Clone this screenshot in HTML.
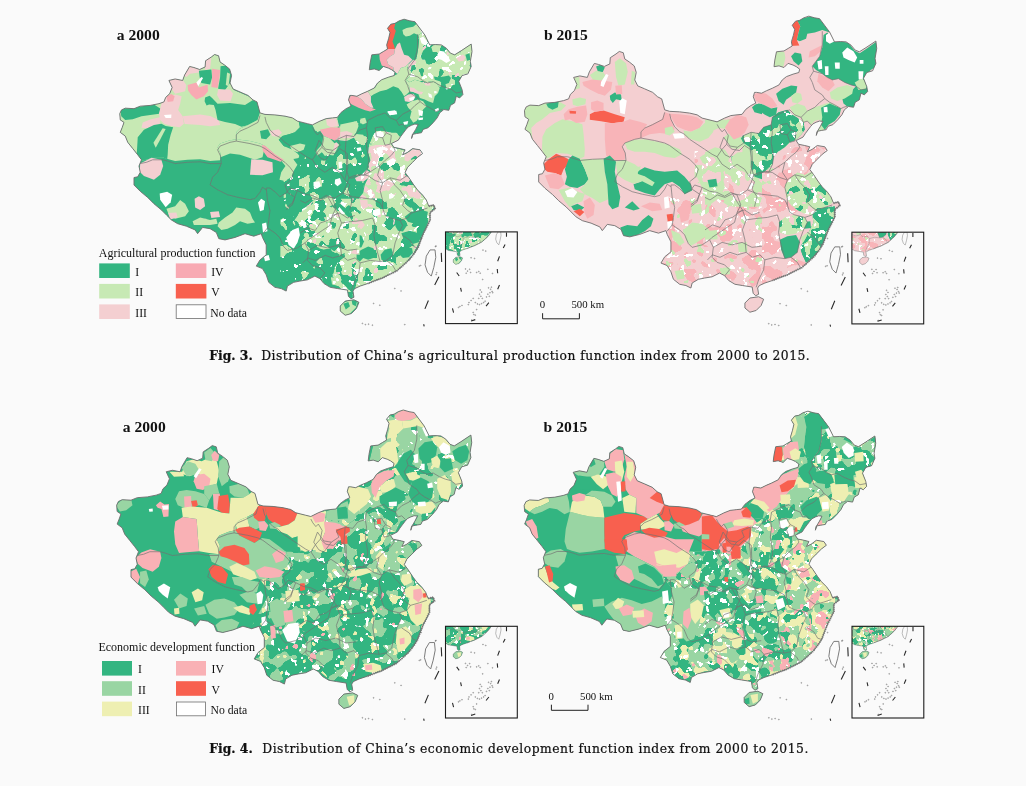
<!DOCTYPE html>
<html><head><meta charset="utf-8"><title>Fig 3 and Fig 4</title>
<style>
html,body{margin:0;padding:0;background:#fafafa;}
body{width:1026px;height:786px;overflow:hidden;position:relative;}
svg{position:absolute;left:0;top:0;}
.t{font-family:"Liberation Serif",serif;fill:#111;}
.ttl{font-family:"Liberation Serif",serif;font-weight:bold;font-size:15.6px;fill:#111;}
.cap{font-family:"DejaVu Serif","Liberation Serif",serif;font-size:12.3px;fill:#111;stroke:#111;stroke-width:0.22px;}
.lg{font-family:"Liberation Serif",serif;font-size:11.7px;fill:#111;}
.lt{font-family:"Liberation Serif",serif;font-size:12px;fill:#111;}
.sb{font-family:"Liberation Serif",serif;font-size:10.8px;fill:#111;}
</style></head><body>
<svg width="1026" height="786" viewBox="0 0 1026 786">
<defs>
<clipPath id="cn"><path d="M119.46,113.55 121.21,109.81 124.95,108.06 133.68,108.56 139.92,106.06 149.9,105.31 158.64,103.57 163.63,101.82 165.37,97.33 169.36,93.59 171.86,87.35 168.62,80.36 174.85,78.87 182.34,80.36 184.34,74.87 189.33,66.39 193.57,67.39 199.31,69.38 204.8,66.89 205.29,60.65 211.03,56.91 214.28,54.41 218.27,55.66 219.77,61.9 224.26,64.89 229.25,68.88 231.24,75.37 229.75,82.86 232.74,88.85 239.73,91.84 247.71,95.33 252.7,99.82 256.69,101.82 259.69,112.8 264.68,114.3 274.66,114.8 284.64,116.04 292.12,117.79 297.12,121.03 307.1,123.53 312.09,124.78 319.57,121.03 325.81,118.54 332.05,117.79 337.04,117.29 340.78,112.3 345.77,108.56 350.76,106.06 348.27,99.82 349.51,95.33 351.6,95.33 356.57,96.16 361.54,93.67 367.34,91.19 373.97,87.88 377.28,82.9 381.42,79.59 388.05,77.11 393.85,75.45 394.68,72.13 391.36,69.65 388.05,67.99 383.08,66.34 378.94,70.48 373.97,68.82 369,69.65 369.82,63.02 371.48,54.74 378.94,53.91 383.08,51.42 387.22,48.94 386.39,44.8 388.38,38.17 389.71,32.37 387.22,28.23 390.54,24.08 394.68,23.26 398.82,20.77 403.79,19.11 409.59,20.77 414.56,21.6 419.53,28.23 424.5,34.85 429.47,44.8 435.27,44.46 441.07,44.8 446.04,48.11 450.19,53.08 454.33,54.74 460.96,50.59 470.9,43.97 471.73,51.42 470.07,61.36 470.9,66.34 467.58,73.79 461.78,75.45 458.47,81.25 461.78,89.53 462.61,94.5 459.3,97.82 455.98,96.16 454.33,102.79 450.19,105.27 448.53,110.24 443.56,109.42 439.42,112.73 436.93,117.7 432.79,122.67 427.82,127.64 422.85,129.3 421.19,132.61 416.22,133.44 412.08,134.27 411.25,138.41 412.9,133.44 415.39,129.3 417.88,124.33 414.56,124 411.25,125.16 407.93,126.81 405.45,129.63 402.96,132.94 400.48,136.26 397.99,140.07 391.07,143.49 393.57,147.23 399.81,148.48 404.8,149.73 402.3,154.72 407.29,152.22 412.28,148.48 419.77,149.73 422.26,153.47 417.27,157.21 412.28,162.2 407.29,167.19 404.8,172.46 408.54,177.45 413.53,184.93 417.27,189.92 422.26,194.91 426,199.9 428.5,206.14 433.49,204.89 434.74,208.64 429.75,212.38 429.75,219.86 426.75,226.1 423.51,232.34 421.01,238.58 417.77,247.31 414.28,252.8 409.29,259.29 402.8,265.27 396.81,270.51 389.33,274.26 381.84,278 374.85,280.5 367.37,283.49 359.88,285.98 354.39,288.48 352.65,290.97 353.65,297.21 350.65,298.71 348.16,296.21 347.16,289.98 337.43,288.48 329.94,287.23 323.7,283.49 319.46,278.5 314.58,276 307.1,279.75 299.61,280.99 293.37,282.24 287.13,285.98 285.89,290.97 280.9,288.48 274.66,287.23 268.42,282.24 265.93,274.76 262.18,268.52 255.95,266.02 259.69,259.79 265.93,254.8 265.93,244.81 262.18,237.33 260.94,233.59 253.45,236.08 244.72,233.59 234.74,237.33 224.76,239.82 218.52,238.58 216.02,232.34 209.79,228.6 202.3,227.35 197.31,233.59 194.81,229.84 186.08,226.1 177.35,223.61 171.11,219.86 166.12,214.87 161.13,209.88 153.65,203.65 147.41,197.41 139.92,191.17 133.68,184.93 133.68,177.45 137.43,176.67 139.92,172.18 138.67,165.95 141.17,159.71 137.43,154.72 132.44,148.48 127.45,142.24 124.95,136 119.96,132.26 121.96,127.27 123.7,122.28 119.96,119.79Z"/><path d="M339.92,305.95 344.91,300.96 353.65,299.71 358.64,302.2 356.14,308.44 351.15,313.43 344.91,315.18 339.92,310.94Z"/></clipPath>
<g id="cnline" fill="none" stroke="#6e6e6e" stroke-width="0.9" stroke-linejoin="round"><path d="M119.46,113.55 121.21,109.81 124.95,108.06 133.68,108.56 139.92,106.06 149.9,105.31 158.64,103.57 163.63,101.82 165.37,97.33 169.36,93.59 171.86,87.35 168.62,80.36 174.85,78.87 182.34,80.36 184.34,74.87 189.33,66.39 193.57,67.39 199.31,69.38 204.8,66.89 205.29,60.65 211.03,56.91 214.28,54.41 218.27,55.66 219.77,61.9 224.26,64.89 229.25,68.88 231.24,75.37 229.75,82.86 232.74,88.85 239.73,91.84 247.71,95.33 252.7,99.82 256.69,101.82 259.69,112.8 264.68,114.3 274.66,114.8 284.64,116.04 292.12,117.79 297.12,121.03 307.1,123.53 312.09,124.78 319.57,121.03 325.81,118.54 332.05,117.79 337.04,117.29 340.78,112.3 345.77,108.56 350.76,106.06 348.27,99.82 349.51,95.33 351.6,95.33 356.57,96.16 361.54,93.67 367.34,91.19 373.97,87.88 377.28,82.9 381.42,79.59 388.05,77.11 393.85,75.45 394.68,72.13 391.36,69.65 388.05,67.99 383.08,66.34 378.94,70.48 373.97,68.82 369,69.65 369.82,63.02 371.48,54.74 378.94,53.91 383.08,51.42 387.22,48.94 386.39,44.8 388.38,38.17 389.71,32.37 387.22,28.23 390.54,24.08 394.68,23.26 398.82,20.77 403.79,19.11 409.59,20.77 414.56,21.6 419.53,28.23 424.5,34.85 429.47,44.8 435.27,44.46 441.07,44.8 446.04,48.11 450.19,53.08 454.33,54.74 460.96,50.59 470.9,43.97 471.73,51.42 470.07,61.36 470.9,66.34 467.58,73.79 461.78,75.45 458.47,81.25 461.78,89.53 462.61,94.5 459.3,97.82 455.98,96.16 454.33,102.79 450.19,105.27 448.53,110.24 443.56,109.42 439.42,112.73 436.93,117.7 432.79,122.67 427.82,127.64 422.85,129.3 421.19,132.61 416.22,133.44 412.08,134.27 411.25,138.41 412.9,133.44 415.39,129.3 417.88,124.33 414.56,124 411.25,125.16 407.93,126.81 405.45,129.63 402.96,132.94 400.48,136.26 397.99,140.07 391.07,143.49 393.57,147.23 399.81,148.48 404.8,149.73 402.3,154.72 407.29,152.22 412.28,148.48 419.77,149.73 422.26,153.47 417.27,157.21 412.28,162.2 407.29,167.19 404.8,172.46 408.54,177.45 413.53,184.93 417.27,189.92 422.26,194.91 426,199.9 428.5,206.14 433.49,204.89 434.74,208.64 429.75,212.38 429.75,219.86 426.75,226.1 423.51,232.34 421.01,238.58 417.77,247.31 414.28,252.8 409.29,259.29 402.8,265.27 396.81,270.51 389.33,274.26 381.84,278 374.85,280.5 367.37,283.49 359.88,285.98 354.39,288.48 352.65,290.97 353.65,297.21 350.65,298.71 348.16,296.21 347.16,289.98 337.43,288.48 329.94,287.23 323.7,283.49 319.46,278.5 314.58,276 307.1,279.75 299.61,280.99 293.37,282.24 287.13,285.98 285.89,290.97 280.9,288.48 274.66,287.23 268.42,282.24 265.93,274.76 262.18,268.52 255.95,266.02 259.69,259.79 265.93,254.8 265.93,244.81 262.18,237.33 260.94,233.59 253.45,236.08 244.72,233.59 234.74,237.33 224.76,239.82 218.52,238.58 216.02,232.34 209.79,228.6 202.3,227.35 197.31,233.59 194.81,229.84 186.08,226.1 177.35,223.61 171.11,219.86 166.12,214.87 161.13,209.88 153.65,203.65 147.41,197.41 139.92,191.17 133.68,184.93 133.68,177.45 137.43,176.67 139.92,172.18 138.67,165.95 141.17,159.71 137.43,154.72 132.44,148.48 127.45,142.24 124.95,136 119.96,132.26 121.96,127.27 123.7,122.28 119.96,119.79Z"/><path d="M339.92,305.95 344.91,300.96 353.65,299.71 358.64,302.2 356.14,308.44 351.15,313.43 344.91,315.18 339.92,310.94Z"/><path d="M429.75,249.81 434.74,249.81 435.49,257.29 433.49,267.27 430.99,276 427.25,272.26 424.76,264.78 426,256.04Z"/></g>
<g id="prov"><g fill="none" stroke="#727272" stroke-width="0.75" stroke-linejoin="round" opacity="0.9"><path d="M259.69,115.3 257.69,122.29 247.21,127.77 239.73,131.02 235.98,134.76 235.98,141 229.75,142.25 219.77,145.99 217.27,149.73 220.27,155.97 221.01,163.46 209.79,163.46 199.81,161.71 187.33,162.21 174.85,163.46 167.37,160.96 162.38,159.71 152.4,159.71 146.16,162.21 139.92,163.46"/><path d="M264.68,116.8 265.93,122.29 269.67,129.77 274.66,134.76 279.65,137.26 284.64,142.25 292.12,147.24 299.61,152.23 307.1,157.22 312.09,159.71 317.08,152.23 321.57,147.24 323.31,138.5 319.57,132.27 317.08,134.76 314.08,131.02 312.09,127.28"/><path d="M235.98,141 249.71,143.49 259.69,145.99 264.68,148.48 274.66,155.97 284.64,162.21 289.63,167.2 293.37,172.19 290.88,179.67 284.64,184.66 287.13,192.15 294.62,197.14 292.12,204.62 285.89,209.62"/><path d="M221.01,163.46 217.27,172.19 212.28,177.18 209.79,184.66 217.27,189.65 227.25,194.64 237.23,197.14 249.71,199.63 254.7,198.39 259.69,192.15 262.18,187.16 265.93,189.65"/><path d="M312.09,159.71 317.08,167.2 324.56,172.19 332.05,167.2 339.53,172.19 344.52,179.67 349.51,184.66 347.02,192.15 352.01,199.63 349.51,209.62"/><path d="M321.57,147.24 327.06,152.23 334.54,153.47 339.53,148.48 347.02,153.47 347.52,167.2 344.52,179.67"/><path d="M265.93,187.93 267.17,200.4 269.67,210.38 268.42,220.36 267.17,227.85 262.18,234.09"/><path d="M265.93,187.93 269.67,187.93 274.66,191.67 279.65,196.66 285.89,192.92 289.63,187.93 297.12,190.42 304.6,194.16 312.09,195.41 319.57,199.15 325.81,195.41 332.05,197.91"/><path d="M285.89,207.64 292.12,202.9 297.12,190.42"/><path d="M267.17,227.85 274.66,232.84 279.65,237.83 283.39,246.56 287.13,250.31 297.12,247.81 304.6,242.82 308.34,250.31 307.1,260.29 312.09,265.28 319.57,267.77 324.56,272.76 319.57,279"/><path d="M332.05,197.91 335.79,207.89 332.05,215.37 329.55,225.35 322.07,230.34 314.58,235.33 307.1,240.32 304.6,242.82"/><path d="M332.05,215.37 339.53,212.88 347.02,217.87 354.5,215.37"/><path d="M308.34,250.31 317.08,245.31 327.06,247.81 337.04,245.31 347.02,250.31 357,249.06"/><path d="M417.27,34.2 417.27,47.93 414.78,59.15 411.03,64.15 407.29,69.14 408.54,74.13 404.8,80.36 407.29,85.35 409.79,92.84 417.27,97.83 419.77,101.57 414.78,105.31 409.79,110.31 402.3,114.05 396.06,120.29 389.82,117.79 384.83,112.8 377.35,115.3 367.37,120.29 366.12,127.77 358.64,130.27 353.65,136.5 346.16,135.26 337.43,139 339.92,145.24 332.44,150.23 324.95,148.98 318.71,140.25"/><path d="M408.54,74.13 417.27,76.62 422.26,80.36 427.25,82.86 433.49,81.61 439.73,85.35 445.96,87.85 450.96,89.1 455.95,92.84 462.18,91.59"/><path d="M419.77,101.57 424.76,105.31 429.75,107.81 435.98,111.55 438.48,110.31 442.22,109.06"/><path d="M396.06,120.29 398.56,125.28 402.3,124.03 406.04,127.77"/><path d="M366.12,127.77 367.37,135.26 366.12,145.24 368.62,160.21 367.37,167.69 363.63,175.18"/><path d="M363.63,175.18 372.36,170.19 379.84,165.2 384.83,160.21 391.07,155.22 394.81,150.23 393.57,147.73"/><path d="M346.16,135.26 344.91,150.23 346.16,160.21 346.16,170.19 348.65,177.67 354.89,175.18 363.63,175.18"/><path d="M379.84,165.2 377.35,175.18 382.34,182.66 389.82,177.67 399.81,180.17 407.29,175.18 407.29,167.69"/><path d="M318.71,140.25 314.97,150.23 319.96,157.71 324.95,160.21 332.44,150.23"/><path d="M374.85,127.77 382.34,126.52 386.08,132.76 382.34,137.75 376.1,136.5 374.85,127.77"/><path d="M386.08,132.76 391.07,135.26 389.82,143.99 384.83,145.24 382.34,137.75"/><path d="M348.65,177.95 346.16,185.43 342.42,192.92 334.93,197.91 327.45,196.66 319.96,200.4 312.48,197.91 304.99,202.9 300,200.4"/><path d="M342.42,192.92 352.4,196.66 362.38,197.91 372.36,199.15 379.84,202.9 382.34,207.89"/><path d="M382.34,182.94 379.84,190.42 382.34,200.4 382.34,207.89 384.83,215.37 389.82,217.87 399.81,220.36 402.3,225.35 398.56,232.84 394.81,242.82 392.32,255.3 386.08,260.29 379.84,261.53"/><path d="M389.82,177.95 394.81,185.43 399.81,190.42 404.8,197.91 402.3,205.39 407.29,210.38 411.03,212.88 419.77,210.38 427.25,207.89"/><path d="M411.03,212.88 407.29,217.87 399.81,220.36"/><path d="M341.17,222.86 349.9,221.61 362.38,220.36 372.36,217.87 374.85,225.35 373.61,235.33 374.85,242.82 377.35,252.8 379.84,261.53 369.86,260.29 359.88,262.78 354.89,257.79 347.41,260.29 341.17,255.3"/><path d="M327.45,196.66 332.44,205.39 337.43,212.88 341.17,222.86 337.43,232.84 339.92,242.82 341.17,255.3 332.44,257.79 324.95,255.3 314.97,260.29 307.49,257.79 302.5,262.78"/><path d="M337.43,212.88 327.45,220.36 319.96,222.86 314.97,230.34 307.49,227.85 300,232.84"/><path d="M359.88,262.78 358.64,272.76 353.65,282.74 351.15,290.23"/><path d="M386.08,260.29 392.32,265.28 396.06,271.51"/><path d="M402.3,235.33 409.79,240.32 413.53,246.56 417.27,247.81"/><path d="M382.34,182.94 374.85,180.44 367.37,175.45 359.88,174.2 352.4,177.95 348.65,177.95"/></g></g>
<path id="coastfuzz" d="M428.5,206.14 433.49,204.89 434.74,208.64 429.75,212.38 429.75,219.86 426.75,226.1 423.51,232.34 421.01,238.58 417.77,247.31 414.28,252.8 409.29,259.29 402.8,265.27 396.81,270.51 389.33,274.26 381.84,278 374.85,280.5 367.37,283.49" fill="none" stroke="#777" stroke-width="2" stroke-dasharray="1.1 0.9" opacity="0.85"/>
</defs>
<g transform="translate(0.3,0.1) scale(1)"><g id="ma">
<g clip-path="url(#cn)"><rect x="100" y="0" width="400" height="340" fill="#33b581"/>
<filter id="f1" x="0" y="0" width="1" height="1" color-interpolation-filters="sRGB">
<feTurbulence type="fractalNoise" baseFrequency="0.09" numOctaves="2" seed="12" result="t1_0"/>
<feColorMatrix in="t1_0" type="matrix" values="0 0 0 0 0.780 0 0 0 0 0.914 0 0 0 0 0.706 60 0 0 0 -37.08" result="l0"/>
<feTurbulence type="fractalNoise" baseFrequency="0.16" numOctaves="2" seed="25" result="t2_0"/>
<feColorMatrix in="t2_0" type="matrix" values="0 0 0 0 1.000 0 0 0 0 1.000 0 0 0 0 1.000 60 0 0 0 -42.64" result="l1"/>
<feMerge><feMergeNode in="SourceGraphic"/><feMergeNode in="l0"/><feMergeNode in="l1"/></feMerge>
<feComposite in2="SourceAlpha" operator="in"/></filter>
<path fill="#33b581" filter="url(#f1)" d="M283.37,133.11 306.57,133.11 314.85,151.34 344.68,143.05 367.88,134.77 369.53,144.71 367.88,167.9 361.25,174.53 354.62,177.85 356.28,181.16 363.73,181.16 359.59,194.42 349.65,202.7 339.71,201.04 326.45,204.36 314.85,198.56 299.94,210.98 283.37,210.98Z"/>
<filter id="f2" x="0" y="0" width="1" height="1" color-interpolation-filters="sRGB">
<feTurbulence type="fractalNoise" baseFrequency="0.08" numOctaves="2" seed="18" result="t1_0"/>
<feColorMatrix in="t1_0" type="matrix" values="0 0 0 0 0.200 0 0 0 0 0.710 0 0 0 0 0.506 60 0 0 0 -37.08" result="l0"/>
<feTurbulence type="fractalNoise" baseFrequency="0.07" numOctaves="2" seed="31" result="t2_0"/>
<feColorMatrix in="t2_0" type="matrix" values="0 0 0 0 0.957 0 0 0 0 0.812 0 0 0 0 0.820 60 0 0 0 -35.34" result="l1"/>
<feTurbulence type="fractalNoise" baseFrequency="0.15" numOctaves="2" seed="44" result="t3_0"/>
<feColorMatrix in="t3_0" type="matrix" values="0 0 0 0 1.000 0 0 0 0 1.000 0 0 0 0 1.000 60 0 0 0 -38.07" result="l2"/>
<feMerge><feMergeNode in="SourceGraphic"/><feMergeNode in="l0"/><feMergeNode in="l1"/><feMergeNode in="l2"/></feMerge>
<feComposite in2="SourceAlpha" operator="in"/></filter>
<path fill="#c7e9b4" filter="url(#f2)" d="M368.7,144.71 372.85,134.77 376.16,130.62 382.79,130.62 389.42,132.28 396.04,132.28 400.19,137.25 396.04,142.22 391.07,143.88 393.56,147.69 399.69,148.85 404.33,150.51 402.67,154.98 407.64,152.5 412.61,148.85 422.55,149.68 422.55,153.99 417.58,157.63 412.61,162.44 407.31,167.9 404.33,174.53 409.3,177.85 414.27,184.47 419.24,192.76 425.04,196.9 432.5,204.36 429.18,225.07 299.94,225.07 296.63,217.61 301.6,210.98 308.23,204.36 314.85,198.56 319.82,201.04 326.45,204.36 333.08,202.7 339.71,201.04 344.68,207.67 349.65,202.7 354.62,201.04 359.59,194.42 362.9,187.79 363.73,181.16 356.28,181.16 354.62,177.85 361.25,174.53 367.88,167.9 370.36,161.28 367.88,152.99Z"/>
<filter id="f3" x="0" y="0" width="1" height="1" color-interpolation-filters="sRGB">
<feTurbulence type="fractalNoise" baseFrequency="0.09" numOctaves="2" seed="19" result="t1_0"/>
<feColorMatrix in="t1_0" type="matrix" values="0 0 0 0 0.780 0 0 0 0 0.914 0 0 0 0 0.706 60 0 0 0 -33.08" result="l0"/>
<feTurbulence type="fractalNoise" baseFrequency="0.15" numOctaves="2" seed="32" result="t2_0"/>
<feColorMatrix in="t2_0" type="matrix" values="0 0 0 0 1.000 0 0 0 0 1.000 0 0 0 0 1.000 60 0 0 0 -37.74" result="l1"/>
<feMerge><feMergeNode in="SourceGraphic"/><feMergeNode in="l0"/><feMergeNode in="l1"/></feMerge>
<feComposite in2="SourceAlpha" operator="in"/></filter>
<path fill="#f4cfd1" filter="url(#f3)" d="M369.53,146.36 376.16,144.71 380.3,149.68 379.47,156.31 376.16,164.59 372.85,169.56 376.16,174.53 382.79,177.85 389.42,181.16 396.04,184.47 397.7,191.1 392.73,197.73 386.1,201.04 379.47,197.73 372.85,201.04 367.88,194.42 362.9,191.1 364.56,182.82 367.88,177.85 369.53,171.22 367.88,164.59 371.19,157.96Z"/>
<filter id="f4" x="0" y="0" width="1" height="1" color-interpolation-filters="sRGB">
<feTurbulence type="fractalNoise" baseFrequency="0.09" numOctaves="2" seed="20" result="t1_0"/>
<feColorMatrix in="t1_0" type="matrix" values="0 0 0 0 0.780 0 0 0 0 0.914 0 0 0 0 0.706 60 0 0 0 -33.66" result="l0"/>
<feTurbulence type="fractalNoise" baseFrequency="0.15" numOctaves="2" seed="33" result="t2_0"/>
<feColorMatrix in="t2_0" type="matrix" values="0 0 0 0 1.000 0 0 0 0 1.000 0 0 0 0 1.000 60 0 0 0 -37.08" result="l1"/>
<feMerge><feMergeNode in="SourceGraphic"/><feMergeNode in="l0"/><feMergeNode in="l1"/></feMerge>
<feComposite in2="SourceAlpha" operator="in"/></filter>
<path fill="#f4cfd1" filter="url(#f4)" d="M356.28,201.04 362.9,199.39 367.88,204.36 369.53,210.98 364.56,217.61 357.93,219.27 354.62,210.98Z"/>
<path fill="#f4cfd1" d="M404.33,154.65 409.3,151.34 415.93,150.51 417.58,153.82 412.61,157.13 407.64,161.28 404.33,160.45Z"/>
<path fill="#c7e9b4" d="M312.37,124.82 318.17,121.51 325.62,119.85 323.14,124 325.62,127.31 319.82,130.62 314.85,130.62Z"/>
<path fill="#f4cfd1" d="M325.62,119.85 331.42,118.2 337.22,119.85 338.88,126.48 331.42,126.48 325.62,127.31 323.14,124Z"/>
<path fill="#f8aab3" d="M319.82,130.62 325.62,127.31 331.42,126.48 338.05,127.31 339.71,130.62 337.22,136.42 334.74,140.57 328.94,138.08 323.14,134.77Z"/>
<path fill="#f4cfd1" d="M337.22,131.45 344.68,129.8 351.31,128.14 352.96,130.62 347.99,133.94 343.02,136.42 337.22,136.42Z"/>
<path fill="#c7e9b4" d="M338.88,126.48 346.34,125.65 354.62,121.51 358.27,123.5 356.28,128.14 351.31,128.14 344.68,129.8 339.71,130.62Z"/>
<path fill="#c7e9b4" d="M359.59,119.85 363.73,118.2 365.39,121.51 362.9,124 359.92,123.17Z"/>
<path fill="#c7e9b4" d="M290,117.37 294.97,119.03 297.46,124 294.97,128.97 290,130.62Z"/>
<path fill="#c7e9b4" d="M290,148.02 294.97,144.71 301.6,143.05 305.74,144.71 304.08,149.68 299.94,152.99 298.28,157.96 293.31,158.79 290,156.31Z"/>
<path fill="#ffffff" d="M293.31,147.19 298.28,145.54 299.11,148.85 294.97,150.51Z"/>
<path fill="#c7e9b4" d="M314.85,151.34 318.17,146.36 321.48,143.88 323.14,148.02 328.11,149.68 333.08,146.36 337.22,143.05 338.88,144.71 336.39,149.68 333.08,155.48 328.11,154.65 321.48,152.16 317.34,155.48Z"/>
<path fill="#f4cfd1" d="M332.25,143.88 336.39,142.22 338.05,144.71 334.74,151.34 332.25,149.68Z"/>
<path fill="#f4cfd1" d="M290,158.79 293.31,159.62 294.14,164.59 291.66,167.9 290,167.08Z"/>
<path fill="#c7e9b4" d="M352.96,136.42 356.28,133.94 362.9,134.77 364.56,138.08 359.59,140.57 355.45,140.57Z"/>
<path fill="#ffffff" d="M356.28,148.02 360.42,147.19 361.25,150.51 357.11,151.34Z"/>
<path fill="#ffffff" d="M338.05,162.11 341.36,161.28 342.19,167.9 338.88,168.73Z"/>
<path fill="#ffffff" d="M313.2,181.99 319,181.16 320.65,186.13 316.51,188.62 313.2,186.13Z"/>
<path fill="#ffffff" d="M334.74,179.5 339.71,177.85 341.36,182.82 337.22,186.13 334.41,183.65Z"/>
<path fill="#ffffff" d="M386.93,111.57 396.04,110.74 396.87,114.05 389.42,115.21Z"/>
<path fill="#ffffff" d="M375.33,132.28 380.3,130.62 382.79,133.94 381.13,137.25 376.16,137.25Z"/>
<path fill="#33b581" d="M349.65,192.76 356.28,187.79 362.9,187.79 363.73,181.16 367.88,177.85 364.56,184.47 362.9,192.76 356.28,201.04 351.31,204.36 346.34,201.04Z"/>
<path fill="#ffffff" d="M376.16,148.02 381.13,146.36 382.79,152.16 379.47,156.31 376.16,152.99Z"/>
<path fill="#ffffff" d="M386.1,161.28 392.73,157.96 396.04,160.45 391.07,165.42 386.93,164.59Z"/>
<path fill="#ffffff" d="M372.02,210.98 377.82,207.67 381.13,212.64 376.99,218.44 372.85,216.78Z"/>
<filter id="f5" x="0" y="0" width="1" height="1" color-interpolation-filters="sRGB">
<feTurbulence type="fractalNoise" baseFrequency="0.09" numOctaves="2" seed="14" result="t1_0"/>
<feColorMatrix in="t1_0" type="matrix" values="0 0 0 0 0.780 0 0 0 0 0.914 0 0 0 0 0.706 60 0 0 0 -39.06" result="l0"/>
<feTurbulence type="fractalNoise" baseFrequency="0.16" numOctaves="2" seed="27" result="t2_0"/>
<feColorMatrix in="t2_0" type="matrix" values="0 0 0 0 1.000 0 0 0 0 1.000 0 0 0 0 1.000 60 0 0 0 -43.65" result="l1"/>
<feMerge><feMergeNode in="SourceGraphic"/><feMergeNode in="l0"/><feMergeNode in="l1"/></feMerge>
<feComposite in2="SourceAlpha" operator="in"/></filter>
<path fill="#33b581" filter="url(#f5)" d="M280.06,216.57 296.63,216.57 303.26,226.51 313.2,224.85 326.45,231.48 316.51,243.08 323.14,249.71 339.71,246.39 344.68,256.34 333.08,272.9 331.42,284.5 323.14,281.19 314.85,276.22 299.94,281.19 280.06,279.53Z"/>
<filter id="f6" x="0" y="0" width="1" height="1" color-interpolation-filters="sRGB">
<feTurbulence type="fractalNoise" baseFrequency="0.07" numOctaves="2" seed="30" result="t1_0"/>
<feColorMatrix in="t1_0" type="matrix" values="0 0 0 0 0.200 0 0 0 0 0.710 0 0 0 0 0.506 60 0 0 0 -33.66" result="l0"/>
<feTurbulence type="fractalNoise" baseFrequency="0.1" numOctaves="2" seed="43" result="t2_0"/>
<feColorMatrix in="t2_0" type="matrix" values="0 0 0 0 0.957 0 0 0 0 0.812 0 0 0 0 0.820 60 0 0 0 -42.64" result="l1"/>
<feTurbulence type="fractalNoise" baseFrequency="0.15" numOctaves="2" seed="56" result="t3_0"/>
<feColorMatrix in="t3_0" type="matrix" values="0 0 0 0 1.000 0 0 0 0 1.000 0 0 0 0 1.000 60 0 0 0 -38.73" result="l2"/>
<feMerge><feMergeNode in="SourceGraphic"/><feMergeNode in="l0"/><feMergeNode in="l1"/><feMergeNode in="l2"/></feMerge>
<feComposite in2="SourceAlpha" operator="in"/></filter>
<path fill="#c7e9b4" filter="url(#f6)" d="M299.94,209.94 309.88,204.97 323.14,198.34 432.5,198.34 434.15,206.63 430.01,211.6 428.35,221.54 424.21,229.82 420.9,238.11 417.58,244.74 413.44,253.02 409.3,257.99 404.33,264.62 399.36,269.59 392.73,274.56 386.1,277.05 380.3,280.36 372.85,282.85 366.22,285.33 359.59,286.99 353.79,289.47 352.13,297.76 347.16,297.76 347.16,290.3 341.36,289.47 338.05,286.16 331.42,284.5 330.59,277.88 333.08,272.9 334.74,266.28 338.05,261.31 344.68,256.34 343.02,251.36 339.71,246.39 331.42,248.05 323.14,249.71 318.17,248.05 316.51,243.08 319.82,238.11 326.45,231.48 328.11,228.17 323.14,224.85 318.17,226.51 313.2,224.85 308.23,228.17 303.26,226.51 298.28,221.54 296.63,216.57Z"/>
<path fill="#33b581" d="M328.94,209.94 333.08,204.97 339.71,203.31 345.51,208.28 343.85,214.08 338.05,214.91 332.25,216.57Z"/>
<path fill="#33b581" d="M314.85,221.54 319.82,218.23 328.11,215.74 333.91,218.23 334.74,224.85 329.77,229 323.14,224.85 318.17,227.34Z"/>
<path fill="#33b581" d="M352.13,237.28 356.28,233.97 361.25,235.62 363.73,241.42 361.25,247.22 356.28,248.05 352.13,243.08Z"/>
<path fill="#33b581" d="M356.28,253.02 361.25,249.71 367.88,246.39 372.85,248.05 376.16,253.02 372.85,257.99 367.88,259.65 362.9,257.99 359.59,261.31 356.28,258.82Z"/>
<path fill="#33b581" d="M380.3,254.68 384.44,249.71 391.07,248.05 392.73,253.02 390.24,257.99 386.1,261.31 381.13,259.65Z"/>
<path fill="#33b581" d="M394.39,221.54 399.36,217.4 404.33,221.54 405.98,226.51 402.67,231.48 397.7,230.65 395.21,226.51Z"/>
<path fill="#33b581" d="M404.33,216.57 410.96,211.6 420.9,209.94 427.52,211.6 426.7,218.23 419.24,221.54 412.61,223.2 407.64,221.54Z"/>
<path fill="#33b581" d="M401.01,233.14 409.3,230.65 415.93,232.31 420.9,235.62 418.41,242.25 412.61,243.91 405.98,240.59 402.67,237.28Z"/>
<path fill="#33b581" d="M398.53,249.71 404.33,246.39 411.78,248.05 412.61,253.02 408.47,257.16 402.67,257.99 399.36,254.68Z"/>
<path fill="#33b581" d="M346.34,291.96 352.13,291.96 352.63,297.76 347.99,298.09Z"/>
<path fill="#33b581" d="M293.31,219.88 299.94,218.23 304.91,223.2 301.6,229.82 294.97,228.17Z"/>
<path fill="#f4cfd1" d="M355.45,221.54 361.25,219.88 364.56,224.85 361.25,229 356.28,227.34Z"/>
<path fill="#f4cfd1" d="M359.59,200 367.05,200 367.88,206.63 362.9,209.11 360.42,204.97Z"/>
<path fill="#ffffff" d="M319.82,221.54 325.62,220.71 327.28,224.85 322.31,227.34 319.49,224.85Z"/>
<path fill="#ffffff" d="M372.85,209.94 379.47,208.28 380.3,214.08 375.33,216.57 372.02,214.08Z"/>
<path fill="#ffffff" d="M290,231.48 294.97,229.82 298.28,234.8 296.63,243.08 291.66,246.39 290,244.74Z"/>
<path fill="#c7e9b4" d="M338.88,307.7 343.02,302.73 351.31,299.42 357.93,300.24 355.45,307.7 347.99,315.16 341.36,314.33Z"/>
<path fill="#33b581" d="M343.02,303.56 347.99,301.9 349.65,306.04 345.51,309.36Z"/>
<path fill="#33b581" d="M351.31,300.24 357.11,300.24 355.45,306.04 352.13,304.39Z"/>
<path fill="#c7e9b4" d="M166.12,208.64 174.85,206.14 179.84,199.9 184.83,203.65 188.58,211.13 184.83,216.12 174.85,218.62 168.62,214.87Z"/>
<path fill="#f4cfd1" d="M194.32,198.65 198.56,196.16 203.55,198.65 204.8,206.14 199.81,209.88 194.81,207.39Z"/>
<path fill="#f4cfd1" d="M167.87,212.88 176.1,212.38 177.35,217.37 169.86,219.36Z"/>
<path fill="#f4cfd1" d="M209.79,211.88 218.52,211.13 219.77,216.87 211.03,217.87Z"/>
<path fill="#f4cfd1" d="M198.56,219.12 206.04,218.62 206.04,223.61 199.31,224.11Z"/>
<path fill="#c7e9b4" d="M218.52,222.36 224.76,217.37 232.24,212.38 235.98,207.39 244.72,208.64 249.71,212.38 252.2,218.62 254.7,222.36 247.21,223.61 239.73,221.11 234.74,224.85 227.25,228.6 221.01,229.84 217.27,226.1Z"/>
<path fill="#c7e9b4" d="M192.32,221.11 199.81,217.37 209.79,219.86 216.02,218.62 217.27,223.61 209.79,224.85 199.81,224.85 193.57,224.85Z"/>
<path fill="#ffffff" d="M257.69,202.4 260.94,198.65 264.68,201.15 263.43,209.88 259.69,211.13Z"/>
<path fill="#ffffff" d="M261.68,223.61 265.93,222.36 267.17,231.09 262.68,232.34Z"/>
<filter id="f7" x="0" y="0" width="1" height="1" color-interpolation-filters="sRGB">
<feTurbulence type="fractalNoise" baseFrequency="0.08" numOctaves="2" seed="38" result="t1_0"/>
<feColorMatrix in="t1_0" type="matrix" values="0 0 0 0 0.200 0 0 0 0 0.710 0 0 0 0 0.506 60 0 0 0 -33.08" result="l0"/>
<feTurbulence type="fractalNoise" baseFrequency="0.1" numOctaves="2" seed="51" result="t2_0"/>
<feColorMatrix in="t2_0" type="matrix" values="0 0 0 0 0.957 0 0 0 0 0.812 0 0 0 0 0.820 60 0 0 0 -42.64" result="l1"/>
<feTurbulence type="fractalNoise" baseFrequency="0.15" numOctaves="2" seed="64" result="t3_0"/>
<feColorMatrix in="t3_0" type="matrix" values="0 0 0 0 1.000 0 0 0 0 1.000 0 0 0 0 1.000 60 0 0 0 -37.41" result="l2"/>
<feMerge><feMergeNode in="SourceGraphic"/><feMergeNode in="l0"/><feMergeNode in="l1"/><feMergeNode in="l2"/></feMerge>
<feComposite in2="SourceAlpha" operator="in"/></filter>
<path fill="#c7e9b4" filter="url(#f7)" d="M292.12,222.36 299.61,212.38 307.1,207.39 314.58,199.9 322.07,198.65 329.55,194.91 334.54,199.9 339.53,207.39 345.77,214.87 352.01,219.86 359.49,224.85 359.49,254.8 347.02,252.3 339.53,254.8 332.05,249.81 324.56,244.81 317.08,247.31 309.59,242.32 302.11,234.83 297.12,229.84Z"/>
<path fill="#ffffff" d="M285.89,237.33 292.12,229.84 298.36,227.35 299.61,234.83 297.12,242.32 293.37,248.56 288.38,244.81Z"/>
<path fill="#ffffff" d="M263.43,256.04 268.42,254.8 269.67,259.79 264.68,261.03Z"/>
<path fill="#c7e9b4" d="M114.97,111.05 162.38,99.82 172.36,84.85 166.12,77.37 189.82,63.65 214.78,51.17 233.49,73.63 233.49,89.84 259.69,101.07 262.18,113.55 257.19,119.79 247.21,125.27 239.73,128.52 235.98,132.26 235.98,139.25 229.75,140.25 219.77,143.49 217.27,147.23 220.27,153.47 219.77,160.21 209.79,160.96 199.81,159.21 187.33,159.71 174.85,160.96 167.37,158.96 162.38,157.21 152.4,157.21 146.16,159.71 139.92,160.96 114.97,134.76Z"/>
<path fill="#33b581" d="M119.96,109.31 133.68,107.31 153.65,104.32 160.38,108.56 158.88,113.55 149.9,114.8 141.17,116.04 132.44,119.04 124.95,119.79 120.96,116.04Z"/>
<path fill="#f4cfd1" d="M161.38,102.82 165.37,96.83 174.85,94.34 181.34,96.08 179.84,103.57 177.85,109.81 182.34,116.04 183.59,123.53 179.35,127.27 171.11,126.02 163.63,123.53 159.88,119.79 158.64,113.55 159.88,108.56Z"/>
<path fill="#f4cfd1" d="M160.38,116.79 149.9,119.29 142.42,122.28 141.17,127.77 148.65,128.52 159.38,123.78Z"/>
<path fill="#f4cfd1" d="M182.34,116.04 199.81,114.3 209.79,115.79 218.52,119.79 219.77,124.78 209.79,126.27 199.81,124.78 184.34,123.78Z"/>
<path fill="#f8aab3" d="M166.12,96.08 171.11,93.84 174.35,96.08 172.86,101.07 167.37,101.82Z"/>
<path fill="#ffffff" d="M163.63,114.8 171.11,114.3 170.86,117.79 165.37,117.79Z"/>
<path fill="#33b581" d="M137.43,137.25 143.66,129.77 153.65,124.78 161.13,123.53 165.37,126.02 172.86,127.27 170.36,134.76 167.87,144.74 167.37,154.72 166.87,159.21 162.38,157.21 152.4,157.71 146.16,159.71 139.92,160.96 136.43,154.72 136.93,145.98Z"/>
<path fill="#c7e9b4" d="M153.15,142.74 162.38,128.27 165.37,129.02 158.88,141.49 155.39,147.73Z"/>
<path fill="#f4cfd1" d="M168.62,79.86 174.85,78.37 182.84,80.36 186.08,84.85 184.83,91.09 174.85,93.59 171.11,88.6Z"/>
<path fill="#f4cfd1" d="M183.59,75.37 189.33,65.89 199.31,69.38 198.56,72.38 189.82,73.63 186.08,76.87Z"/>
<path fill="#33b581" d="M198.56,70.63 211.03,69.38 211.78,77.37 209.79,84.35 201.05,82.86 199.31,76.87Z"/>
<path fill="#ffffff" d="M196.06,82.36 201.05,76.87 202.8,77.87 197.81,86.35 195.81,85.35Z"/>
<path fill="#f8aab3" d="M187.33,84.85 196.06,82.36 198.56,87.35 207.29,84.35 207.79,91.09 203.55,96.08 196.06,99.33 191.07,94.83 187.83,90.34Z"/>
<path fill="#f4cfd1" d="M204.8,59.9 211.03,57.41 209.79,68.64 204.8,69.88Z"/>
<path fill="#f8aab3" d="M211.78,68.64 219.77,69.88 219.27,77.37 217.27,87.85 211.03,86.85 211.78,77.37Z"/>
<path fill="#33b581" d="M220.27,66.14 226,65.39 230.25,69.88 231.24,76.12 229.75,82.86 224.76,89.84 217.77,88.6 219.77,77.37Z"/>
<path fill="#c7e9b4" d="M226.75,72.38 229.75,73.63 228.25,86.1 225.5,84.85Z"/>
<path fill="#f4cfd1" d="M217.77,89.35 229.75,89.35 232.74,93.59 230.25,101.07 219.77,100.32 216.77,94.83Z"/>
<path fill="#33b581" d="M204.8,97.33 209.29,95.58 211.78,97.83 217.27,103.57 229.75,102.82 244.72,104.81 252.7,99.82 256.69,101.82 260.19,112.8 257.69,119.79 247.71,125.27 241.22,126.77 234.74,123.78 224.76,121.78 217.27,119.79 215.27,109.81 213.53,104.81 208.79,104.32 206.29,105.31 204.3,101.07Z"/>
<path fill="#c7e9b4" d="M259.69,112.3 274.66,114.3 292.12,117.29 298.36,121.03 299.61,127.27 294.62,132.26 289.63,134.01 282.14,136 278.4,139.75 283.39,145.98 292.12,149.73 293.37,159.71 297.12,164.7 293.37,170.94 290.88,177.17 284.64,180.92 279.15,179.67 280.9,172.18 285.14,165.95 280.15,159.71 274.66,154.72 264.68,145.98 259.69,143.49 249.71,140.99 239.73,139.75 229.75,140.25 235.98,139.25 235.98,132.26 239.73,128.52 247.21,125.27 257.19,119.79Z"/>
<path fill="#33b581" d="M259.69,131.01 267.67,129.27 270.17,134.76 265.93,139.25 260.94,138.5Z"/>
<path fill="#f4cfd1" d="M269.67,131.01 278.4,129.27 281.65,132.76 277.65,136.75 271.66,136Z"/>
<path fill="#33b581" d="M278.4,139.75 282.14,136 289.63,134.01 294.62,132.26 299.61,127.27 298.61,121.78 307.1,123.53 312.09,124.78 314.08,132.26 319.57,136 321.57,144.74 317.08,149.73 312.09,157.21 307.1,154.72 302.6,159.71 297.12,153.47 292.12,149.73 283.39,145.98Z"/>
<path fill="#c7e9b4" d="M289.63,145.98 299.61,143.49 305.1,144.74 303.35,149.73 297.12,152.22 291.63,150.23Z"/>
<path fill="#c7e9b4" d="M219.77,143.49 229.75,140.25 239.73,139.75 249.71,140.99 259.69,143.49 264.68,145.98 262.18,157.21 254.7,159.71 247.21,157.21 239.73,154.72 229.75,153.47 220.27,157.21 220.27,153.47 217.27,147.23Z"/>
<path fill="#f8aab3" d="M261.68,144.74 265.18,145.98 274.66,154.22 283.39,159.71 280.15,161.7 274.66,159.71 267.17,157.21 262.68,150.97Z"/>
<path fill="#f4cfd1" d="M250.96,159.21 262.18,159.71 272.16,162.2 272.66,172.18 262.18,175.18 249.71,174.68Z"/>
<path fill="#c7e9b4" d="M312.09,124.78 319.57,121.03 325.81,118.54 337.04,117.29 337.54,127.27 332.05,129.77 323.31,129.27 317.08,132.26Z"/>
<path fill="#f4cfd1" d="M325.81,119.29 335.79,117.79 337.54,126.02 330.8,127.27 326.56,124.78Z"/>
<path fill="#f8aab3" d="M319.57,129.77 330.8,127.27 339.53,127.77 343.27,132.26 335.79,139.75 329.55,138.5 323.31,136Z"/>
<path fill="#f4cfd1" d="M335.79,139.75 343.27,132.26 352.01,131.01 354.5,137.25 345.77,140.99Z"/>
<path fill="#c7e9b4" d="M321.57,144.74 323.31,136 329.55,138.5 334.54,143.49 332.05,153.47 324.56,155.96 320.82,150.97Z"/>
<path fill="#f4cfd1" d="M139.92,163.45 151.15,157.71 161.13,159.71 162.88,165.95 159.88,174.68 153.65,179.67 143.66,175.93 139.42,171.68Z"/>
<path fill="#ffffff" d="M159.38,193.39 166.87,191.65 171.86,194.64 170.36,202.12 165.37,207.12 159.88,199.63Z"/>
<path fill="#f8604f" d="M386.39,28.56 390.54,23.59 395.01,23.75 393.85,28.23 395.51,30.71 393.85,36.51 392.19,41.48 393.85,45.62 394.68,49.27 386.73,49.27 386.06,44.8 388.38,38.17 389.71,32.37Z"/>
<path fill="#c7e9b4" d="M402.13,29.88 406.28,27.89 412.9,26.57 417.05,23.26 420.36,28.23 421.19,33.2 417.88,34.85 413.73,33.2 409.59,35.68 405.45,36.51 402.96,34.03Z"/>
<path fill="#f8aab3" d="M378.94,53.41 383.08,51.09 387.22,48.94 394.68,48.94 393.85,53.91 389.71,56.39 386.39,59.71 388.05,64.68 393.02,67.16 392.19,70.48 387.22,67.99 381.42,65.51 379.43,59.71Z"/>
<path fill="#f4cfd1" d="M394.68,48.94 397.16,43.97 399.65,42.31 401.31,48.11 403.79,54.74 407.93,55.57 412.08,59.71 408.76,63.02 405.45,66.34 400.48,67.99 397.16,73.79 393.02,70.48 393.02,67.16 388.05,64.68 386.39,59.71 389.71,56.39 393.85,53.91Z"/>
<path fill="#c7e9b4" d="M397.16,73.79 400.48,67.99 405.45,66.34 408.76,63.02 407.11,67.99 411.25,71.31 409.59,76.28 405.45,79.59 406.28,82.9 408.76,86.22 409.59,91.19 406.28,94.5 403.79,96.16 401.31,92.02 397.99,87.88 393.02,86.22 386.39,89.53 379.77,91.19 373.14,94.5 370.65,96.16 367.34,91.19 374.8,87.54 377.28,82.57 381.42,79.26 388.05,76.77 394.68,75.12Z"/>
<path fill="#f8aab3" d="M347.62,98.65 351.6,94.83 356.57,96.16 361.54,99.47 364.85,103.62 370.65,107.76 375.62,109.42 369.82,111.4 364.85,110.24 358.23,107.76 351.6,104.44 347.62,101.96Z"/>
<path fill="#f4cfd1" d="M356.57,96.16 361.54,93.34 367.34,91.19 370.65,96.16 370.65,101.96 373.14,107.76 370.65,107.76 364.85,103.62 361.54,99.47Z"/>
<filter id="f8" x="0" y="0" width="1" height="1" color-interpolation-filters="sRGB">
<feTurbulence type="fractalNoise" baseFrequency="0.08" numOctaves="2" seed="68" result="t1_0"/>
<feColorMatrix in="t1_0" type="matrix" values="0 0 0 0 0.200 0 0 0 0 0.710 0 0 0 0 0.506 60 0 0 0 -34.29" result="l0"/>
<feTurbulence type="fractalNoise" baseFrequency="0.1" numOctaves="2" seed="81" result="t2_0"/>
<feColorMatrix in="t2_0" type="matrix" values="0 0 0 0 0.957 0 0 0 0 0.812 0 0 0 0 0.820 60 0 0 0 -43.65" result="l1"/>
<feTurbulence type="fractalNoise" baseFrequency="0.15" numOctaves="2" seed="94" result="t3_0"/>
<feColorMatrix in="t3_0" type="matrix" values="0 0 0 0 1.000 0 0 0 0 1.000 0 0 0 0 1.000 60 0 0 0 -39.06" result="l2"/>
<feMerge><feMergeNode in="SourceGraphic"/><feMergeNode in="l0"/><feMergeNode in="l1"/><feMergeNode in="l2"/></feMerge>
<feComposite in2="SourceAlpha" operator="in"/></filter>
<path fill="#c7e9b4" filter="url(#f8)" d="M417.88,34.85 421.19,33.2 419.53,27.4 424.5,34.52 429.47,44.46 441.07,44.46 450.19,52.75 454.33,54.41 471.23,43.47 472.55,51.42 470.57,61.36 471.23,66.34 467.91,74.12 462.12,75.78 458.47,81.25 455.98,82.9 452.67,87.88 447.7,91.19 443.56,86.22 439.42,87.88 436.1,82.9 431.13,81.25 426.16,82.08 422.85,82.9 419.53,81.25 414.56,79.59 409.59,82.08 405.45,79.59 409.59,76.28 411.25,71.31 407.11,67.99 412.9,61.36 416.22,58.05 417.88,48.11 418.7,39.82Z"/>
<path fill="#33b581" d="M422.85,50.59 426.99,46.45 431.13,47.28 432.79,53.08 434.44,58.05 430.3,60.54 426.16,59.71 422.02,59.71 420.36,56.39Z"/>
<path fill="#33b581" d="M433.62,76.28 437.76,77.11 443.56,76.28 448.53,75.45 450.68,77.93 448.53,82.9 443.56,84.56 439.42,81.25 434.44,79.59Z"/>
<path fill="#33b581" d="M465.1,54.74 469.24,53.08 470.07,59.71 466.75,60.54Z"/>
<path fill="#ffffff" d="M419.53,38.17 422.85,36.51 427.82,42.31 425.33,45.62 421.19,43.14Z"/>
<path fill="#ffffff" d="M436.93,54.74 439.42,50.59 443.56,51.42 447.7,56.39 450.19,60.54 446.04,63.02 441.07,59.71 437.76,58.88Z"/>
<path fill="#f4cfd1" d="M455.98,58.05 462.61,54.41 465.1,57.22 463.44,60.54 458.47,61.36Z"/>
<path fill="#f4cfd1" d="M407.93,64.68 412.9,59.71 416.22,61.36 414.56,64.68 411.25,65.51 410.42,70.48 407.93,68.82Z"/>
<path fill="#c7e9b4" d="M405.45,79.59 409.59,82.08 414.56,79.59 419.53,81.25 422.85,82.9 426.16,82.08 431.13,81.25 436.1,82.9 439.42,87.88 437.76,92.85 434.44,96.16 432.79,102.79 427.82,101.13 424.5,99.47 419.53,97.82 417.88,93.67 412.9,92.02 409.59,91.19 408.76,86.22 406.28,82.9Z"/>
<path fill="#f4cfd1" d="M409.59,87.05 413.73,87.88 417.88,91.19 422.85,92.02 421.19,94.5 417.05,93.67 412.9,92.02 409.59,91.19Z"/>
<path fill="#f4cfd1" d="M423.67,82.9 429.47,82.57 430.3,85.39 425.33,85.39Z"/>
<path fill="#ffffff" d="M427.82,92.85 431.13,94.5 431.96,97.82 428.65,96.99Z"/>
<path fill="#ffffff" d="M433.62,91.19 436.1,90.86 436.43,92.85 434.11,93.34Z"/>
<path fill="#ffffff" d="M434.44,109.42 438.09,107.76 438.75,110.74 435.27,111.9Z"/>
<path fill="#c7e9b4" d="M406.28,104.44 411.25,101.13 417.88,99.47 422.85,101.13 426.16,106.1 422.85,109.42 419.53,116.04 416.22,121.01 412.9,122.67 409.59,117.7 411.25,111.07 407.93,107.76Z"/>
<path fill="#f4cfd1" d="M403.79,96.99 407.93,94.5 412.9,93.67 415.39,96.16 412.9,100.3 408.76,101.96 404.62,101.13Z"/>
<path fill="#ffffff" d="M408.76,97.82 414.56,96.16 413.73,99.47 409.59,100.8Z"/>
<path fill="#ffffff" d="M417.88,109.42 422.85,111.07 422.02,116.04 418.7,115.21Z"/>
<path fill="#ffffff" d="M417.88,117.7 422.85,117.37 422.51,119.69 418.21,120.19Z"/>
<path fill="#c7e9b4" d="M340,124.33 348.28,122.67 356.57,121.01 358.23,125.98 355.74,132.61 351.6,137.58 348.28,140.07 340,140.07Z"/>
<path fill="#c7e9b4" d="M359.88,118.53 364.85,117.7 366.51,122.67 362.37,124.33Z"/>
<path fill="#f4cfd1" d="M340,131.78 346.63,130.96 352.43,133.44 349.94,137.58 343.31,138.41 340,137.58Z"/>
<path fill="#ffffff" d="M387.22,111.07 394.68,110.24 396.34,113.56 389.71,115.21Z"/>
<path fill="#ffffff" d="M375.62,132.61 383.08,131.78 383.91,136.75 377.28,137.58Z"/>
<path fill="#ffffff" d="M402.96,121.84 407.93,121.01 407.11,124.33 403.79,124.66Z"/>
<path fill="#c7e9b4" d="M384.74,134.27 389.71,132.61 397.16,133.44 397.99,140.07 386.39,140.07Z"/>
</g>
<use href="#prov" clip-path="url(#cn)"/>
<use href="#coastfuzz"/>
<use href="#cnline"/>
</g></g>
<g transform="translate(0,0)">
<clipPath id="ica"><rect x="445.5" y="231.9" width="71.79999999999995" height="91.70000000000002"/></clipPath>
<g clip-path="url(#ica)"><use href="#ma" transform="translate(283.3,106.8) scale(0.5)"/></g>
<path d="M506.49,232.6L506.49,236.79M505.09,244.49L503.27,247.99M499.49,256.39L497.67,261.28M497.25,268.98L497.67,273.18M499.49,285.08L497.67,289.27M488.85,302.57L486.06,306.07M475.28,319.64L471.08,321.04M452.47,308.45L453.59,312.65M460.59,287.88L461.42,291.65M456.67,272.48L459.19,275.98M441.27,252.89L441.69,261.98M438.89,276.68L434.69,285.08M428.4,300.47L424.9,308.87M423.64,324.26L424.2,326.36" stroke="#2a2a2a" stroke-width="1.1" fill="none"/>
<path d="M482.53,250.09a0.45,0.45 0 1,0 0.9,0a0.45,0.45 0 1,0 -0.9,0M485.33,251.07a0.45,0.45 0 1,0 0.9,0a0.45,0.45 0 1,0 -0.9,0M470.63,257.79a0.45,0.45 0 1,0 0.9,0a0.45,0.45 0 1,0 -0.9,0M474.13,258.49a0.45,0.45 0 1,0 0.9,0a0.45,0.45 0 1,0 -0.9,0M465.03,268.98a0.45,0.45 0 1,0 0.9,0a0.45,0.45 0 1,0 -0.9,0M467.13,271.08a0.45,0.45 0 1,0 0.9,0a0.45,0.45 0 1,0 -0.9,0M469.23,269.26a0.45,0.45 0 1,0 0.9,0a0.45,0.45 0 1,0 -0.9,0M470.21,272.48a0.45,0.45 0 1,0 0.9,0a0.45,0.45 0 1,0 -0.9,0M465.73,273.18a0.45,0.45 0 1,0 0.9,0a0.45,0.45 0 1,0 -0.9,0M476.23,272.48a0.45,0.45 0 1,0 0.9,0a0.45,0.45 0 1,0 -0.9,0M478.33,271.50a0.45,0.45 0 1,0 0.9,0a0.45,0.45 0 1,0 -0.9,0M479.73,273.18a0.45,0.45 0 1,0 0.9,0a0.45,0.45 0 1,0 -0.9,0M487.43,269.26a0.45,0.45 0 1,0 0.9,0a0.45,0.45 0 1,0 -0.9,0M492.04,273.46a0.45,0.45 0 1,0 0.9,0a0.45,0.45 0 1,0 -0.9,0M482.25,279.48a0.45,0.45 0 1,0 0.9,0a0.45,0.45 0 1,0 -0.9,0M479.73,289.97a0.45,0.45 0 1,0 0.9,0a0.45,0.45 0 1,0 -0.9,0M481.13,292.07a0.45,0.45 0 1,0 0.9,0a0.45,0.45 0 1,0 -0.9,0M479.03,294.17a0.45,0.45 0 1,0 0.9,0a0.45,0.45 0 1,0 -0.9,0M480.43,296.27a0.45,0.45 0 1,0 0.9,0a0.45,0.45 0 1,0 -0.9,0M481.83,298.37a0.45,0.45 0 1,0 0.9,0a0.45,0.45 0 1,0 -0.9,0M478.33,298.37a0.45,0.45 0 1,0 0.9,0a0.45,0.45 0 1,0 -0.9,0M488.13,287.88a0.45,0.45 0 1,0 0.9,0a0.45,0.45 0 1,0 -0.9,0M490.22,289.27a0.45,0.45 0 1,0 0.9,0a0.45,0.45 0 1,0 -0.9,0M491.62,291.37a0.45,0.45 0 1,0 0.9,0a0.45,0.45 0 1,0 -0.9,0M489.52,292.77a0.45,0.45 0 1,0 0.9,0a0.45,0.45 0 1,0 -0.9,0M487.43,294.17a0.45,0.45 0 1,0 0.9,0a0.45,0.45 0 1,0 -0.9,0M488.82,296.27a0.45,0.45 0 1,0 0.9,0a0.45,0.45 0 1,0 -0.9,0M486.03,296.97a0.45,0.45 0 1,0 0.9,0a0.45,0.45 0 1,0 -0.9,0M492.32,292.77a0.45,0.45 0 1,0 0.9,0a0.45,0.45 0 1,0 -0.9,0M490.92,287.18a0.45,0.45 0 1,0 0.9,0a0.45,0.45 0 1,0 -0.9,0M472.73,298.37a0.45,0.45 0 1,0 0.9,0a0.45,0.45 0 1,0 -0.9,0M470.63,300.47a0.45,0.45 0 1,0 0.9,0a0.45,0.45 0 1,0 -0.9,0M468.53,302.57a0.45,0.45 0 1,0 0.9,0a0.45,0.45 0 1,0 -0.9,0M467.83,304.67a0.45,0.45 0 1,0 0.9,0a0.45,0.45 0 1,0 -0.9,0M474.83,302.57a0.45,0.45 0 1,0 0.9,0a0.45,0.45 0 1,0 -0.9,0M476.93,303.97a0.45,0.45 0 1,0 0.9,0a0.45,0.45 0 1,0 -0.9,0M479.03,304.67a0.45,0.45 0 1,0 0.9,0a0.45,0.45 0 1,0 -0.9,0M481.13,303.69a0.45,0.45 0 1,0 0.9,0a0.45,0.45 0 1,0 -0.9,0M483.23,302.57a0.45,0.45 0 1,0 0.9,0a0.45,0.45 0 1,0 -0.9,0M484.63,301.17a0.45,0.45 0 1,0 0.9,0a0.45,0.45 0 1,0 -0.9,0M461.53,305.37a0.45,0.45 0 1,0 0.9,0a0.45,0.45 0 1,0 -0.9,0M459.44,306.49a0.45,0.45 0 1,0 0.9,0a0.45,0.45 0 1,0 -0.9,0M458.04,307.47a0.45,0.45 0 1,0 0.9,0a0.45,0.45 0 1,0 -0.9,0M472.73,312.37a0.45,0.45 0 1,0 0.9,0a0.45,0.45 0 1,0 -0.9,0M473.43,314.47a0.45,0.45 0 1,0 0.9,0a0.45,0.45 0 1,0 -0.9,0M474.83,315.17a0.45,0.45 0 1,0 0.9,0a0.45,0.45 0 1,0 -0.9,0M476.23,309.57a0.45,0.45 0 1,0 0.9,0a0.45,0.45 0 1,0 -0.9,0M471.33,320.06a0.45,0.45 0 1,0 0.9,0a0.45,0.45 0 1,0 -0.9,0M434.94,246.59a0.45,0.45 0 1,0 0.9,0a0.45,0.45 0 1,0 -0.9,0M420.25,265.48a0.45,0.45 0 1,0 0.9,0a0.45,0.45 0 1,0 -0.9,0M435.64,274.58a0.45,0.45 0 1,0 0.9,0a0.45,0.45 0 1,0 -0.9,0M420.67,238.19a0.45,0.45 0 1,0 0.9,0a0.45,0.45 0 1,0 -0.9,0M394.36,288.48a0.45,0.45 0 1,0 0.9,0a0.45,0.45 0 1,0 -0.9,0M400.60,290.97a0.45,0.45 0 1,0 0.9,0a0.45,0.45 0 1,0 -0.9,0M373.16,303.45a0.45,0.45 0 1,0 0.9,0a0.45,0.45 0 1,0 -0.9,0M379.39,305.20a0.45,0.45 0 1,0 0.9,0a0.45,0.45 0 1,0 -0.9,0M361.93,323.41a0.45,0.45 0 1,0 0.9,0a0.45,0.45 0 1,0 -0.9,0M364.92,324.66a0.45,0.45 0 1,0 0.9,0a0.45,0.45 0 1,0 -0.9,0M368.17,324.16a0.45,0.45 0 1,0 0.9,0a0.45,0.45 0 1,0 -0.9,0M371.91,325.16a0.45,0.45 0 1,0 0.9,0a0.45,0.45 0 1,0 -0.9,0M404.35,324.66a0.45,0.45 0 1,0 0.9,0a0.45,0.45 0 1,0 -0.9,0M435.53,246.06a0.45,0.45 0 1,0 0.9,0a0.45,0.45 0 1,0 -0.9,0M418.82,266.02a0.45,0.45 0 1,0 0.9,0a0.45,0.45 0 1,0 -0.9,0M436.28,272.76a0.45,0.45 0 1,0 0.9,0a0.45,0.45 0 1,0 -0.9,0" fill="none" stroke="#555" stroke-width="0.45"/>
<rect x="445.5" y="231.9" width="71.79999999999995" height="91.70000000000002" fill="none" stroke="#1c1c1c" stroke-width="1.1"/>
</g>
<g transform="translate(405,-2.95) scale(1)"><g id="mb">
<g clip-path="url(#cn)"><rect x="100" y="0" width="400" height="340" fill="#f4cfd1"/>
<filter id="f9" x="0" y="0" width="1" height="1" color-interpolation-filters="sRGB">
<feTurbulence type="fractalNoise" baseFrequency="0.07" numOctaves="2" seed="19" result="t1_0"/>
<feColorMatrix in="t1_0" type="matrix" values="0 0 0 0 0.973 0 0 0 0 0.706 0 0 0 0 0.722 60 0 0 0 -32.12" result="l0"/>
<feTurbulence type="fractalNoise" baseFrequency="0.1" numOctaves="2" seed="32" result="t2_0"/>
<feColorMatrix in="t2_0" type="matrix" values="0 0 0 0 0.780 0 0 0 0 0.914 0 0 0 0 0.706 60 0 0 0 -43.65" result="l1"/>
<feTurbulence type="fractalNoise" baseFrequency="0.16" numOctaves="2" seed="45" result="t3_0"/>
<feColorMatrix in="t3_0" type="matrix" values="0 0 0 0 1.000 0 0 0 0 1.000 0 0 0 0 1.000 60 0 0 0 -40.61" result="l2"/>
<feMerge><feMergeNode in="SourceGraphic"/><feMergeNode in="l0"/><feMergeNode in="l1"/><feMergeNode in="l2"/></feMerge>
<feComposite in2="SourceAlpha" operator="in"/></filter>
<path fill="#f4cfd1" filter="url(#f9)" d="M295.01,197.91 319.96,180.44 347.41,176.7 359.88,174.2 379.84,165.47 407.29,150.5 422.26,150.5 407.29,174.2 392.32,175.45 379.84,187.93 381.09,200.4 386.08,207.89 399.81,216.62 389.82,217.87 373.61,225.35 374.85,242.82 376.1,252.8 386.08,260.29 401.05,265.77 396.81,271.01 374.85,281 353.65,288.98 337.43,288.98 319.46,279 300,280.25 295.01,280.25Z"/>
<filter id="f10" x="0" y="0" width="1" height="1" color-interpolation-filters="sRGB">
<feTurbulence type="fractalNoise" baseFrequency="0.08" numOctaves="2" seed="20" result="t1_0"/>
<feColorMatrix in="t1_0" type="matrix" values="0 0 0 0 0.973 0 0 0 0 0.706 0 0 0 0 0.722 60 0 0 0 -32.70" result="l0"/>
<feTurbulence type="fractalNoise" baseFrequency="0.16" numOctaves="2" seed="33" result="t2_0"/>
<feColorMatrix in="t2_0" type="matrix" values="0 0 0 0 1.000 0 0 0 0 1.000 0 0 0 0 1.000 60 0 0 0 -38.40" result="l1"/>
<feMerge><feMergeNode in="SourceGraphic"/><feMergeNode in="l0"/><feMergeNode in="l1"/></feMerge>
<feComposite in2="SourceAlpha" operator="in"/></filter>
<path fill="#f4cfd1" filter="url(#f10)" d="M374.85,160.21 384.83,150.23 394.81,146.48 404.8,150.23 412.28,148.98 422.26,153.97 407.29,167.69 399.81,180.17 389.82,177.67 382.34,182.66 374.85,175.18Z"/>
<filter id="f11" x="0" y="0" width="1" height="1" color-interpolation-filters="sRGB">
<feTurbulence type="fractalNoise" baseFrequency="0.07" numOctaves="2" seed="21" result="t1_0"/>
<feColorMatrix in="t1_0" type="matrix" values="0 0 0 0 0.973 0 0 0 0 0.706 0 0 0 0 0.722 60 0 0 0 -33.66" result="l0"/>
<feTurbulence type="fractalNoise" baseFrequency="0.1" numOctaves="2" seed="34" result="t2_0"/>
<feColorMatrix in="t2_0" type="matrix" values="0 0 0 0 0.780 0 0 0 0 0.914 0 0 0 0 0.706 60 0 0 0 -41.64" result="l1"/>
<feTurbulence type="fractalNoise" baseFrequency="0.16" numOctaves="2" seed="47" result="t3_0"/>
<feColorMatrix in="t3_0" type="matrix" values="0 0 0 0 1.000 0 0 0 0 1.000 0 0 0 0 1.000 60 0 0 0 -40.09" result="l2"/>
<feMerge><feMergeNode in="SourceGraphic"/><feMergeNode in="l0"/><feMergeNode in="l1"/><feMergeNode in="l2"/></feMerge>
<feComposite in2="SourceAlpha" operator="in"/></filter>
<path fill="#f4cfd1" filter="url(#f11)" d="M259.69,200.4 289.63,200.4 324.56,195.41 357,207.89 357,290.23 337.04,288.98 314.58,276.5 285.89,291.47 265.93,275.26 255.95,266.52 265.93,255.3Z"/>
<filter id="f12" x="0" y="0" width="1" height="1" color-interpolation-filters="sRGB">
<feTurbulence type="fractalNoise" baseFrequency="0.07" numOctaves="2" seed="22" result="t1_0"/>
<feColorMatrix in="t1_0" type="matrix" values="0 0 0 0 0.780 0 0 0 0 0.914 0 0 0 0 0.706 60 0 0 0 -30.12" result="l0"/>
<feTurbulence type="fractalNoise" baseFrequency="0.1" numOctaves="2" seed="35" result="t2_0"/>
<feColorMatrix in="t2_0" type="matrix" values="0 0 0 0 0.973 0 0 0 0 0.706 0 0 0 0 0.722 60 0 0 0 -41.12" result="l1"/>
<feTurbulence type="fractalNoise" baseFrequency="0.16" numOctaves="2" seed="48" result="t3_0"/>
<feColorMatrix in="t3_0" type="matrix" values="0 0 0 0 1.000 0 0 0 0 1.000 0 0 0 0 1.000 60 0 0 0 -39.06" result="l2"/>
<feMerge><feMergeNode in="SourceGraphic"/><feMergeNode in="l0"/><feMergeNode in="l1"/><feMergeNode in="l2"/></feMerge>
<feComposite in2="SourceAlpha" operator="in"/></filter>
<path fill="#f4cfd1" filter="url(#f12)" d="M289.63,152.23 312.09,159.71 324.56,158.46 347.02,155.97 357,182.17 357,209.62 324.56,209.62 299.61,192.15 289.63,182.17Z"/>
<path fill="#c7e9b4" d="M117.47,113.55 123.7,108.56 141.17,106.07 153.65,104.32 161.13,108.56 156.14,113.55 144.91,116.05 137.43,122.29 131.19,126.03 126.2,131.02 127.45,142.25 117.47,134.76Z"/>
<path fill="#33b581" d="M141.17,106.82 147.41,105.32 153.65,104.82 152.9,110.31 147.41,112.8 142.92,110.31Z"/>
<path fill="#c7e9b4" d="M137.43,139.75 141.17,132.27 149.9,126.03 157.39,122.29 169.86,124.78 177.35,127.28 178.6,137.26 179.84,152.23 179.35,159.71 174.85,161.71 167.37,158.46 162.38,156.72 151.15,155.97 146.16,159.71 139.92,162.21 136.93,152.23Z"/>
<path fill="#f8b4b8" d="M158.64,117.3 163.63,112.31 172.36,109.81 181.09,108.56 182.34,117.3 179.84,124.78 171.11,126.03 164.87,122.29 159.88,123.53Z"/>
<path fill="#f8604f" d="M184.83,117.3 189.82,114.8 198.56,113.55 209.79,117.3 219.77,120.29 218.52,124.78 207.29,126.28 196.06,124.28 184.83,122.78Z"/>
<path fill="#f8604f" d="M164.37,113.8 171.11,114.3 170.86,116.8 164.87,116.55Z"/>
<path fill="#f8b4b8" d="M199.81,126.03 207.29,126.28 218.52,124.78 224.76,122.29 234.74,124.78 242.22,127.28 239.73,131.02 235.98,134.76 235.98,141 229.75,142.25 219.77,145.99 217.27,149.73 220.27,155.97 219.77,162.71 209.79,163.46 201.05,158.46 199.81,142.25Z"/>
<path fill="#c7e9b4" d="M167.37,102.32 174.85,100.33 181.09,101.83 180.34,107.31 172.36,109.31 167.87,107.81Z"/>
<path fill="#f8b4b8" d="M186.08,105.32 192.32,103.57 198.56,106.07 198.56,113.55 189.82,114.8 186.08,112.31Z"/>
<path fill="#33b581" d="M191.07,69.39 196.06,67.39 199.81,70.39 197.81,74.88 192.82,74.38Z"/>
<path fill="#c7e9b4" d="M184.83,77.87 191.07,73.63 198.56,75.38 201.05,79.87 196.06,83.61 188.58,83.61Z"/>
<path fill="#c7e9b4" d="M209.79,64.9 214.78,61.15 221.01,66.15 222.76,74.88 219.77,87.35 213.53,88.6 211.03,79.87Z"/>
<path fill="#c7e9b4" d="M226.75,73.63 230.25,74.88 229.25,87.35 226,87.35Z"/>
<path fill="#f8b4b8" d="M177.35,84.86 187.33,82.36 198.56,83.61 207.29,84.86 206.04,92.34 199.81,98.58 192.32,96.09 184.83,92.34 178.6,88.6Z"/>
<path fill="#ffffff" d="M196.06,84.86 201.05,76.87 203.55,77.87 198.56,89.85 195.56,88.6Z"/>
<path fill="#33b581" d="M204.8,98.58 209.79,95.34 216.02,97.33 216.77,103.57 211.03,102.32 207.79,106.07 205.29,102.82Z"/>
<path fill="#ffffff" d="M214.28,104.82 217.27,101.08 221.76,103.57 219.77,117.3 215.27,116.05Z"/>
<path fill="#f8b4b8" d="M210.28,88.6 216.77,88.1 217.27,96.84 211.03,97.33Z"/>
<path fill="#c7e9b4" d="M169.36,80.37 174.35,79.87 174.85,91.1 170.36,92.34Z"/>
<path fill="#f8b4b8" d="M239.73,131.02 247.21,127.28 257.19,122.29 259.69,115.3 264.68,116.8 267.17,124.78 269.67,132.27 264.68,137.26 254.7,136.01 244.72,137.26 235.98,141 235.98,134.76Z"/>
<path fill="#f8b4b8" d="M264.68,116.8 274.66,117.3 284.64,118.54 292.12,120.29 298.36,124.78 294.62,131.02 285.89,134.76 278.4,132.27 272.16,129.77 268.42,124.78Z"/>
<path fill="#c7e9b4" d="M259.69,131.02 267.17,129.27 269.67,134.76 264.68,138.5 260.19,137.26Z"/>
<path fill="#c7e9b4" d="M278.4,133.51 285.89,134.76 294.62,131.02 299.61,126.03 307.1,127.28 308.34,134.76 303.35,141 294.62,144.74 285.89,142.25 279.65,138.5Z"/>
<path fill="#ffffff" d="M267.67,136.76 278.4,136.01 279.65,141 269.67,141.75Z"/>
<path fill="#c7e9b4" d="M312.09,127.28 319.57,123.53 325.81,121.79 325.81,128.52 319.57,131.77 314.08,131.02Z"/>
<path fill="#f8b4b8" d="M320.07,123.53 332.05,120.29 339.53,122.29 340.03,132.27 334.54,139.75 325.81,137.26 320.82,131.77Z"/>
<path fill="#c7e9b4" d="M322.07,141 329.55,137.26 337.04,139.75 339.53,147.24 333.29,152.23 325.81,150.98Z"/>
<path fill="#33b581" d="M347.02,110.31 350.76,107.31 357,106.82 357,117.3 349.51,115.3Z"/>
<path fill="#33b581" d="M335.79,141 343.27,136.76 352.01,136.01 357,137.26 357,152.23 347.02,153.47 339.53,148.48Z"/>
<path fill="#33b581" d="M347.02,155.97 357,153.47 357,182.17 349.51,179.67 347.52,167.2Z"/>
<path fill="#33b581" d="M325.81,159.71 334.54,158.46 335.79,165.95 327.56,167.2Z"/>
<path fill="#c7e9b4" d="M219.77,145.99 229.75,142.75 239.73,142.25 252.2,144.74 262.18,147.24 274.66,152.23 277.15,157.22 269.67,160.96 259.69,159.71 249.71,155.97 239.73,154.72 229.75,154.72 222.26,152.23Z"/>
<path fill="#c7e9b4" d="M211.03,164.7 219.77,162.71 229.75,167.2 235.98,172.19 233.49,178.43 239.73,179.67 235.98,184.66 227.25,185.91 219.77,179.67 212.28,174.68Z"/>
<path fill="#33b581" d="M232.24,174.68 239.73,170.19 249.71,173.44 259.69,174.68 272.16,173.44 279.65,179.67 285.89,187.16 287.13,193.4 279.65,197.14 274.66,189.65 267.17,184.66 259.69,187.16 254.7,192.15 249.71,198.39 239.73,195.89 229.75,192.15 228.5,187.16 235.98,184.66 239.73,179.67 233.49,178.43Z"/>
<path fill="#f8604f" d="M138.67,167.2 143.66,162.21 151.15,156.72 158.64,159.71 163.63,162.21 162.38,168.45 158.64,172.19 156.14,178.43 149.9,175.93 142.42,174.68 139.42,172.19Z"/>
<path fill="#33b581" d="M159.88,172.19 163.63,162.21 167.37,158.46 174.85,161.71 179.84,172.19 183.59,182.17 179.84,187.16 172.36,190.9 164.87,189.65 159.88,187.16 161.88,179.67Z"/>
<path fill="#c7e9b4" d="M174.85,161.71 187.33,162.21 198.56,161.71 199.81,174.68 202.3,187.16 203.55,202.13 194.81,205.87 187.33,200.88 179.84,197.14 174.85,192.15 179.84,187.16 183.59,182.17 179.84,172.19Z"/>
<path fill="#33b581" d="M198.56,161.71 204.8,158.46 211.03,164.7 209.79,174.68 212.28,187.16 215.27,199.63 213.53,209.62 207.29,212.11 203.55,207.12 202.3,187.16 199.81,174.68Z"/>
<path fill="#f8b4b8" d="M139.92,178.43 149.9,175.93 156.14,178.43 159.88,187.16 153.65,192.15 144.91,190.9Z"/>
<path fill="#c7e9b4" d="M211.03,164.22 219.77,165.97 229.75,170.46 235.98,169.21 232.24,176.7 239.73,179.19 249.71,185.43 247.21,189.17 237.23,184.18 228.5,186.68 219.77,182.94 212.28,177.95Z"/>
<path fill="#c7e9b4" d="M153.65,192.92 164.87,190.42 174.85,195.41 179.84,196.66 177.35,204.15 169.86,206.64 164.87,210.38 159.88,204.15Z"/>
<path fill="#ffffff" d="M159.88,194.16 167.37,190.92 172.36,194.91 168.62,200.4 162.38,199.9Z"/>
<path fill="#33b581" d="M166.12,209.14 172.36,206.64 179.35,210.38 174.85,214.13 168.62,212.88Z"/>
<path fill="#f8604f" d="M168.62,214.13 174.85,211.63 179.35,214.87 174.85,219.12Z"/>
<path fill="#f8b4b8" d="M178.6,204.15 184.83,200.4 189.82,207.89 188.58,217.87 182.34,221.61 179.35,215.37Z"/>
<path fill="#33b581" d="M219.77,210.38 227.25,204.15 234.74,211.63 228.5,213.38Z"/>
<path fill="#33b581" d="M215.27,230.34 222.26,227.85 232.24,229.1 237.23,222.86 243.47,217.87 248.46,221.61 245.96,229.1 239.73,234.09 232.24,237.83 224.76,240.32 218.52,239.08Z"/>
<path fill="#f8b4b8" d="M235.98,209.14 244.72,205.39 254.7,206.64 257.19,212.88 247.21,214.13Z"/>
<path fill="#ffffff" d="M258.94,200.4 263.43,199.15 264.68,210.38 259.69,211.63Z"/>
<path fill="#f8604f" d="M261.68,217.37 267.67,216.62 268.42,223.36 262.68,224.11Z"/>
<path fill="#ffffff" d="M262.18,224.85 266.67,224.36 266.67,231.59 262.68,231.59Z"/>
<path fill="#f8b4b8" d="M273.41,210.38 280.9,206.64 285.89,212.88 283.39,222.86 275.91,225.35Z"/>
<path fill="#c7e9b4" d="M278.4,232.84 287.13,225.35 297.12,226.6 304.6,232.84 299.61,240.32 292.12,245.31 285.89,249.06 280.9,242.82Z"/>
<path fill="#c7e9b4" d="M285.89,208.39 295.87,206.64 297.12,215.37 287.13,216.62Z"/>
<path fill="#c7e9b4" d="M269.67,274.01 278.4,272.76 279.65,281.49 272.16,282.74Z"/>
<path fill="#c7e9b4" d="M265.93,232.84 274.66,236.58 279.65,245.31 274.66,249.06 268.42,242.82Z"/>
<path fill="#c7e9b4" d="M292.12,180.44 299.61,175.45 309.59,174.2 317.08,177.95 319.57,187.93 313.33,195.41 304.6,194.16 297.12,190.42Z"/>
<path fill="#33b581" d="M302.6,182.94 309.59,180.44 314.58,185.43 309.59,190.42 304.1,187.93Z"/>
<path fill="#c7e9b4" d="M294.62,160.48 302.11,155.49 314.58,156.74 323.31,162.98 324.56,171.71 317.08,175.45 307.1,172.96 299.61,169.21Z"/>
<path fill="#33b581" d="M327.06,159.23 334.54,157.99 335.79,165.97 328.3,166.72Z"/>
<path fill="#f8604f" d="M386.83,27.97 392.32,22.98 395.31,29.21 393.57,35.45 391.82,42.94 394.32,48.43 385.58,48.92 387.83,40.44 389.33,34.2Z"/>
<path fill="#33b581" d="M392.32,23.47 398.56,20.98 407.29,18.98 415.27,20.98 421.76,30.46 424.76,35.45 417.27,32.96 409.79,35.45 402.3,36.7 401.05,41.69 394.81,44.18 391.82,42.94 393.57,35.45 395.31,29.21Z"/>
<path fill="#33b581" d="M386.08,59.15 389.82,55.41 396.06,56.66 397.31,64.15 393.57,68.39 388.58,64.15Z"/>
<path fill="#c7e9b4" d="M367.87,61.65 371.11,53.92 379.35,54.91 380.34,60.4 378.6,69.14 373.61,72.38 367.37,70.38Z"/>
<path fill="#f8b4b8" d="M404.8,54.16 412.28,50.42 417.27,47.93 416.02,54.16 409.79,59.15 403.55,60.4Z"/>
<path fill="#33b581" d="M418.52,37.95 422.26,35.45 429.75,44.93 435.98,44.43 443.47,45.68 449.71,53.67 454.7,56.16 462.18,51.17 471.66,44.43 473.16,54.16 470.67,64.15 471.91,69.14 465.68,72.88 461.93,77.87 463.18,82.86 460.69,86.6 463.18,91.59 464.43,97.08 456.44,99.58 453.95,104.57 448.96,110.8 442.22,109.56 438.48,106.56 437.23,101.57 443.47,97.83 447.21,92.84 450.96,89.1 445.96,87.85 439.73,85.35 433.49,81.61 427.25,82.86 422.26,80.36 417.27,76.62 411.03,72.88 407.29,69.14 411.03,64.15 414.78,59.15 417.27,50.42Z"/>
<path fill="#ffffff" d="M421.01,37.95 424.76,35.45 429.75,44.18 424.76,46.68 421.01,44.18Z"/>
<path fill="#ffffff" d="M437.23,55.41 442.22,50.42 448.46,54.16 452.2,60.4 449.71,65.39 443.47,62.9 438.48,60.4Z"/>
<path fill="#ffffff" d="M412.28,64.15 416.77,62.9 417.27,71.63 413.53,72.38Z"/>
<path fill="#ffffff" d="M419.77,69.14 423.51,69.14 423.51,77.87 420.27,77.87Z"/>
<path fill="#ffffff" d="M429.75,65.39 434.74,65.39 434.74,71.63 430.25,71.63Z"/>
<path fill="#ffffff" d="M454.7,62.9 458.44,62.9 458.44,66.64 454.7,66.64Z"/>
<path fill="#ffffff" d="M453.45,74.13 458.44,74.13 457.69,82.86 453.7,82.36Z"/>
<path fill="#c7e9b4" d="M449.71,85.35 455.95,81.61 462.18,84.11 460.94,91.59 453.45,92.84Z"/>
<path fill="#f8b4b8" d="M413.53,76.62 422.26,80.36 427.25,82.86 429.75,87.85 423.51,94.09 417.27,90.34 412.28,84.11Z"/>
<path fill="#c7e9b4" d="M424.76,95.33 432.24,90.34 442.22,87.85 448.46,90.34 447.21,96.58 439.73,101.57 432.24,104.07 426,101.57Z"/>
<path fill="#c7e9b4" d="M396.06,120.29 402.3,114.05 409.79,110.31 417.27,107.81 424.76,105.31 429.75,107.81 435.98,111.55 434.74,117.79 429.75,124.03 423.51,127.77 419.77,132.76 413.53,137.25 411.03,138.25 412.28,130.27 417.27,124.03 413.53,122.78 409.79,124.03 406.04,127.77 402.3,124.03 398.56,125.28Z"/>
<path fill="#33b581" d="M416.02,110.8 424.76,106.56 435.98,111.55 434.74,117.79 429.75,124.03 423.51,127.77 419.77,132.76 416.02,127.77 417.27,120.29Z"/>
<path fill="#33b581" d="M417.27,116.54 423.51,114.8 424.76,121.53 419.27,123.28Z"/>
<path fill="#ffffff" d="M418.52,110.31 422.26,109.81 422.76,115.3 419.02,115.3Z"/>
<path fill="#33b581" d="M371.11,96.58 377.35,91.59 386.08,88.35 392.32,89.1 391.07,95.33 386.08,99.08 381.09,102.82 378.6,107.81 373.61,104.07Z"/>
<path fill="#c7e9b4" d="M386.08,99.08 391.07,95.33 396.06,96.58 397.31,102.82 392.32,106.56 387.33,105.31Z"/>
<path fill="#f8b4b8" d="M348.65,97.83 353.65,94.84 361.13,96.58 367.37,101.57 372.36,109.06 366.12,111.55 358.64,107.81 351.15,104.07Z"/>
<path fill="#33b581" d="M348.65,109.06 353.65,106.56 358.64,107.81 366.12,111.55 372.36,110.31 371.11,117.79 364.87,120.29 359.88,117.79 354.89,114.05Z"/>
<path fill="#c7e9b4" d="M384.83,110.31 392.32,106.56 399.81,109.06 402.3,114.05 396.06,120.29 389.82,119.04Z"/>
<path fill="#f8b4b8" d="M319.96,130.27 324.95,122.78 332.44,117.79 341.17,120.29 343.66,127.77 339.92,135.26 334.93,140.25 328.69,142.74 323.7,136.5Z"/>
<path fill="#c7e9b4" d="M300,122.78 311.23,121.53 319.96,122.78 324.95,122.78 319.96,130.27 312.48,131.51 304.99,135.26 300,135.26Z"/>
<path fill="#c7e9b4" d="M318.71,140.25 323.7,136.5 328.69,142.74 334.93,140.25 337.43,145.24 332.44,150.23 324.95,148.98Z"/>
<path fill="#33b581" d="M337.43,139 346.16,135.26 353.65,136.5 358.64,130.27 366.12,127.77 367.37,120.29 373.61,115.3 382.34,112.8 387.33,117.79 393.57,121.53 398.56,125.28 399.81,132.76 396.06,137.75 391.07,142.74 384.83,145.24 379.84,150.23 372.36,155.22 368.62,160.21 367.37,167.69 362.38,172.68 354.89,175.18 348.65,177.67 346.16,170.19 346.16,160.21 344.91,150.23 339.92,145.24Z"/>
<path fill="#c7e9b4" d="M351.15,140.25 356.14,134.01 359.88,137.75 357.39,147.73 352.4,150.23Z"/>
<path fill="#c7e9b4" d="M371.11,145.24 377.35,140.25 384.83,145.24 379.84,150.23 372.36,155.22Z"/>
<path fill="#c7e9b4" d="M384.83,127.77 392.32,125.28 396.06,130.27 391.07,135.26 386.08,134.01Z"/>
<filter id="f13" x="0" y="0" width="1" height="1" color-interpolation-filters="sRGB">
<feTurbulence type="fractalNoise" baseFrequency="0.09" numOctaves="2" seed="10" result="t1_0"/>
<feColorMatrix in="t1_0" type="matrix" values="0 0 0 0 0.780 0 0 0 0 0.914 0 0 0 0 0.706 60 0 0 0 -35.76" result="l0"/>
<feTurbulence type="fractalNoise" baseFrequency="0.15" numOctaves="2" seed="23" result="t2_0"/>
<feColorMatrix in="t2_0" type="matrix" values="0 0 0 0 1.000 0 0 0 0 1.000 0 0 0 0 1.000 60 0 0 0 -40.09" result="l1"/>
<feMerge><feMergeNode in="SourceGraphic"/><feMergeNode in="l0"/><feMergeNode in="l1"/></feMerge>
<feComposite in2="SourceAlpha" operator="in"/></filter>
<path fill="#33b581" filter="url(#f13)" d="M337.43,139 346.16,135.26 353.65,136.5 358.64,130.27 366.12,127.77 367.37,120.29 373.61,115.3 382.34,112.8 387.33,117.79 393.57,121.53 398.56,125.28 399.81,132.76 396.06,137.75 391.07,142.74 384.83,145.24 379.84,150.23 372.36,155.22 368.62,160.21 367.37,167.69 362.38,172.68 354.89,175.18 348.65,177.67 346.16,170.19 346.16,160.21 344.91,150.23 339.92,145.24Z"/>
<path fill="#c7e9b4" d="M300,155.22 309.98,150.23 319.96,152.72 324.95,160.21 319.96,170.19 314.97,180.17 319.96,190.15 314.97,200.13 304.99,207.62 300,207.62Z"/>
<path fill="#33b581" d="M302.99,182.66 311.23,181.42 312.48,188.9 304.99,190.65Z"/>
<path fill="#c7e9b4" d="M327.45,160.21 337.43,156.46 344.91,160.21 343.66,170.19 334.93,173.93 328.69,168.94Z"/>
<path fill="#c7e9b4" d="M337.43,145.24 344.91,150.23 346.16,160.21 337.43,156.46Z"/>
<path fill="#c7e9b4" d="M326.2,160.48 332.44,155.49 344.91,154.24 346.16,165.47 347.41,176.7 339.92,175.45 332.44,171.71 327.45,167.97Z"/>
<path fill="#33b581" d="M346.16,148 367.37,148 366.87,160.48 364.87,169.21 359.88,174.2 352.4,177.95 347.41,176.7 346.16,165.47Z"/>
<filter id="f14" x="0" y="0" width="1" height="1" color-interpolation-filters="sRGB">
<feTurbulence type="fractalNoise" baseFrequency="0.09" numOctaves="2" seed="11" result="t1_0"/>
<feColorMatrix in="t1_0" type="matrix" values="0 0 0 0 0.780 0 0 0 0 0.914 0 0 0 0 0.706 60 0 0 0 -35.76" result="l0"/>
<feTurbulence type="fractalNoise" baseFrequency="0.15" numOctaves="2" seed="24" result="t2_0"/>
<feColorMatrix in="t2_0" type="matrix" values="0 0 0 0 1.000 0 0 0 0 1.000 0 0 0 0 1.000 60 0 0 0 -40.09" result="l1"/>
<feMerge><feMergeNode in="SourceGraphic"/><feMergeNode in="l0"/><feMergeNode in="l1"/></feMerge>
<feComposite in2="SourceAlpha" operator="in"/></filter>
<path fill="#33b581" filter="url(#f14)" d="M346.16,148 367.37,148 366.87,160.48 364.87,169.21 359.88,174.2 352.4,177.95 347.41,176.7 346.16,165.47Z"/>
<filter id="f15" x="0" y="0" width="1" height="1" color-interpolation-filters="sRGB">
<feTurbulence type="fractalNoise" baseFrequency="0.08" numOctaves="2" seed="23" result="t1_0"/>
<feColorMatrix in="t1_0" type="matrix" values="0 0 0 0 0.957 0 0 0 0 0.812 0 0 0 0 0.820 60 0 0 0 -32.70" result="l0"/>
<feTurbulence type="fractalNoise" baseFrequency="0.15" numOctaves="2" seed="36" result="t2_0"/>
<feColorMatrix in="t2_0" type="matrix" values="0 0 0 0 1.000 0 0 0 0 1.000 0 0 0 0 1.000 60 0 0 0 -41.12" result="l1"/>
<feMerge><feMergeNode in="SourceGraphic"/><feMergeNode in="l0"/><feMergeNode in="l1"/></feMerge>
<feComposite in2="SourceAlpha" operator="in"/></filter>
<path fill="#c7e9b4" filter="url(#f15)" d="M297.5,157.99 309.98,160.48 317.47,170.46 319.96,180.44 314.97,190.42 309.98,197.91 297.5,197.91Z"/>
<path fill="#33b581" d="M302.5,182.94 311.23,181.69 312.48,189.17 304.49,190.42Z"/>
<path fill="#c7e9b4" d="M379.84,187.93 386.08,180.44 392.32,175.45 399.81,177.95 407.29,174.2 413.53,182.94 419.77,190.42 424.76,197.91 429.75,204.15 419.77,210.38 412.28,212.88 407.29,217.87 399.81,216.62 392.32,212.88 386.08,207.89 381.09,200.4Z"/>
<path fill="#33b581" d="M403.55,195.41 409.79,192.92 418.52,195.41 423.51,200.4 421.01,206.64 413.53,209.14 407.29,204.15Z"/>
<filter id="f16" x="0" y="0" width="1" height="1" color-interpolation-filters="sRGB">
<feTurbulence type="fractalNoise" baseFrequency="0.09" numOctaves="2" seed="15" result="t1_0"/>
<feColorMatrix in="t1_0" type="matrix" values="0 0 0 0 0.200 0 0 0 0 0.710 0 0 0 0 0.506 60 0 0 0 -35.76" result="l0"/>
<feTurbulence type="fractalNoise" baseFrequency="0.1" numOctaves="2" seed="28" result="t2_0"/>
<feColorMatrix in="t2_0" type="matrix" values="0 0 0 0 0.957 0 0 0 0 0.812 0 0 0 0 0.820 60 0 0 0 -40.09" result="l1"/>
<feTurbulence type="fractalNoise" baseFrequency="0.15" numOctaves="2" seed="41" result="t3_0"/>
<feColorMatrix in="t3_0" type="matrix" values="0 0 0 0 1.000 0 0 0 0 1.000 0 0 0 0 1.000 60 0 0 0 -40.09" result="l2"/>
<feMerge><feMergeNode in="SourceGraphic"/><feMergeNode in="l0"/><feMergeNode in="l1"/><feMergeNode in="l2"/></feMerge>
<feComposite in2="SourceAlpha" operator="in"/></filter>
<path fill="#c7e9b4" filter="url(#f16)" d="M379.84,187.93 386.08,180.44 392.32,175.45 399.81,177.95 407.29,174.2 413.53,182.94 419.77,190.42 424.76,197.91 429.75,204.15 419.77,210.38 412.28,212.88 407.29,217.87 399.81,216.62 392.32,212.88 386.08,207.89 381.09,200.4Z"/>
<path fill="#33b581" d="M407.29,217.87 412.28,212.88 419.77,210.38 429.75,209.14 430.99,220.36 426.75,227.85 422.76,235.33 419.27,245.31 414.28,254.05 407.79,260.78 401.05,265.77 397.31,257.79 394.81,250.31 399.81,242.82 404.8,232.84 408.54,225.35Z"/>
<path fill="#c7e9b4" d="M396.06,240.32 402.3,235.33 408.54,237.83 409.79,247.81 404.8,255.3 398.56,252.8Z"/>
<filter id="f17" x="0" y="0" width="1" height="1" color-interpolation-filters="sRGB">
<feTurbulence type="fractalNoise" baseFrequency="0.09" numOctaves="2" seed="16" result="t1_0"/>
<feColorMatrix in="t1_0" type="matrix" values="0 0 0 0 0.780 0 0 0 0 0.914 0 0 0 0 0.706 60 0 0 0 -34.71" result="l0"/>
<feTurbulence type="fractalNoise" baseFrequency="0.15" numOctaves="2" seed="29" result="t2_0"/>
<feColorMatrix in="t2_0" type="matrix" values="0 0 0 0 1.000 0 0 0 0 1.000 0 0 0 0 1.000 60 0 0 0 -39.06" result="l1"/>
<feMerge><feMergeNode in="SourceGraphic"/><feMergeNode in="l0"/><feMergeNode in="l1"/></feMerge>
<feComposite in2="SourceAlpha" operator="in"/></filter>
<path fill="#33b581" filter="url(#f17)" d="M407.29,217.87 412.28,212.88 419.77,210.38 429.75,209.14 430.99,220.36 426.75,227.85 422.76,235.33 419.27,245.31 414.28,254.05 407.79,260.78 401.05,265.77 397.31,257.79 394.81,250.31 399.81,242.82 404.8,232.84 408.54,225.35Z"/>
<path fill="#c7e9b4" d="M373.61,225.35 379.84,220.36 389.82,217.87 399.81,220.36 402.3,225.35 398.56,232.84 389.82,236.58 382.34,237.83 374.85,235.33Z"/>
<path fill="#33b581" d="M374.85,242.82 382.34,239.08 391.07,237.83 394.81,245.31 392.32,255.3 386.08,260.29 379.84,261.53 376.1,252.8Z"/>
<path fill="#33b581" d="M398.56,224.85 405.29,224.11 406.04,230.84 399.31,231.59Z"/>
<filter id="f18" x="0" y="0" width="1" height="1" color-interpolation-filters="sRGB">
<feTurbulence type="fractalNoise" baseFrequency="0.09" numOctaves="2" seed="17" result="t1_0"/>
<feColorMatrix in="t1_0" type="matrix" values="0 0 0 0 0.200 0 0 0 0 0.710 0 0 0 0 0.506 60 0 0 0 -39.06" result="l0"/>
<feTurbulence type="fractalNoise" baseFrequency="0.1" numOctaves="2" seed="30" result="t2_0"/>
<feColorMatrix in="t2_0" type="matrix" values="0 0 0 0 0.957 0 0 0 0 0.812 0 0 0 0 0.820 60 0 0 0 -39.06" result="l1"/>
<feTurbulence type="fractalNoise" baseFrequency="0.15" numOctaves="2" seed="43" result="t3_0"/>
<feColorMatrix in="t3_0" type="matrix" values="0 0 0 0 1.000 0 0 0 0 1.000 0 0 0 0 1.000 60 0 0 0 -40.09" result="l2"/>
<feMerge><feMergeNode in="SourceGraphic"/><feMergeNode in="l0"/><feMergeNode in="l1"/><feMergeNode in="l2"/></feMerge>
<feComposite in2="SourceAlpha" operator="in"/></filter>
<path fill="#c7e9b4" filter="url(#f18)" d="M373.61,225.35 379.84,220.36 389.82,217.87 399.81,220.36 402.3,225.35 398.56,232.84 389.82,236.58 382.34,237.83 374.85,235.33Z"/>
<path fill="#c7e9b4" d="M317.96,270.77 324.45,270.27 324.95,277.25 318.46,277.75Z"/>
<path fill="#c7e9b4" d="M332.94,246.56 341.92,245.31 342.42,254.8 333.68,255.3Z"/>
<path fill="#c7e9b4" d="M300,234.09 311.98,232.84 312.48,242.32 300,242.82Z"/>
</g>
<use href="#prov" clip-path="url(#cn)"/>
<use href="#coastfuzz"/>
<use href="#cnline"/>
</g></g>
<g transform="translate(406.4,0.3)">
<clipPath id="icb"><rect x="445.5" y="231.9" width="71.79999999999995" height="91.70000000000002"/></clipPath>
<g clip-path="url(#icb)"><use href="#mb" transform="translate(283.3,106.8) scale(0.5)"/></g>
<path d="M506.49,232.6L506.49,236.79M505.09,244.49L503.27,247.99M499.49,256.39L497.67,261.28M497.25,268.98L497.67,273.18M499.49,285.08L497.67,289.27M488.85,302.57L486.06,306.07M475.28,319.64L471.08,321.04M452.47,308.45L453.59,312.65M460.59,287.88L461.42,291.65M456.67,272.48L459.19,275.98M441.27,252.89L441.69,261.98M438.89,276.68L434.69,285.08M428.4,300.47L424.9,308.87M423.64,324.26L424.2,326.36" stroke="#2a2a2a" stroke-width="1.1" fill="none"/>
<path d="M482.53,250.09a0.45,0.45 0 1,0 0.9,0a0.45,0.45 0 1,0 -0.9,0M485.33,251.07a0.45,0.45 0 1,0 0.9,0a0.45,0.45 0 1,0 -0.9,0M470.63,257.79a0.45,0.45 0 1,0 0.9,0a0.45,0.45 0 1,0 -0.9,0M474.13,258.49a0.45,0.45 0 1,0 0.9,0a0.45,0.45 0 1,0 -0.9,0M465.03,268.98a0.45,0.45 0 1,0 0.9,0a0.45,0.45 0 1,0 -0.9,0M467.13,271.08a0.45,0.45 0 1,0 0.9,0a0.45,0.45 0 1,0 -0.9,0M469.23,269.26a0.45,0.45 0 1,0 0.9,0a0.45,0.45 0 1,0 -0.9,0M470.21,272.48a0.45,0.45 0 1,0 0.9,0a0.45,0.45 0 1,0 -0.9,0M465.73,273.18a0.45,0.45 0 1,0 0.9,0a0.45,0.45 0 1,0 -0.9,0M476.23,272.48a0.45,0.45 0 1,0 0.9,0a0.45,0.45 0 1,0 -0.9,0M478.33,271.50a0.45,0.45 0 1,0 0.9,0a0.45,0.45 0 1,0 -0.9,0M479.73,273.18a0.45,0.45 0 1,0 0.9,0a0.45,0.45 0 1,0 -0.9,0M487.43,269.26a0.45,0.45 0 1,0 0.9,0a0.45,0.45 0 1,0 -0.9,0M492.04,273.46a0.45,0.45 0 1,0 0.9,0a0.45,0.45 0 1,0 -0.9,0M482.25,279.48a0.45,0.45 0 1,0 0.9,0a0.45,0.45 0 1,0 -0.9,0M479.73,289.97a0.45,0.45 0 1,0 0.9,0a0.45,0.45 0 1,0 -0.9,0M481.13,292.07a0.45,0.45 0 1,0 0.9,0a0.45,0.45 0 1,0 -0.9,0M479.03,294.17a0.45,0.45 0 1,0 0.9,0a0.45,0.45 0 1,0 -0.9,0M480.43,296.27a0.45,0.45 0 1,0 0.9,0a0.45,0.45 0 1,0 -0.9,0M481.83,298.37a0.45,0.45 0 1,0 0.9,0a0.45,0.45 0 1,0 -0.9,0M478.33,298.37a0.45,0.45 0 1,0 0.9,0a0.45,0.45 0 1,0 -0.9,0M488.13,287.88a0.45,0.45 0 1,0 0.9,0a0.45,0.45 0 1,0 -0.9,0M490.22,289.27a0.45,0.45 0 1,0 0.9,0a0.45,0.45 0 1,0 -0.9,0M491.62,291.37a0.45,0.45 0 1,0 0.9,0a0.45,0.45 0 1,0 -0.9,0M489.52,292.77a0.45,0.45 0 1,0 0.9,0a0.45,0.45 0 1,0 -0.9,0M487.43,294.17a0.45,0.45 0 1,0 0.9,0a0.45,0.45 0 1,0 -0.9,0M488.82,296.27a0.45,0.45 0 1,0 0.9,0a0.45,0.45 0 1,0 -0.9,0M486.03,296.97a0.45,0.45 0 1,0 0.9,0a0.45,0.45 0 1,0 -0.9,0M492.32,292.77a0.45,0.45 0 1,0 0.9,0a0.45,0.45 0 1,0 -0.9,0M490.92,287.18a0.45,0.45 0 1,0 0.9,0a0.45,0.45 0 1,0 -0.9,0M472.73,298.37a0.45,0.45 0 1,0 0.9,0a0.45,0.45 0 1,0 -0.9,0M470.63,300.47a0.45,0.45 0 1,0 0.9,0a0.45,0.45 0 1,0 -0.9,0M468.53,302.57a0.45,0.45 0 1,0 0.9,0a0.45,0.45 0 1,0 -0.9,0M467.83,304.67a0.45,0.45 0 1,0 0.9,0a0.45,0.45 0 1,0 -0.9,0M474.83,302.57a0.45,0.45 0 1,0 0.9,0a0.45,0.45 0 1,0 -0.9,0M476.93,303.97a0.45,0.45 0 1,0 0.9,0a0.45,0.45 0 1,0 -0.9,0M479.03,304.67a0.45,0.45 0 1,0 0.9,0a0.45,0.45 0 1,0 -0.9,0M481.13,303.69a0.45,0.45 0 1,0 0.9,0a0.45,0.45 0 1,0 -0.9,0M483.23,302.57a0.45,0.45 0 1,0 0.9,0a0.45,0.45 0 1,0 -0.9,0M484.63,301.17a0.45,0.45 0 1,0 0.9,0a0.45,0.45 0 1,0 -0.9,0M461.53,305.37a0.45,0.45 0 1,0 0.9,0a0.45,0.45 0 1,0 -0.9,0M459.44,306.49a0.45,0.45 0 1,0 0.9,0a0.45,0.45 0 1,0 -0.9,0M458.04,307.47a0.45,0.45 0 1,0 0.9,0a0.45,0.45 0 1,0 -0.9,0M472.73,312.37a0.45,0.45 0 1,0 0.9,0a0.45,0.45 0 1,0 -0.9,0M473.43,314.47a0.45,0.45 0 1,0 0.9,0a0.45,0.45 0 1,0 -0.9,0M474.83,315.17a0.45,0.45 0 1,0 0.9,0a0.45,0.45 0 1,0 -0.9,0M476.23,309.57a0.45,0.45 0 1,0 0.9,0a0.45,0.45 0 1,0 -0.9,0M471.33,320.06a0.45,0.45 0 1,0 0.9,0a0.45,0.45 0 1,0 -0.9,0M434.94,246.59a0.45,0.45 0 1,0 0.9,0a0.45,0.45 0 1,0 -0.9,0M420.25,265.48a0.45,0.45 0 1,0 0.9,0a0.45,0.45 0 1,0 -0.9,0M435.64,274.58a0.45,0.45 0 1,0 0.9,0a0.45,0.45 0 1,0 -0.9,0M420.67,238.19a0.45,0.45 0 1,0 0.9,0a0.45,0.45 0 1,0 -0.9,0M394.36,288.48a0.45,0.45 0 1,0 0.9,0a0.45,0.45 0 1,0 -0.9,0M400.60,290.97a0.45,0.45 0 1,0 0.9,0a0.45,0.45 0 1,0 -0.9,0M373.16,303.45a0.45,0.45 0 1,0 0.9,0a0.45,0.45 0 1,0 -0.9,0M379.39,305.20a0.45,0.45 0 1,0 0.9,0a0.45,0.45 0 1,0 -0.9,0M361.93,323.41a0.45,0.45 0 1,0 0.9,0a0.45,0.45 0 1,0 -0.9,0M364.92,324.66a0.45,0.45 0 1,0 0.9,0a0.45,0.45 0 1,0 -0.9,0M368.17,324.16a0.45,0.45 0 1,0 0.9,0a0.45,0.45 0 1,0 -0.9,0M371.91,325.16a0.45,0.45 0 1,0 0.9,0a0.45,0.45 0 1,0 -0.9,0M404.35,324.66a0.45,0.45 0 1,0 0.9,0a0.45,0.45 0 1,0 -0.9,0M435.53,246.06a0.45,0.45 0 1,0 0.9,0a0.45,0.45 0 1,0 -0.9,0M418.82,266.02a0.45,0.45 0 1,0 0.9,0a0.45,0.45 0 1,0 -0.9,0M436.28,272.76a0.45,0.45 0 1,0 0.9,0a0.45,0.45 0 1,0 -0.9,0" fill="none" stroke="#555" stroke-width="0.45"/>
<rect x="445.5" y="231.9" width="71.79999999999995" height="91.70000000000002" fill="none" stroke="#1c1c1c" stroke-width="1.1"/>
</g>
<g transform="translate(-3.77,390.75) scale(1.008)"><g id="mc">
<g clip-path="url(#cn)"><rect x="100" y="0" width="400" height="340" fill="#33b581"/>
<filter id="f19" x="0" y="0" width="1" height="1" color-interpolation-filters="sRGB">
<feTurbulence type="fractalNoise" baseFrequency="0.07" numOctaves="2" seed="49" result="t1_0"/>
<feColorMatrix in="t1_0" type="matrix" values="0 0 0 0 0.600 0 0 0 0 0.835 0 0 0 0 0.639 60 0 0 0 -32.51" result="l0"/>
<feTurbulence type="fractalNoise" baseFrequency="0.1" numOctaves="2" seed="62" result="t2_0"/>
<feColorMatrix in="t2_0" type="matrix" values="0 0 0 0 0.933 0 0 0 0 0.937 0 0 0 0 0.698 60 0 0 0 -40.09" result="l1"/>
<feColorMatrix in="t2_0" type="matrix" values="0 0 0 0 0.976 0 0 0 0 0.694 0 0 0 0 0.710 0 60 0 0 -44.66" result="l2"/>
<feTurbulence type="fractalNoise" baseFrequency="0.14" numOctaves="2" seed="75" result="t3_0"/>
<feColorMatrix in="t3_0" type="matrix" values="0 0 0 0 1.000 0 0 0 0 1.000 0 0 0 0 1.000 60 0 0 0 -40.87" result="l3"/>
<feMerge><feMergeNode in="SourceGraphic"/><feMergeNode in="l0"/><feMergeNode in="l1"/><feMergeNode in="l2"/><feMergeNode in="l3"/></feMerge>
<feComposite in2="SourceAlpha" operator="in"/></filter>
<path fill="#33b581" filter="url(#f19)" d="M264.07,159.71 301.5,159.71 316.47,149.73 323.96,154.72 333.94,144.74 346.41,134.76 356.39,127.27 366.37,119.79 383.84,134.76 396.31,139.75 392.57,143.49 406.3,149.73 423.76,153.47 408.79,167.19 406.3,172.46 418.77,189.92 430,206.14 436.24,208.64 431.25,219.86 422.51,238.58 410.79,259.29 398.31,270.51 376.35,280.5 355.15,288.48 353.4,298.46 346.41,298.46 346.41,289.73 331.44,287.23 320.96,278.5 301.5,279.75 276.55,289.73 246.61,269.77 251.6,237.33 271.56,199.9 251.6,174.95Z"/>
<filter id="f20" x="0" y="0" width="1" height="1" color-interpolation-filters="sRGB">
<feTurbulence type="fractalNoise" baseFrequency="0.08" numOctaves="2" seed="50" result="t1_0"/>
<feColorMatrix in="t1_0" type="matrix" values="0 0 0 0 0.200 0 0 0 0 0.710 0 0 0 0 0.506 60 0 0 0 -35.34" result="l0"/>
<feColorMatrix in="t1_0" type="matrix" values="0 0 0 0 0.933 0 0 0 0 0.937 0 0 0 0 0.698 0 60 0 0 -34.71" result="l1"/>
<feTurbulence type="fractalNoise" baseFrequency="0.16" numOctaves="2" seed="63" result="t2_0"/>
<feColorMatrix in="t2_0" type="matrix" values="0 0 0 0 1.000 0 0 0 0 1.000 0 0 0 0 1.000 60 0 0 0 -40.09" result="l2"/>
<feMerge><feMergeNode in="SourceGraphic"/><feMergeNode in="l0"/><feMergeNode in="l1"/><feMergeNode in="l2"/></feMerge>
<feComposite in2="SourceAlpha" operator="in"/></filter>
<path fill="#99d5a3" filter="url(#f20)" d="M376.35,164.7 383.84,154.72 393.82,148.48 401.31,148.48 406.3,149.73 403.8,154.72 408.79,152.22 413.78,148.48 421.27,149.73 425.01,153.47 418.77,157.21 413.78,162.2 408.79,167.19 403.8,177.17 396.31,182.16 386.33,179.67 378.85,174.68Z"/>
<filter id="f21" x="0" y="0" width="1" height="1" color-interpolation-filters="sRGB">
<feTurbulence type="fractalNoise" baseFrequency="0.08" numOctaves="2" seed="51" result="t1_0"/>
<feColorMatrix in="t1_0" type="matrix" values="0 0 0 0 0.200 0 0 0 0 0.710 0 0 0 0 0.506 60 0 0 0 -32.70" result="l0"/>
<feColorMatrix in="t1_0" type="matrix" values="0 0 0 0 0.933 0 0 0 0 0.937 0 0 0 0 0.698 0 60 0 0 -40.09" result="l1"/>
<feTurbulence type="fractalNoise" baseFrequency="0.15" numOctaves="2" seed="64" result="t2_0"/>
<feColorMatrix in="t2_0" type="matrix" values="0 0 0 0 1.000 0 0 0 0 1.000 0 0 0 0 1.000 60 0 0 0 -38.40" result="l2"/>
<feMerge><feMergeNode in="SourceGraphic"/><feMergeNode in="l0"/><feMergeNode in="l1"/><feMergeNode in="l2"/></feMerge>
<feComposite in2="SourceAlpha" operator="in"/></filter>
<path fill="#99d5a3" filter="url(#f21)" d="M365.13,119.79 383.84,134.76 396.31,139.75 392.57,143.49 395.07,147.23 386.33,154.72 376.35,159.71 368.87,149.73 367.62,134.76Z"/>
<filter id="f22" x="0" y="0" width="1" height="1" color-interpolation-filters="sRGB">
<feTurbulence type="fractalNoise" baseFrequency="0.07" numOctaves="2" seed="48" result="t1_0"/>
<feColorMatrix in="t1_0" type="matrix" values="0 0 0 0 0.200 0 0 0 0 0.710 0 0 0 0 0.506 60 0 0 0 -34.50" result="l0"/>
<feTurbulence type="fractalNoise" baseFrequency="0.08" numOctaves="2" seed="61" result="t2_0"/>
<feColorMatrix in="t2_0" type="matrix" values="0 0 0 0 0.933 0 0 0 0 0.937 0 0 0 0 0.698 60 0 0 0 -40.09" result="l1"/>
<feTurbulence type="fractalNoise" baseFrequency="0.16" numOctaves="2" seed="74" result="t3_0"/>
<feColorMatrix in="t3_0" type="matrix" values="0 0 0 0 1.000 0 0 0 0 1.000 0 0 0 0 1.000 60 0 0 0 -41.12" result="l2"/>
<feMerge><feMergeNode in="SourceGraphic"/><feMergeNode in="l0"/><feMergeNode in="l1"/><feMergeNode in="l2"/></feMerge>
<feComposite in2="SourceAlpha" operator="in"/></filter>
<path fill="#99d5a3" filter="url(#f22)" d="M301.5,123.53 338.93,117.29 352.65,106.06 350.15,96.08 373.86,87.35 397.56,72.38 370.12,69.88 373.86,54.41 387.58,47.43 386.33,24.97 408.79,16.99 422.51,27.47 431.25,42.44 451.21,51.17 474.91,42.44 474.91,68.64 464.93,77.37 467.43,96.08 451.21,112.3 437.48,118.54 415.03,138.5 411.29,137.25 418.77,123.53 401.31,129.77 396.31,139.75 383.84,134.76 366.37,119.79 356.39,127.27 346.41,134.76 333.94,144.74 323.96,154.72 316.47,149.73 301.5,159.71Z"/>
<path fill="#99d5a3" d="M118.47,113.55 125.2,107.81 133.94,107.81 135.18,113.55 128.95,118.54 122.71,119.79Z"/>
<path fill="#eeefb2" d="M188.83,69.88 196.31,67.89 203.8,69.88 211.29,66.14 218.77,69.88 221.27,79.86 218.77,92.34 211.29,94.83 206.3,84.85 198.81,82.36 191.32,84.85 183.84,82.36 186.33,74.87Z"/>
<path fill="#99d5a3" d="M183.84,76.12 190.08,69.88 197.56,72.38 201.31,78.62 196.31,83.61 188.83,84.85Z"/>
<path fill="#99d5a3" d="M206.3,61.15 212.53,56.91 218.77,63.65 213.78,69.88 207.54,68.64Z"/>
<path fill="#f9b1b5" d="M213.28,63.65 216.77,59.4 221.27,63.65 220.02,69.88 215.03,69.38Z"/>
<path fill="#99d5a3" d="M221.27,69.88 226.26,65.39 231.75,69.88 233.24,82.36 230,89.84 223.76,94.83 220.02,84.85Z"/>
<path fill="#f9b1b5" d="M197.56,83.61 206.3,82.36 212.53,87.35 211.29,94.83 205.05,98.58 198.81,97.33 195.82,89.84Z"/>
<path fill="#ffffff" d="M195.82,84.85 201.31,76.87 203.8,77.87 198.31,86.85Z"/>
<path fill="#eeefb2" d="M171.86,80.36 185.09,80.36 186.33,84.85 176.35,85.35Z"/>
<path fill="#99d5a3" d="M177.6,107.31 181.34,99.82 188.83,98.58 197.56,99.82 206.3,102.32 211.29,108.56 208.79,116.04 201.31,113.55 193.82,114.8 186.33,116.04 180.1,113.55Z"/>
<path fill="#f9b1b5" d="M186.33,104.81 193.32,104.32 193.82,116.04 186.83,116.04Z"/>
<path fill="#f8604f" d="M193.32,109.31 198.81,108.56 200.06,113.55 195.07,116.79Z"/>
<path fill="#99d5a3" d="M206.3,94.83 218.77,92.34 221.27,101.82 215.03,102.32 211.29,108.56 206.3,102.32Z"/>
<path fill="#f9b1b5" d="M215.03,102.32 221.77,101.82 222.51,109.81 220.02,118.54 215.78,117.29Z"/>
<path fill="#f8604f" d="M220.77,104.32 230,102.82 231.75,112.3 231.25,121.78 223.76,121.03 219.27,117.29Z"/>
<path fill="#99d5a3" d="M231.25,94.83 241.23,92.34 248.71,96.08 251.21,102.32 244.97,106.06 236.24,104.81 231.75,101.07Z"/>
<path fill="#eeefb2" d="M183.84,116.04 193.82,114.8 208.79,116.04 216.28,118.54 223.76,121.03 231.25,121.78 232.49,106.06 244.97,106.06 251.21,102.32 254.2,99.82 258.19,101.82 261.19,112.8 258.69,119.79 248.71,125.27 241.23,128.52 237.48,132.26 237.48,138.5 231.25,139.75 221.27,143.49 218.77,147.23 221.77,153.47 221.27,162.2 211.29,160.96 201.31,159.21 200.06,144.74 198.81,127.27 185.09,125.27Z"/>
<path fill="#f9b1b5" d="M177.6,129.77 185.09,125.27 198.81,127.27 200.06,144.74 201.31,159.21 188.83,160.21 181.34,160.96 177.6,152.22 176.35,139.75Z"/>
<path fill="#f9b1b5" d="M158.39,113.55 162.63,109.81 166.87,112.8 171.36,112.3 170.86,124.78 165.87,125.27 163.88,117.29 160.14,116.04Z"/>
<path fill="#ffffff" d="M164.38,114.05 170.86,113.55 170.86,117.79 165.38,118.04Z"/>
<path fill="#ffffff" d="M151.4,117.29 155.15,116.79 155.39,119.79 151.9,120.04Z"/>
<path fill="#99d5a3" d="M248.71,125.27 254.95,122.28 259.94,129.27 263.68,134.76 257.45,137.75 251.21,134.76Z"/>
<path fill="#eeefb2" d="M237.48,132.26 241.23,128.52 248.71,125.27 251.21,134.76 246.22,138.5 238.73,137.75Z"/>
<path fill="#f8604f" d="M254.95,122.28 259.94,114.3 266.18,113.8 268.17,122.28 266.18,129.27 259.94,129.27 255.7,126.02Z"/>
<path fill="#f8604f" d="M266.18,114.3 276.16,114.3 286.14,115.04 293.62,117.29 299.11,121.78 296.12,128.52 289.88,132.76 282.4,134.76 276.16,132.26 269.92,127.27 268.17,122.28Z"/>
<path fill="#f9b1b5" d="M259.94,129.77 266.18,129.27 269.92,133.51 267.43,139.25 261.19,138.5Z"/>
<path fill="#99d5a3" d="M270.67,132.26 276.16,130.27 282.4,133.51 277.41,137.25 271.67,136.75Z"/>
<path fill="#f8604f" d="M233.74,139.75 241.23,136 251.21,134.76 257.45,137.75 263.68,140.99 261.19,147.23 256.2,150.97 248.71,147.23 241.23,143.49 234.99,142.24Z"/>
<path fill="#eeefb2" d="M276.16,136 282.4,134.76 289.88,132.76 296.12,128.52 298.62,121.78 308.6,123.03 313.59,124.28 321.07,120.53 327.31,119.29 326.06,129.77 323.57,139.75 318.58,149.73 313.59,157.21 308.6,154.72 304.85,149.73 298.62,144.74 293.62,145.98 288.63,142.24 281.15,139.75Z"/>
<path fill="#33b581" d="M294.12,145.98 301.11,143.49 306.1,148.48 303.61,157.21 297.37,159.71 293.62,153.47Z"/>
<path fill="#f9b1b5" d="M313.09,125.27 321.07,121.03 326.06,122.28 324.81,129.77 317.33,132.26Z"/>
<path fill="#99d5a3" d="M327.31,119.79 333.55,117.29 338.54,116.79 342.28,112.3 348.52,109.31 351.01,119.79 346.02,127.27 336.04,129.77 327.31,127.27Z"/>
<path fill="#33b581" d="M338.04,116.04 347.27,114.8 348.52,124.78 339.04,126.02Z"/>
<path fill="#f9b1b5" d="M323.57,133.51 331.05,131.01 341.03,132.26 344.77,138.5 338.54,144.74 329.8,143.49 324.81,139.75Z"/>
<path fill="#f8604f" d="M336.54,137.75 347.27,134.26 351.01,137.75 347.27,142.24 338.54,141.74Z"/>
<path fill="#f8604f" d="M341.53,144.24 348.02,143.49 348.52,151.72 342.28,152.22Z"/>
<path fill="#f9b1b5" d="M321.57,149.73 328.56,145.98 337.29,148.48 334.79,155.96 326.06,157.21Z"/>
<path fill="#eeefb2" d="M347.27,96.08 358.5,93.59 358.5,114.8 351.01,109.81Z"/>
<path fill="#99d5a3" d="M218.77,147.23 221.27,143.49 231.25,139.75 237.48,138.5 241.23,143.49 248.71,147.23 256.2,150.97 263.68,145.98 271.17,147.23 281.15,154.72 287.39,159.71 291.13,167.19 288.63,174.68 281.15,179.67 273.66,184.66 263.68,187.15 253.7,184.66 243.72,182.16 233.74,179.67 223.76,174.68 213.78,169.69 211.29,162.2 221.77,162.2 221.77,153.47Z"/>
<path fill="#f8604f" d="M220.77,159.71 226.26,154.72 236.24,152.72 246.22,155.96 250.71,162.2 251.21,172.18 244.97,173.43 237.48,169.69 228.75,165.95 222.51,164.2Z"/>
<path fill="#f8604f" d="M210.54,177.17 215.03,172.68 223.76,174.68 230,182.16 227.5,191.65 220.02,189.65 213.78,184.66Z"/>
<path fill="#f9b1b5" d="M273.66,162.2 279.9,157.21 287.39,160.96 284.89,168.44 277.41,170.94Z"/>
<path fill="#f9b1b5" d="M257.45,178.42 266.18,174.18 276.16,175.93 286.14,179.67 281.15,184.66 271.17,185.91 261.19,184.66Z"/>
<path fill="#eeefb2" d="M231.25,174.68 238.73,170.94 247.46,174.68 256.2,179.67 258.69,185.91 251.21,188.4 242.47,184.66 234.99,182.16Z"/>
<path fill="#99d5a3" d="M233.74,184.66 243.72,184.66 253.7,188.4 261.19,189.65 258.69,199.63 251.21,202.12 243.72,194.64 236.24,192.14Z"/>
<path fill="#f9b1b5" d="M138.43,165.95 143.92,160.46 152.65,157.21 162.63,159.71 163.88,165.95 161.38,174.68 155.15,179.67 145.16,175.93 140.42,171.68Z"/>
<path fill="#f9b1b5" d="M132.94,179.67 138.93,176.67 142.67,184.66 140.17,192.14 134.69,188.4Z"/>
<path fill="#99d5a3" d="M142.67,179.67 148.91,178.42 151.4,187.15 147.66,194.64 142.67,190.9Z"/>
<path fill="#ffffff" d="M160.14,194.91 166.37,191.17 172.61,194.91 170.12,206.14 165.13,202.4 161.38,198.65Z"/>
<path fill="#eeefb2" d="M193.82,199.9 200.06,196.16 205.8,199.9 204.3,207.89 197.56,209.88Z"/>
<path fill="#99d5a3" d="M176.35,207.39 182.59,201.15 190.08,206.14 188.83,213.63 181.34,216.12Z"/>
<path fill="#99d5a3" d="M207.54,212.38 216.28,207.39 226.26,206.14 236.24,209.88 241.23,216.12 236.24,222.36 226.26,224.85 218.77,226.1 211.29,221.11Z"/>
<path fill="#eeefb2" d="M234.99,215.37 243.72,212.88 253.7,217.37 251.21,222.36 241.23,219.86Z"/>
<path fill="#f8604f" d="M251.21,213.63 256.2,211.13 258.69,217.37 254.95,222.36 251.21,219.86Z"/>
<path fill="#99d5a3" d="M217.52,232.34 223.76,227.35 233.74,226.1 241.23,229.84 237.48,237.33 228.75,240.32 220.02,238.58Z"/>
<path fill="#99d5a3" d="M241.23,202.4 251.21,198.65 261.19,202.4 258.69,211.13 248.71,209.88Z"/>
<path fill="#ffffff" d="M258.19,201.15 262.44,198.65 264.93,202.4 263.68,211.13 259.19,211.88Z"/>
<path fill="#ffffff" d="M262.93,224.85 267.43,223.61 268.67,232.34 263.68,233.59Z"/>
<path fill="#99d5a3" d="M271.17,209.88 278.65,206.14 287.39,212.38 291.13,222.36 286.14,232.34 277.41,234.83 272.42,224.85Z"/>
<path fill="#f9b1b5" d="M284.89,218.62 293.62,217.37 294.87,228.6 286.14,229.84Z"/>
<path fill="#ffffff" d="M283.64,237.33 291.13,231.09 299.86,229.84 301.11,239.82 296.12,251.05 288.63,248.56Z"/>
<path fill="#eeefb2" d="M286.64,198.65 299.86,197.41 301.11,208.64 288.14,209.88Z"/>
<path fill="#f9b1b5" d="M271.67,233.59 276.66,232.34 277.41,245.31 272.67,246.06Z"/>
<path fill="#eeefb2" d="M176.35,216.12 181.34,215.37 181.84,221.11 176.85,221.86Z"/>
<path fill="#99d5a3" d="M196.31,216.12 206.3,213.63 208.79,221.11 200.06,222.86Z"/>
<path fill="#f9b1b5" d="M395.07,24.97 400.06,20.48 408.79,18.48 416.77,20.48 416.77,26.22 411.29,28.71 403.8,29.96 397.56,29.46Z"/>
<path fill="#eeefb2" d="M387.58,29.96 395.07,28.71 402.55,29.96 403.8,37.45 398.81,42.44 393.82,46.18 387.58,47.93 390.08,37.45Z"/>
<path fill="#eeefb2" d="M402.55,29.96 411.29,29.46 417.52,26.22 422.51,31.21 425.76,37.45 418.77,34.95 411.29,36.2 403.8,37.45Z"/>
<path fill="#eeefb2" d="M380.85,57.41 387.58,51.17 395.07,49.92 397.56,59.9 398.81,69.88 395.07,75.37 387.58,72.38 381.34,68.64Z"/>
<path fill="#33b581" d="M398.81,69.88 403.8,62.4 411.29,58.65 416.28,63.65 412.53,72.38 410.04,81.11 413.78,87.35 411.29,93.59 405.05,89.84 400.06,82.36 396.31,76.12Z"/>
<path fill="#33b581" d="M418.77,57.41 425.01,51.17 432.49,49.92 437.48,56.16 436.24,63.65 431.25,71.13 425.01,72.38 420.02,67.39Z"/>
<path fill="#eeefb2" d="M431.25,47.43 437.48,44.93 444.97,46.93 450.71,53.66 447.46,59.9 439.98,57.41 434.99,52.42Z"/>
<path fill="#ffffff" d="M439.23,56.16 443.72,51.17 449.96,54.91 450.71,61.15 446.22,63.65 441.23,61.15Z"/>
<path fill="#ffffff" d="M422.51,36.95 426.26,34.95 430.75,43.68 426.26,45.43Z"/>
<path fill="#33b581" d="M452.46,59.9 458.69,56.16 466.18,53.66 469.17,59.9 467.43,68.64 461.19,72.38 454.95,68.64Z"/>
<path fill="#eeefb2" d="M431.25,67.39 437.48,64.39 441.23,69.88 438.73,76.87 433.24,75.37Z"/>
<path fill="#33b581" d="M440.73,67.89 451.21,66.89 453.2,77.37 444.97,81.11 440.23,76.12Z"/>
<path fill="#eeefb2" d="M451.21,82.36 457.45,77.87 463.18,82.36 464.18,91.09 457.45,94.83 452.46,89.84Z"/>
<path fill="#eeefb2" d="M437.48,87.35 444.97,83.61 450.71,89.84 451.21,99.82 448.71,108.56 441.23,106.06 437.48,97.33Z"/>
<path fill="#eeefb2" d="M406.3,82.36 413.78,80.36 420.77,84.85 417.52,89.84 410.04,88.6Z"/>
<path fill="#33b581" d="M412.53,89.84 421.27,86.1 428.75,89.84 433.74,97.33 432.49,106.06 426.26,112.3 418.77,114.8 412.53,109.81 408.79,102.32 411.29,94.83Z"/>
<path fill="#eeefb2" d="M415.03,114.8 423.76,111.05 432.49,109.81 436.24,114.8 431.25,121.03 421.27,122.28 416.28,119.79Z"/>
<path fill="#ffffff" d="M418.02,110.3 425.76,109.81 426.26,114.3 418.77,114.8Z"/>
<path fill="#ffffff" d="M413.78,63.65 418.27,62.4 418.77,71.13 415.03,71.88Z"/>
<path fill="#ffffff" d="M421.27,72.38 425.01,72.38 425.01,78.62 421.77,78.62Z"/>
<path fill="#ffffff" d="M427.5,92.34 432.49,91.09 433.24,96.08 428.25,96.83Z"/>
<path fill="#f9b1b5" d="M371.86,92.34 376.35,83.61 385.09,79.36 395.07,78.62 394.32,84.85 386.33,89.84 380.1,96.08 376.35,106.06 372.61,101.07Z"/>
<path fill="#eeefb2" d="M380.1,96.08 386.33,89.84 394.32,87.35 396.31,94.83 390.08,100.32 382.59,101.07Z"/>
<path fill="#eeefb2" d="M348.91,97.33 357.64,94.83 368.87,97.83 371.86,104.81 367.62,112.3 361.38,117.29 355.15,122.28 348.91,117.29 351.4,107.31Z"/>
<path fill="#33b581" d="M380.1,104.81 386.33,101.07 396.31,96.08 403.8,99.82 406.3,107.31 400.06,112.3 392.57,114.8 385.09,116.79 380.85,111.05Z"/>
<path fill="#ffffff" d="M389.33,110.3 397.56,109.81 397.31,114.3 389.83,114.8Z"/>
<path fill="#f9b1b5" d="M312.73,123.53 320.21,119.79 326.45,122.28 325.2,129.77 316.47,131.01Z"/>
<path fill="#33b581" d="M338.43,117.29 348.41,116.04 348.91,126.77 338.93,127.27Z"/>
<path fill="#eeefb2" d="M299,123.53 312.73,123.53 316.47,131.01 325.2,129.77 326.45,139.75 322.71,149.73 316.47,155.96 306.49,157.21 299,154.72Z"/>
<path fill="#f9b1b5" d="M325.2,129.77 336.43,131.01 345.16,134.76 350.15,139.75 345.16,145.98 338.93,149.73 333.94,157.21 326.45,153.47 322.71,148.48 326.45,139.75Z"/>
<path fill="#f8604f" d="M336.93,137.75 343.92,136 350.15,135.26 350.9,139.75 346.41,142.24 347.66,149.73 342.67,152.22 341.42,144.74 337.68,140.99Z"/>
<path fill="#eeefb2" d="M316.47,149.73 322.71,149.23 326.45,154.22 322.71,160.96 316.97,159.71Z"/>
<path fill="#f8604f" d="M377.6,127.77 381.34,127.27 381.84,132.26 377.85,132.26Z"/>
<path fill="#f8604f" d="M301.5,191.65 305.99,190.9 306.49,197.63 301.5,198.38Z"/>
<path fill="#eeefb2" d="M348.91,182.16 358.89,177.17 371.36,175.93 373.86,179.67 361.38,183.41 351.4,184.66Z"/>
<path fill="#eeefb2" d="M405.05,197.13 411.29,193.39 421.27,195.89 423.76,203.37 416.28,207.12 406.3,204.62Z"/>
<path fill="#eeefb2" d="M408.79,194.91 418.77,192.42 427.5,199.9 431.25,208.64 430,219.86 425.01,229.84 417.52,233.59 411.29,227.35 407.54,217.37 410.04,206.14Z"/>
<path fill="#f9b1b5" d="M413.78,197.41 421.27,196.16 423.76,203.65 418.77,209.88 413.78,206.14Z"/>
<path fill="#f9b1b5" d="M415.03,212.38 422.51,211.13 421.27,221.11 415.78,222.36Z"/>
<path fill="#f8604f" d="M423.26,201.15 426.76,200.65 427,204.89 423.76,205.39Z"/>
<path fill="#eeefb2" d="M397.56,237.33 406.3,233.59 412.53,239.82 411.29,249.81 405.05,257.29 398.81,259.79 396.31,249.81Z"/>
<path fill="#f9b1b5" d="M400.06,246.06 405.05,244.81 405.05,251.05 400.56,251.8Z"/>
<path fill="#eeefb2" d="M363.88,271.01 373.86,269.77 381.34,272.26 382.59,277.75 373.86,279.75 366.37,278.5Z"/>
<path fill="#f9b1b5" d="M365.87,272.26 372.61,271.51 373.11,276.75 366.37,277.25Z"/>
<path fill="#eeefb2" d="M402.55,182.44 411.29,181.19 412.53,189.92 405.05,193.66 401.31,188.67Z"/>
<path fill="#eeefb2" d="M301.5,150 312.73,150 313.98,157.49 306.49,159.98 301.5,157.49Z"/>
<path fill="#f9b1b5" d="M322.71,150 335.18,150 333.94,156.24 325.2,156.99Z"/>
<path fill="#f8604f" d="M301.5,191.17 305.24,191.17 306.49,196.16 302.75,198.65 301.5,197.41Z"/>
<path fill="#99d5a3" d="M338.93,305.95 346.41,299.71 356.39,299.21 361.38,302.2 357.64,309.69 352.65,314.68 345.16,316.67 340.17,311.68Z"/>
<path fill="#eeefb2" d="M347.66,303.45 355.15,302.2 355.15,309.69 350.15,312.18Z"/>
</g>
<use href="#prov" clip-path="url(#cn)"/>
<use href="#coastfuzz"/>
<use href="#cnline"/>
</g></g>
<g transform="translate(0,394.4)">
<clipPath id="icc"><rect x="445.5" y="231.9" width="71.79999999999995" height="91.70000000000002"/></clipPath>
<g clip-path="url(#icc)"><use href="#mc" transform="translate(283.3,106.8) scale(0.5)"/></g>
<path d="M506.49,232.6L506.49,236.79M505.09,244.49L503.27,247.99M499.49,256.39L497.67,261.28M497.25,268.98L497.67,273.18M499.49,285.08L497.67,289.27M488.85,302.57L486.06,306.07M475.28,319.64L471.08,321.04M452.47,308.45L453.59,312.65M460.59,287.88L461.42,291.65M456.67,272.48L459.19,275.98M441.27,252.89L441.69,261.98M438.89,276.68L434.69,285.08M428.4,300.47L424.9,308.87M423.64,324.26L424.2,326.36" stroke="#2a2a2a" stroke-width="1.1" fill="none"/>
<path d="M482.53,250.09a0.45,0.45 0 1,0 0.9,0a0.45,0.45 0 1,0 -0.9,0M485.33,251.07a0.45,0.45 0 1,0 0.9,0a0.45,0.45 0 1,0 -0.9,0M470.63,257.79a0.45,0.45 0 1,0 0.9,0a0.45,0.45 0 1,0 -0.9,0M474.13,258.49a0.45,0.45 0 1,0 0.9,0a0.45,0.45 0 1,0 -0.9,0M465.03,268.98a0.45,0.45 0 1,0 0.9,0a0.45,0.45 0 1,0 -0.9,0M467.13,271.08a0.45,0.45 0 1,0 0.9,0a0.45,0.45 0 1,0 -0.9,0M469.23,269.26a0.45,0.45 0 1,0 0.9,0a0.45,0.45 0 1,0 -0.9,0M470.21,272.48a0.45,0.45 0 1,0 0.9,0a0.45,0.45 0 1,0 -0.9,0M465.73,273.18a0.45,0.45 0 1,0 0.9,0a0.45,0.45 0 1,0 -0.9,0M476.23,272.48a0.45,0.45 0 1,0 0.9,0a0.45,0.45 0 1,0 -0.9,0M478.33,271.50a0.45,0.45 0 1,0 0.9,0a0.45,0.45 0 1,0 -0.9,0M479.73,273.18a0.45,0.45 0 1,0 0.9,0a0.45,0.45 0 1,0 -0.9,0M487.43,269.26a0.45,0.45 0 1,0 0.9,0a0.45,0.45 0 1,0 -0.9,0M492.04,273.46a0.45,0.45 0 1,0 0.9,0a0.45,0.45 0 1,0 -0.9,0M482.25,279.48a0.45,0.45 0 1,0 0.9,0a0.45,0.45 0 1,0 -0.9,0M479.73,289.97a0.45,0.45 0 1,0 0.9,0a0.45,0.45 0 1,0 -0.9,0M481.13,292.07a0.45,0.45 0 1,0 0.9,0a0.45,0.45 0 1,0 -0.9,0M479.03,294.17a0.45,0.45 0 1,0 0.9,0a0.45,0.45 0 1,0 -0.9,0M480.43,296.27a0.45,0.45 0 1,0 0.9,0a0.45,0.45 0 1,0 -0.9,0M481.83,298.37a0.45,0.45 0 1,0 0.9,0a0.45,0.45 0 1,0 -0.9,0M478.33,298.37a0.45,0.45 0 1,0 0.9,0a0.45,0.45 0 1,0 -0.9,0M488.13,287.88a0.45,0.45 0 1,0 0.9,0a0.45,0.45 0 1,0 -0.9,0M490.22,289.27a0.45,0.45 0 1,0 0.9,0a0.45,0.45 0 1,0 -0.9,0M491.62,291.37a0.45,0.45 0 1,0 0.9,0a0.45,0.45 0 1,0 -0.9,0M489.52,292.77a0.45,0.45 0 1,0 0.9,0a0.45,0.45 0 1,0 -0.9,0M487.43,294.17a0.45,0.45 0 1,0 0.9,0a0.45,0.45 0 1,0 -0.9,0M488.82,296.27a0.45,0.45 0 1,0 0.9,0a0.45,0.45 0 1,0 -0.9,0M486.03,296.97a0.45,0.45 0 1,0 0.9,0a0.45,0.45 0 1,0 -0.9,0M492.32,292.77a0.45,0.45 0 1,0 0.9,0a0.45,0.45 0 1,0 -0.9,0M490.92,287.18a0.45,0.45 0 1,0 0.9,0a0.45,0.45 0 1,0 -0.9,0M472.73,298.37a0.45,0.45 0 1,0 0.9,0a0.45,0.45 0 1,0 -0.9,0M470.63,300.47a0.45,0.45 0 1,0 0.9,0a0.45,0.45 0 1,0 -0.9,0M468.53,302.57a0.45,0.45 0 1,0 0.9,0a0.45,0.45 0 1,0 -0.9,0M467.83,304.67a0.45,0.45 0 1,0 0.9,0a0.45,0.45 0 1,0 -0.9,0M474.83,302.57a0.45,0.45 0 1,0 0.9,0a0.45,0.45 0 1,0 -0.9,0M476.93,303.97a0.45,0.45 0 1,0 0.9,0a0.45,0.45 0 1,0 -0.9,0M479.03,304.67a0.45,0.45 0 1,0 0.9,0a0.45,0.45 0 1,0 -0.9,0M481.13,303.69a0.45,0.45 0 1,0 0.9,0a0.45,0.45 0 1,0 -0.9,0M483.23,302.57a0.45,0.45 0 1,0 0.9,0a0.45,0.45 0 1,0 -0.9,0M484.63,301.17a0.45,0.45 0 1,0 0.9,0a0.45,0.45 0 1,0 -0.9,0M461.53,305.37a0.45,0.45 0 1,0 0.9,0a0.45,0.45 0 1,0 -0.9,0M459.44,306.49a0.45,0.45 0 1,0 0.9,0a0.45,0.45 0 1,0 -0.9,0M458.04,307.47a0.45,0.45 0 1,0 0.9,0a0.45,0.45 0 1,0 -0.9,0M472.73,312.37a0.45,0.45 0 1,0 0.9,0a0.45,0.45 0 1,0 -0.9,0M473.43,314.47a0.45,0.45 0 1,0 0.9,0a0.45,0.45 0 1,0 -0.9,0M474.83,315.17a0.45,0.45 0 1,0 0.9,0a0.45,0.45 0 1,0 -0.9,0M476.23,309.57a0.45,0.45 0 1,0 0.9,0a0.45,0.45 0 1,0 -0.9,0M471.33,320.06a0.45,0.45 0 1,0 0.9,0a0.45,0.45 0 1,0 -0.9,0M434.94,246.59a0.45,0.45 0 1,0 0.9,0a0.45,0.45 0 1,0 -0.9,0M420.25,265.48a0.45,0.45 0 1,0 0.9,0a0.45,0.45 0 1,0 -0.9,0M435.64,274.58a0.45,0.45 0 1,0 0.9,0a0.45,0.45 0 1,0 -0.9,0M420.67,238.19a0.45,0.45 0 1,0 0.9,0a0.45,0.45 0 1,0 -0.9,0M394.36,288.48a0.45,0.45 0 1,0 0.9,0a0.45,0.45 0 1,0 -0.9,0M400.60,290.97a0.45,0.45 0 1,0 0.9,0a0.45,0.45 0 1,0 -0.9,0M373.16,303.45a0.45,0.45 0 1,0 0.9,0a0.45,0.45 0 1,0 -0.9,0M379.39,305.20a0.45,0.45 0 1,0 0.9,0a0.45,0.45 0 1,0 -0.9,0M361.93,323.41a0.45,0.45 0 1,0 0.9,0a0.45,0.45 0 1,0 -0.9,0M364.92,324.66a0.45,0.45 0 1,0 0.9,0a0.45,0.45 0 1,0 -0.9,0M368.17,324.16a0.45,0.45 0 1,0 0.9,0a0.45,0.45 0 1,0 -0.9,0M371.91,325.16a0.45,0.45 0 1,0 0.9,0a0.45,0.45 0 1,0 -0.9,0M404.35,324.66a0.45,0.45 0 1,0 0.9,0a0.45,0.45 0 1,0 -0.9,0M435.53,246.06a0.45,0.45 0 1,0 0.9,0a0.45,0.45 0 1,0 -0.9,0M418.82,266.02a0.45,0.45 0 1,0 0.9,0a0.45,0.45 0 1,0 -0.9,0M436.28,272.76a0.45,0.45 0 1,0 0.9,0a0.45,0.45 0 1,0 -0.9,0" fill="none" stroke="#555" stroke-width="0.45"/>
<rect x="445.5" y="231.9" width="71.79999999999995" height="91.70000000000002" fill="none" stroke="#1c1c1c" stroke-width="1.1"/>
</g>
<g transform="translate(404.94,392.09) scale(0.998)"><g id="md">
<g clip-path="url(#cn)"><rect x="100" y="0" width="400" height="340" fill="#33b581"/>
<path fill="#99d5a3" d="M262.57,159.71 300,159.71 314.97,149.73 322.46,154.72 332.44,159.71 339.92,152.22 349.9,139.75 353.65,132.26 359.88,126.02 364.87,119.79 382.34,134.76 394.81,139.75 391.07,143.49 404.8,149.73 422.26,153.47 407.29,167.19 404.8,172.46 417.27,189.92 428.5,206.14 434.74,208.64 429.75,219.86 421.01,238.58 409.29,259.29 396.81,270.51 374.85,280.5 353.65,288.48 351.9,298.46 344.91,298.46 344.91,289.73 329.94,287.23 319.46,278.5 300,279.75 275.05,289.73 245.11,269.77 250.1,237.33 270.06,199.9 250.1,174.95Z"/>
<filter id="f23" x="0" y="0" width="1" height="1" color-interpolation-filters="sRGB">
<feTurbulence type="fractalNoise" baseFrequency="0.07" numOctaves="2" seed="59" result="t1_0"/>
<feColorMatrix in="t1_0" type="matrix" values="0 0 0 0 0.200 0 0 0 0 0.710 0 0 0 0 0.506 60 0 0 0 -30.61" result="l0"/>
<feTurbulence type="fractalNoise" baseFrequency="0.08" numOctaves="2" seed="72" result="t2_0"/>
<feColorMatrix in="t2_0" type="matrix" values="0 0 0 0 0.933 0 0 0 0 0.937 0 0 0 0 0.698 60 0 0 0 -35.76" result="l1"/>
<feTurbulence type="fractalNoise" baseFrequency="0.09" numOctaves="2" seed="85" result="t3_0"/>
<feColorMatrix in="t3_0" type="matrix" values="0 0 0 0 0.976 0 0 0 0 0.694 0 0 0 0 0.710 60 0 0 0 -41.12" result="l2"/>
<feTurbulence type="fractalNoise" baseFrequency="0.16" numOctaves="2" seed="98" result="t4_0"/>
<feColorMatrix in="t4_0" type="matrix" values="0 0 0 0 1.000 0 0 0 0 1.000 0 0 0 0 1.000 60 0 0 0 -40.09" result="l3"/>
<feMerge><feMergeNode in="SourceGraphic"/><feMergeNode in="l0"/><feMergeNode in="l1"/><feMergeNode in="l2"/><feMergeNode in="l3"/></feMerge>
<feComposite in2="SourceAlpha" operator="in"/></filter>
<path fill="#99d5a3" filter="url(#f23)" d="M262.57,159.71 300,159.71 314.97,149.73 322.46,154.72 332.44,159.71 339.92,152.22 349.9,139.75 353.65,132.26 359.88,126.02 364.87,119.79 382.34,134.76 394.81,139.75 391.07,143.49 404.8,149.73 422.26,153.47 407.29,167.19 404.8,172.46 417.27,189.92 428.5,206.14 434.74,208.64 429.75,219.86 421.01,238.58 409.29,259.29 396.81,270.51 374.85,280.5 353.65,288.48 351.9,298.46 344.91,298.46 344.91,289.73 329.94,287.23 319.46,278.5 300,279.75 275.05,289.73 245.11,269.77 250.1,237.33 270.06,199.9 250.1,174.95Z"/>
<path fill="#eeefb2" d="M117.47,113.55 123.7,108.06 133.68,107.31 143.66,105.56 144.91,109.81 137.43,113.55 129.94,116.04 124.95,119.79 121.21,117.29Z"/>
<path fill="#99d5a3" d="M143.66,105.56 153.65,104.32 162.38,102.32 164.37,109.81 165.37,119.79 159.88,122.28 152.4,117.29 144.91,116.04 137.43,119.79 129.94,122.28 124.95,119.79 129.94,116.04 137.43,113.55 144.91,109.81Z"/>
<path fill="#f9b1b5" d="M120.96,129.77 127.45,127.27 131.94,134.76 133.68,145.98 128.69,148.48 124.95,139.75Z"/>
<path fill="#99d5a3" d="M165.37,119.79 174.85,122.28 184.83,124.78 199.81,126.02 199.81,139.75 200.3,157.21 187.33,159.71 174.85,160.96 167.37,158.96 162.38,157.21 159.88,149.73 161.13,137.25Z"/>
<path fill="#f8604f" d="M199.81,126.02 209.79,123.53 219.77,121.03 229.75,122.28 239.73,124.78 243.47,127.27 235.98,132.26 235.98,138.5 229.75,139.75 219.77,143.49 217.27,147.23 220.27,153.47 221.01,162.2 209.79,160.96 200.3,157.21 199.81,139.75Z"/>
<path fill="#eeefb2" d="M165.37,119.79 167.37,109.81 172.36,106.06 179.84,103.57 189.82,104.81 196.06,108.56 198.56,114.8 199.81,126.02 184.83,124.78 174.85,122.28Z"/>
<path fill="#f9b1b5" d="M167.37,103.57 174.85,101.07 181.09,102.82 179.84,108.56 172.36,109.81 167.87,108.56Z"/>
<path fill="#99d5a3" d="M181.09,102.82 187.33,98.58 199.81,99.82 207.29,103.57 211.03,109.81 207.29,114.8 198.56,114.8 196.06,108.56 189.82,104.81Z"/>
<path fill="#99d5a3" d="M168.62,80.36 174.85,78.87 182.34,80.36 184.34,74.87 189.33,66.39 199.31,69.38 199.81,74.87 194.81,82.36 186.08,84.85 174.85,84.85Z"/>
<path fill="#33b581" d="M167.87,84.85 174.85,83.61 182.34,84.85 186.08,84.85 192.32,92.34 189.82,98.58 179.84,97.33 171.11,98.58 165.37,97.33 169.86,89.84Z"/>
<path fill="#eeefb2" d="M186.08,84.85 193.57,82.36 202.3,84.85 204.8,92.34 198.56,97.33 192.32,92.34Z"/>
<path fill="#33b581" d="M183.59,69.88 189.33,66.89 191.07,72.38 186.08,75.37Z"/>
<path fill="#f9b1b5" d="M204.8,62.4 211.03,56.91 218.52,58.16 219.77,67.39 217.27,76.12 209.79,79.86 202.3,77.37 199.81,69.88Z"/>
<path fill="#eeefb2" d="M210.28,69.88 217.27,68.64 219.77,79.86 217.27,89.84 211.03,88.6Z"/>
<path fill="#f9b1b5" d="M219.77,61.9 229.75,68.88 232.24,76.12 230.25,82.86 233.24,88.85 239.73,91.84 247.71,95.33 253.2,99.33 257.19,101.32 260.19,112.8 257.19,119.79 247.21,125.27 243.47,127.27 239.73,124.78 231.74,121.03 231.74,106.06 224.76,102.82 221.01,97.33 219.77,84.85 222.26,74.87Z"/>
<path fill="#f9b1b5" d="M201.05,82.36 209.79,80.36 216.77,84.85 217.27,97.33 212.28,104.81 207.29,102.32 203.55,94.83Z"/>
<path fill="#ffffff" d="M195.31,84.85 200.3,76.12 202.8,76.87 197.81,86.85Z"/>
<path fill="#ffffff" d="M211.78,89.84 216.02,89.35 217.27,108.56 213.53,109.81Z"/>
<path fill="#eeefb2" d="M217.77,106.06 224.76,102.82 231.74,106.06 230.99,121.03 219.77,119.79Z"/>
<path fill="#f8604f" d="M216.27,89.84 220.76,89.35 221.01,99.33 216.77,99.82Z"/>
<path fill="#eeefb2" d="M222.26,69.88 228.5,69.88 230.25,82.36 226,89.84 222.26,84.85Z"/>
<path fill="#f8604f" d="M245.22,106.06 252.7,99.82 257.19,101.82 260.19,112.8 252.2,109.81Z"/>
<path fill="#eeefb2" d="M235.98,132.26 243.47,127.27 252.2,122.28 255.95,127.27 262.18,133.51 254.7,137.25 244.72,137.75 236.73,137.75Z"/>
<path fill="#f8604f" d="M254.7,122.28 259.69,113.05 265.18,113.8 267.67,122.28 264.68,129.27 258.44,128.52Z"/>
<path fill="#f8604f" d="M264.68,114.3 274.66,114.3 284.64,115.04 292.12,117.29 297.61,121.78 294.62,128.52 288.38,132.76 280.9,134.76 274.66,132.26 268.42,127.27 266.67,122.28Z"/>
<path fill="#f9b1b5" d="M259.69,129.77 264.68,129.27 269.67,133.51 266.67,139.75 260.19,138.5Z"/>
<path fill="#99d5a3" d="M269.17,132.26 274.66,130.27 280.9,133.51 275.91,137.25 270.17,136.75Z"/>
<path fill="#f8604f" d="M236.73,138.5 244.72,136 254.7,137.25 263.43,140.99 259.69,147.23 252.2,149.23 243.47,144.74Z"/>
<path fill="#f9b1b5" d="M275.91,134.76 284.64,132.76 294.62,128.52 298.36,121.78 307.1,123.03 305.85,132.26 302.11,139.75 294.62,144.74 285.89,142.24 278.4,139.75Z"/>
<path fill="#f8604f" d="M299.61,124.28 307.1,123.03 312.09,124.28 317.08,129.77 320.82,139.75 319.57,149.73 314.58,157.21 307.1,159.21 302.11,152.22 303.35,139.75 300.86,132.26Z"/>
<path fill="#f9b1b5" d="M312.09,124.28 319.57,120.53 325.81,118.04 337.04,116.79 339.53,122.28 332.05,127.27 322.07,129.27 315.83,128.52Z"/>
<path fill="#eeefb2" d="M329.55,126.02 345.77,124.78 347.02,131.76 330.8,132.76Z"/>
<path fill="#f8604f" d="M321.57,139.75 327.06,134.76 334.54,132.26 345.77,133.51 348.27,139.75 342.03,145.98 335.79,152.22 330.8,157.21 324.56,153.47 320.82,147.23Z"/>
<path fill="#f8604f" d="M336.54,116.04 347.02,114.8 348.27,124.78 337.54,126.02Z"/>
<path fill="#33b581" d="M342.53,109.81 349.51,106.06 357,108.56 357,122.28 349.51,122.28Z"/>
<path fill="#f9b1b5" d="M347.02,96.08 357,93.59 357,107.31 350.76,106.06Z"/>
<path fill="#f9b1b5" d="M221.01,144.74 229.75,140.25 239.73,142.24 249.71,145.98 259.69,144.74 269.67,147.23 279.65,154.72 285.89,162.2 283.39,172.18 274.66,179.67 265.93,184.66 257.19,182.16 249.71,174.68 239.73,169.69 229.75,164.7 222.26,159.71 220.27,153.47Z"/>
<path fill="#eeefb2" d="M249.71,162.2 259.69,158.46 272.16,159.71 279.65,154.72 285.89,162.2 283.39,172.18 274.66,175.93 262.18,174.68 252.2,173.43Z"/>
<path fill="#99d5a3" d="M211.03,163.45 221.01,162.2 229.75,164.7 239.73,169.69 249.71,174.68 257.19,182.16 260.94,189.65 254.7,197.13 244.72,194.64 234.74,189.65 224.76,184.66 214.78,177.17Z"/>
<path fill="#33b581" d="M233.49,174.68 240.97,171.68 249.71,175.93 257.19,183.41 259.69,192.14 253.45,194.64 247.21,187.15 239.73,182.16 234.74,180.92Z"/>
<path fill="#f9b1b5" d="M211.03,174.68 219.77,173.43 227.25,178.42 229.75,187.15 224.76,192.14 216.02,188.4 211.78,182.16Z"/>
<path fill="#99d5a3" d="M274.66,179.67 283.39,172.18 289.63,169.69 293.37,175.93 289.63,184.66 282.14,187.15Z"/>
<path fill="#99d5a3" d="M137.93,163.45 146.16,158.71 156.14,157.21 162.38,160.96 159.88,169.69 153.65,175.93 144.91,174.68 139.42,170.94Z"/>
<path fill="#eeefb2" d="M132.44,178.67 139.92,174.68 143.66,184.66 148.65,190.9 154.89,195.89 151.15,198.63 144.91,195.89 137.43,189.65 133.68,184.66Z"/>
<path fill="#f8604f" d="M140.42,174.68 144.91,173.43 148.65,182.16 147.91,189.65 144.41,190.9 142.42,182.16Z"/>
<path fill="#ffffff" d="M159.38,194.91 165.37,191.17 172.36,194.91 169.86,206.14 164.37,202.4 160.38,198.65Z"/>
<path fill="#99d5a3" d="M187.83,207.89 199.31,206.89 199.81,214.37 188.58,215.37Z"/>
<path fill="#eeefb2" d="M167.37,212.88 177.85,212.38 178.6,218.62 168.62,219.36Z"/>
<path fill="#99d5a3" d="M199.81,214.87 207.29,209.88 217.27,206.14 227.25,208.64 237.23,212.38 247.21,209.88 257.19,204.89 260.94,212.38 259.69,222.36 261.68,233.59 253.45,236.58 244.72,234.09 234.74,237.83 224.76,240.32 218.52,239.08 216.02,232.34 209.79,228.6 204.8,222.36Z"/>
<path fill="#eeefb2" d="M207.79,212.38 213.53,206.14 219.77,209.88 217.27,216.87 211.03,217.37Z"/>
<path fill="#f9b1b5" d="M214.28,216.87 222.26,212.88 229.75,216.12 227.25,222.86 218.52,224.35Z"/>
<path fill="#f9b1b5" d="M230.25,222.36 239.73,216.87 248.46,221.11 247.21,229.84 239.73,234.83 233.49,231.09Z"/>
<path fill="#eeefb2" d="M227.75,219.36 239.23,218.62 239.73,225.35 228.5,226.1Z"/>
<path fill="#ffffff" d="M257.69,199.9 263.43,198.65 264.68,211.13 258.44,212.38Z"/>
<path fill="#ffffff" d="M262.18,224.35 266.67,223.61 267.17,231.84 262.68,232.34Z"/>
<path fill="#f8604f" d="M199.81,147.5 222.26,147.5 223.51,157.49 219.77,162.48 209.79,158.73 201.05,156.24Z"/>
<path fill="#f9b1b5" d="M222.26,147.5 289.63,147.5 284.64,159.98 279.65,167.47 272.16,173.7 262.18,174.95 252.2,172.46 242.22,164.97 229.75,162.48 223.51,157.49Z"/>
<path fill="#eeefb2" d="M249.71,159.98 259.69,157.49 272.16,161.23 279.65,157.49 284.64,162.48 279.65,169.96 272.16,173.7 262.18,174.95 252.2,171.21Z"/>
<path fill="#f9b1b5" d="M257.69,173.7 271.66,172.46 272.16,184.43 258.69,184.93Z"/>
<path fill="#99d5a3" d="M267.17,197.41 279.65,194.91 292.12,197.41 299.61,204.89 297.12,219.86 294.62,234.83 289.63,247.31 282.14,249.81 274.66,242.32 269.67,229.84 268.42,212.38Z"/>
<path fill="#eeefb2" d="M285.89,212.38 293.37,207.89 299.61,213.63 297.12,224.85 290.88,232.34 285.89,224.85Z"/>
<path fill="#f9b1b5" d="M279.15,219.86 285.14,216.12 287.13,227.35 283.39,237.33 278.4,232.34Z"/>
<path fill="#f9b1b5" d="M295.12,195.41 304.1,194.91 304.6,202.9 295.87,203.65Z"/>
<path fill="#eeefb2" d="M270.17,233.59 277.65,232.34 278.4,246.81 271.17,247.31Z"/>
<path fill="#ffffff" d="M272.66,240.32 277.15,239.82 277.15,245.81 272.91,246.06Z"/>
<path fill="#eeefb2" d="M308.34,244.81 317.08,239.82 329.55,241.07 338.28,246.06 337.04,254.8 327.06,257.29 317.08,256.04 309.59,252.3Z"/>
<path fill="#ffffff" d="M315.08,218.62 328.3,217.37 329.05,228.6 315.83,229.84Z"/>
<path fill="#f8604f" d="M300.86,147.5 315.83,147.5 315.08,157.49 302.11,157.98Z"/>
<path fill="#f8604f" d="M319.57,147.5 335.79,147.5 335.04,156.99 320.57,157.49Z"/>
<path fill="#f8604f" d="M328.3,159.48 335.79,158.73 336.04,166.22 329.05,166.47Z"/>
<path fill="#f8604f" d="M319.57,185.43 323.31,184.93 323.56,189.92 320.07,189.92Z"/>
<path fill="#33b581" d="M299.61,199.9 314.58,198.65 329.55,194.91 339.53,207.39 345.77,214.87 339.53,232.34 324.56,232.34 312.09,229.84 302.11,219.86Z"/>
<filter id="f24" x="0" y="0" width="1" height="1" color-interpolation-filters="sRGB">
<feTurbulence type="fractalNoise" baseFrequency="0.09" numOctaves="2" seed="60" result="t1_0"/>
<feColorMatrix in="t1_0" type="matrix" values="0 0 0 0 0.600 0 0 0 0 0.835 0 0 0 0 0.639 60 0 0 0 -35.76" result="l0"/>
<feTurbulence type="fractalNoise" baseFrequency="0.15" numOctaves="2" seed="73" result="t2_0"/>
<feColorMatrix in="t2_0" type="matrix" values="0 0 0 0 1.000 0 0 0 0 1.000 0 0 0 0 1.000 60 0 0 0 -37.74" result="l1"/>
<feMerge><feMergeNode in="SourceGraphic"/><feMergeNode in="l0"/><feMergeNode in="l1"/></feMerge>
<feComposite in2="SourceAlpha" operator="in"/></filter>
<path fill="#33b581" filter="url(#f24)" d="M299.61,199.9 314.58,198.65 329.55,194.91 339.53,207.39 345.77,214.87 339.53,232.34 324.56,232.34 312.09,229.84 302.11,219.86Z"/>
<path fill="#33b581" d="M339.53,219.86 357,217.37 357,249.81 343.27,249.81 338.28,234.83Z"/>
<path fill="#99d5a3" d="M342.42,116.04 351.15,106.06 348.65,96.08 372.36,87.35 396.06,72.38 368.62,69.88 372.36,54.41 386.08,47.43 384.83,24.97 407.29,16.99 421.01,27.47 429.75,42.44 449.71,51.17 473.41,42.44 473.41,68.64 463.43,77.37 465.93,96.08 449.71,112.3 435.98,118.54 413.53,138.5 409.79,137.25 417.27,123.53 399.81,129.77 394.81,139.75 382.34,134.76 364.87,119.79 359.88,126.02 349.9,127.27Z"/>
<filter id="f25" x="0" y="0" width="1" height="1" color-interpolation-filters="sRGB">
<feTurbulence type="fractalNoise" baseFrequency="0.07" numOctaves="2" seed="58" result="t1_0"/>
<feColorMatrix in="t1_0" type="matrix" values="0 0 0 0 0.200 0 0 0 0 0.710 0 0 0 0 0.506 60 0 0 0 -33.66" result="l0"/>
<feTurbulence type="fractalNoise" baseFrequency="0.08" numOctaves="2" seed="71" result="t2_0"/>
<feColorMatrix in="t2_0" type="matrix" values="0 0 0 0 0.933 0 0 0 0 0.937 0 0 0 0 0.698 60 0 0 0 -35.34" result="l1"/>
<feTurbulence type="fractalNoise" baseFrequency="0.16" numOctaves="2" seed="84" result="t3_0"/>
<feColorMatrix in="t3_0" type="matrix" values="0 0 0 0 1.000 0 0 0 0 1.000 0 0 0 0 1.000 60 0 0 0 -41.12" result="l2"/>
<feMerge><feMergeNode in="SourceGraphic"/><feMergeNode in="l0"/><feMergeNode in="l1"/><feMergeNode in="l2"/></feMerge>
<feComposite in2="SourceAlpha" operator="in"/></filter>
<path fill="#99d5a3" filter="url(#f25)" d="M342.42,116.04 351.15,106.06 348.65,96.08 372.36,87.35 396.06,72.38 368.62,69.88 372.36,54.41 386.08,47.43 384.83,24.97 407.29,16.99 421.01,27.47 429.75,42.44 449.71,51.17 473.41,42.44 473.41,68.64 463.43,77.37 465.93,96.08 449.71,112.3 435.98,118.54 413.53,138.5 409.79,137.25 417.27,123.53 399.81,129.77 394.81,139.75 382.34,134.76 364.87,119.79 359.88,126.02 349.9,127.27Z"/>
<filter id="f26" x="0" y="0" width="1" height="1" color-interpolation-filters="sRGB">
<feTurbulence type="fractalNoise" baseFrequency="0.08" numOctaves="2" seed="71" result="t1_0"/>
<feColorMatrix in="t1_0" type="matrix" values="0 0 0 0 0.600 0 0 0 0 0.835 0 0 0 0 0.639 60 0 0 0 -34.71" result="l0"/>
<feTurbulence type="fractalNoise" baseFrequency="0.1" numOctaves="2" seed="84" result="t2_0"/>
<feColorMatrix in="t2_0" type="matrix" values="0 0 0 0 0.933 0 0 0 0 0.937 0 0 0 0 0.698 60 0 0 0 -42.64" result="l1"/>
<feTurbulence type="fractalNoise" baseFrequency="0.15" numOctaves="2" seed="97" result="t3_0"/>
<feColorMatrix in="t3_0" type="matrix" values="0 0 0 0 1.000 0 0 0 0 1.000 0 0 0 0 1.000 60 0 0 0 -40.61" result="l2"/>
<feMerge><feMergeNode in="SourceGraphic"/><feMergeNode in="l0"/><feMergeNode in="l1"/><feMergeNode in="l2"/></feMerge>
<feComposite in2="SourceAlpha" operator="in"/></filter>
<path fill="#33b581" filter="url(#f26)" d="M417.27,37.45 422.26,34.95 429.75,44.43 443.47,45.68 449.71,53.17 454.7,55.66 471.66,43.93 473.16,53.66 470.67,63.65 471.91,68.64 465.68,72.38 460.94,77.37 454.7,79.86 449.71,82.36 442.22,84.85 434.74,83.61 427.25,81.11 419.77,79.86 413.53,77.37 407.29,69.88 411.03,63.65 414.78,58.65 417.27,49.92Z"/>
<path fill="#99d5a3" d="M429.75,49.92 437.23,46.18 447.21,51.17 449.71,57.41 442.22,59.9 434.74,56.16Z"/>
<path fill="#ffffff" d="M437.73,54.91 442.72,50.42 449.21,54.91 449.71,63.65 444.72,66.14 439.73,61.15Z"/>
<path fill="#ffffff" d="M421.01,36.95 424.76,34.95 429.25,43.68 424.76,45.43Z"/>
<path fill="#ffffff" d="M412.28,63.65 416.77,62.4 417.27,71.13 413.53,71.88Z"/>
<path fill="#ffffff" d="M419.77,69.88 423.51,69.88 423.51,77.87 420.27,77.87Z"/>
<path fill="#ffffff" d="M429.75,66.14 434.24,66.14 434.24,71.88 430.25,71.88Z"/>
<path fill="#eeefb2" d="M450.21,61.15 459.19,59.9 459.69,69.38 450.96,69.88Z"/>
<path fill="#eeefb2" d="M450.96,79.86 457.19,77.87 461.68,83.61 460.69,89.84 453.45,89.35Z"/>
<path fill="#33b581" d="M399.81,24.97 407.29,19.48 414.78,20.98 421.51,29.96 424.76,36.2 417.27,37.45 417.27,49.92 414.78,58.65 411.03,63.65 407.29,69.88 402.3,63.65 399.81,54.91 401.05,42.44 402.3,34.95Z"/>
<path fill="#99d5a3" d="M392.32,24.47 399.81,24.47 402.3,34.95 401.05,42.44 399.81,54.91 394.81,57.41 391.07,49.92 388.58,37.45 387.83,28.71Z"/>
<path fill="#eeefb2" d="M385.83,28.71 391.07,24.47 393.57,32.46 391.07,42.44 386.33,46.93Z"/>
<path fill="#f9b1b5" d="M378.6,56.16 386.08,49.92 393.57,49.42 394.81,57.41 391.07,63.65 386.08,68.64 379.84,67.39Z"/>
<path fill="#eeefb2" d="M385.33,59.9 391.07,56.16 396.81,59.9 394.81,67.39 387.83,68.64Z"/>
<path fill="#f8604f" d="M367.87,70.38 369.86,62.4 371.86,53.91 377.85,54.91 378.6,62.4 377.35,69.38 373.61,71.88Z"/>
<path fill="#f9b1b5" d="M347.91,97.33 351.15,94.34 362.38,91.34 372.36,86.85 379.84,81.86 387.33,79.36 394.81,76.37 393.57,84.85 388.58,94.83 383.59,101.07 377.35,107.31 372.36,114.8 364.87,119.79 359.88,116.04 353.65,109.81 348.65,106.06Z"/>
<path fill="#f8604f" d="M375.35,93.59 383.59,88.6 391.82,87.85 389.82,94.83 383.59,99.33 377.35,100.32Z"/>
<path fill="#eeefb2" d="M376.1,102.82 386.08,102.32 386.08,111.8 376.85,112.3Z"/>
<path fill="#eeefb2" d="M344.91,112.3 349.9,106.81 359.88,109.81 365.37,116.04 359.88,119.79 351.15,118.54Z"/>
<path fill="#99d5a3" d="M384.83,101.07 391.07,93.59 396.06,89.84 403.55,94.83 404.8,103.57 398.56,108.56 389.82,109.81Z"/>
<path fill="#eeefb2" d="M392.82,85.35 404.3,84.85 404.8,95.58 393.57,96.08Z"/>
<path fill="#33b581" d="M394.32,76.87 399.81,72.38 407.29,69.88 412.28,77.37 411.03,84.85 406.04,92.34 399.81,89.84 396.06,84.85Z"/>
<path fill="#33b581" d="M342.42,116.04 346.16,111.05 353.65,113.55 359.88,119.79 358.64,126.02 349.9,127.27 344.91,122.28Z"/>
<path fill="#f9b1b5" d="M297.5,123.53 311.23,120.53 319.96,118.04 337.43,116.79 342.42,116.04 344.91,122.28 349.9,127.27 353.65,132.26 349.9,139.75 346.16,147.23 339.92,152.22 332.44,159.71 324.95,162.2 314.97,159.71 307.49,157.21 297.5,159.71Z"/>
<path fill="#f8604f" d="M297.5,124.78 307.49,123.53 312.48,129.77 317.47,134.76 323.7,139.75 332.44,138.5 343.66,134.76 349.4,137.25 346.16,144.74 341.17,149.73 334.93,154.72 329.94,157.21 323.7,153.47 319.96,145.98 314.97,152.22 308.73,157.21 302.5,154.72 297.5,149.73Z"/>
<path fill="#f8604f" d="M336.93,119.79 342.42,115.29 347.41,121.03 346.16,126.02 338.67,125.27Z"/>
<path fill="#eeefb2" d="M329.94,128.52 339.92,126.77 349.9,128.52 348.65,133.51 337.43,134.26 327.45,133.51Z"/>
<path fill="#99d5a3" d="M318.71,132.26 327.45,129.77 329.94,134.76 322.46,137.25Z"/>
<path fill="#f8604f" d="M317.96,151.72 321.96,150.97 322.46,160.46 318.46,160.96Z"/>
<path fill="#f8604f" d="M326.2,159.71 334.93,158.46 336.18,166.69 327.45,167.19Z"/>
<path fill="#99d5a3" d="M297.5,142.24 304.99,142.74 304.99,150.97 297.5,150.97Z"/>
<path fill="#33b581" d="M407.29,81.11 417.27,78.62 427.25,82.36 429.75,88.6 422.26,92.34 413.53,91.09 408.54,87.35Z"/>
<path fill="#eeefb2" d="M426,92.34 434.74,88.6 443.47,92.34 444.72,102.32 439.73,109.81 432.24,107.31 427.25,99.82Z"/>
<path fill="#eeefb2" d="M450.21,85.35 461.68,84.85 462.18,95.58 451.2,96.08Z"/>
<path fill="#33b581" d="M430.25,82.86 449.21,82.36 449.71,91.84 431.24,92.34Z"/>
<path fill="#33b581" d="M396.06,114.8 402.3,108.56 412.28,104.81 419.77,108.56 418.52,117.29 412.28,123.53 404.8,127.27 398.56,122.28Z"/>
<path fill="#eeefb2" d="M414.78,106.06 422.26,102.82 427.25,109.81 424.76,118.54 418.52,119.79Z"/>
<path fill="#ffffff" d="M417.77,110.3 424.26,109.81 424.76,116.79 418.27,117.29Z"/>
<path fill="#f9b1b5" d="M411.53,129.27 418.02,128.52 418.52,135.5 412.28,136Z"/>
<path fill="#ffffff" d="M374.85,129.77 382.34,127.27 384.83,133.51 378.6,137.25 374.85,134.76Z"/>
<path fill="#ffffff" d="M383.59,136 388.58,134.76 389.82,143.49 384.83,144.74Z"/>
<path fill="#f8604f" d="M390.32,136 392.82,135.5 393.32,139.75 390.82,140Z"/>
<path fill="#eeefb2" d="M374.85,164.7 382.34,154.72 392.32,148.48 399.81,148.48 404.8,149.73 402.3,154.72 407.29,152.22 412.28,148.48 419.77,149.73 422.26,153.47 417.27,157.21 412.28,162.2 407.29,167.19 402.3,177.17 394.81,182.16 384.83,179.67 377.35,174.68Z"/>
<path fill="#f9b1b5" d="M399.81,150.97 407.29,152.22 412.28,148.48 419.77,149.73 422.26,153.47 417.27,157.21 412.28,162.2 407.29,163.45 402.3,159.71Z"/>
<filter id="f27" x="0" y="0" width="1" height="1" color-interpolation-filters="sRGB">
<feTurbulence type="fractalNoise" baseFrequency="0.09" numOctaves="2" seed="61" result="t1_0"/>
<feColorMatrix in="t1_0" type="matrix" values="0 0 0 0 0.600 0 0 0 0 0.835 0 0 0 0 0.639 60 0 0 0 -32.12" result="l0"/>
<feColorMatrix in="t1_0" type="matrix" values="0 0 0 0 0.976 0 0 0 0 0.694 0 0 0 0 0.710 0 60 0 0 -37.41" result="l1"/>
<feTurbulence type="fractalNoise" baseFrequency="0.1" numOctaves="2" seed="74" result="t2_0"/>
<feColorMatrix in="t2_0" type="matrix" values="0 0 0 0 0.200 0 0 0 0 0.710 0 0 0 0 0.506 60 0 0 0 -39.06" result="l2"/>
<feTurbulence type="fractalNoise" baseFrequency="0.15" numOctaves="2" seed="87" result="t3_0"/>
<feColorMatrix in="t3_0" type="matrix" values="0 0 0 0 1.000 0 0 0 0 1.000 0 0 0 0 1.000 60 0 0 0 -38.40" result="l3"/>
<feMerge><feMergeNode in="SourceGraphic"/><feMergeNode in="l0"/><feMergeNode in="l1"/><feMergeNode in="l2"/><feMergeNode in="l3"/></feMerge>
<feComposite in2="SourceAlpha" operator="in"/></filter>
<path fill="#eeefb2" filter="url(#f27)" d="M374.85,164.7 382.34,154.72 392.32,148.48 399.81,148.48 404.8,149.73 402.3,154.72 407.29,152.22 412.28,148.48 419.77,149.73 422.26,153.47 417.27,157.21 412.28,162.2 407.29,167.19 402.3,177.17 394.81,182.16 384.83,179.67 377.35,174.68Z"/>
<path fill="#eeefb2" d="M347.41,134.76 359.88,126.02 366.12,129.77 367.37,144.74 366.12,159.71 363.63,174.68 357.39,182.16 348.65,179.67 346.16,164.7 346.16,149.73Z"/>
<filter id="f28" x="0" y="0" width="1" height="1" color-interpolation-filters="sRGB">
<feTurbulence type="fractalNoise" baseFrequency="0.09" numOctaves="2" seed="62" result="t1_0"/>
<feColorMatrix in="t1_0" type="matrix" values="0 0 0 0 0.933 0 0 0 0 0.937 0 0 0 0 0.698 60 0 0 0 -33.08" result="l0"/>
<feColorMatrix in="t1_0" type="matrix" values="0 0 0 0 0.200 0 0 0 0 0.710 0 0 0 0 0.506 0 60 0 0 -34.08" result="l1"/>
<feTurbulence type="fractalNoise" baseFrequency="0.15" numOctaves="2" seed="75" result="t2_0"/>
<feColorMatrix in="t2_0" type="matrix" values="0 0 0 0 1.000 0 0 0 0 1.000 0 0 0 0 1.000 60 0 0 0 -38.40" result="l2"/>
<feMerge><feMergeNode in="SourceGraphic"/><feMergeNode in="l0"/><feMergeNode in="l1"/><feMergeNode in="l2"/></feMerge>
<feComposite in2="SourceAlpha" operator="in"/></filter>
<path fill="#99d5a3" filter="url(#f28)" d="M347.41,134.76 359.88,126.02 366.12,129.77 367.37,144.74 366.12,159.71 363.63,174.68 357.39,182.16 348.65,179.67 346.16,164.7 346.16,149.73Z"/>
<path fill="#eeefb2" d="M392.32,177.45 399.81,173.7 407.29,173.7 413.53,182.44 419.77,189.92 424.76,197.41 430.99,203.65 430.99,219.86 427.25,226.1 424.01,232.34 421.51,238.58 418.27,247.31 414.03,253.55 407.29,259.79 402.3,254.8 399.81,244.81 404.8,234.83 407.29,224.85 404.8,214.87 399.81,207.39 402.3,197.41 397.31,187.43Z"/>
<path fill="#f9b1b5" d="M401.05,189.92 409.79,186.18 419.77,191.17 423.51,199.9 417.27,204.89 407.29,203.65 402.3,197.41Z"/>
<path fill="#f9b1b5" d="M408.54,207.39 423.51,206.14 424.76,223.61 409.79,224.85Z"/>
<filter id="f29" x="0" y="0" width="1" height="1" color-interpolation-filters="sRGB">
<feTurbulence type="fractalNoise" baseFrequency="0.08" numOctaves="2" seed="63" result="t1_0"/>
<feColorMatrix in="t1_0" type="matrix" values="0 0 0 0 0.976 0 0 0 0 0.694 0 0 0 0 0.710 60 0 0 0 -33.66" result="l0"/>
<feTurbulence type="fractalNoise" baseFrequency="0.09" numOctaves="2" seed="76" result="t2_0"/>
<feColorMatrix in="t2_0" type="matrix" values="0 0 0 0 0.600 0 0 0 0 0.835 0 0 0 0 0.639 60 0 0 0 -35.76" result="l1"/>
<feTurbulence type="fractalNoise" baseFrequency="0.1" numOctaves="2" seed="89" result="t3_0"/>
<feColorMatrix in="t3_0" type="matrix" values="0 0 0 0 0.200 0 0 0 0 0.710 0 0 0 0 0.506 60 0 0 0 -40.09" result="l2"/>
<feTurbulence type="fractalNoise" baseFrequency="0.15" numOctaves="2" seed="102" result="t4_0"/>
<feColorMatrix in="t4_0" type="matrix" values="0 0 0 0 1.000 0 0 0 0 1.000 0 0 0 0 1.000 60 0 0 0 -41.12" result="l3"/>
<feMerge><feMergeNode in="SourceGraphic"/><feMergeNode in="l0"/><feMergeNode in="l1"/><feMergeNode in="l2"/><feMergeNode in="l3"/></feMerge>
<feComposite in2="SourceAlpha" operator="in"/></filter>
<path fill="#eeefb2" filter="url(#f29)" d="M392.32,177.45 399.81,173.7 407.29,173.7 413.53,182.44 419.77,189.92 424.76,197.41 430.99,203.65 430.99,219.86 427.25,226.1 424.01,232.34 421.51,238.58 418.27,247.31 414.03,253.55 407.29,259.79 402.3,254.8 399.81,244.81 404.8,234.83 407.29,224.85 404.8,214.87 399.81,207.39 402.3,197.41 397.31,187.43Z"/>
<path fill="#eeefb2" d="M373.61,224.85 382.34,218.62 394.81,217.37 403.55,221.11 406.04,232.34 402.3,244.81 397.31,254.8 387.33,257.29 379.84,252.3 374.85,239.82Z"/>
<path fill="#f9b1b5" d="M380.34,220.36 391.82,219.86 392.32,234.34 381.09,234.83Z"/>
<path fill="#f9b1b5" d="M397.81,227.85 406.79,227.35 407.29,239.33 398.56,239.82Z"/>
<filter id="f30" x="0" y="0" width="1" height="1" color-interpolation-filters="sRGB">
<feTurbulence type="fractalNoise" baseFrequency="0.09" numOctaves="2" seed="64" result="t1_0"/>
<feColorMatrix in="t1_0" type="matrix" values="0 0 0 0 0.600 0 0 0 0 0.835 0 0 0 0 0.639 60 0 0 0 -33.66" result="l0"/>
<feTurbulence type="fractalNoise" baseFrequency="0.08" numOctaves="2" seed="77" result="t2_0"/>
<feColorMatrix in="t2_0" type="matrix" values="0 0 0 0 0.976 0 0 0 0 0.694 0 0 0 0 0.710 60 0 0 0 -35.76" result="l1"/>
<feTurbulence type="fractalNoise" baseFrequency="0.1" numOctaves="2" seed="90" result="t3_0"/>
<feColorMatrix in="t3_0" type="matrix" values="0 0 0 0 0.200 0 0 0 0 0.710 0 0 0 0 0.506 60 0 0 0 -37.41" result="l2"/>
<feTurbulence type="fractalNoise" baseFrequency="0.15" numOctaves="2" seed="103" result="t4_0"/>
<feColorMatrix in="t4_0" type="matrix" values="0 0 0 0 1.000 0 0 0 0 1.000 0 0 0 0 1.000 60 0 0 0 -41.12" result="l3"/>
<feMerge><feMergeNode in="SourceGraphic"/><feMergeNode in="l0"/><feMergeNode in="l1"/><feMergeNode in="l2"/><feMergeNode in="l3"/></feMerge>
<feComposite in2="SourceAlpha" operator="in"/></filter>
<path fill="#eeefb2" filter="url(#f30)" d="M373.61,224.85 382.34,218.62 394.81,217.37 403.55,221.11 406.04,232.34 402.3,244.81 397.31,254.8 387.33,257.29 379.84,252.3 374.85,239.82Z"/>
<path fill="#33b581" d="M341.17,224.85 349.9,221.11 362.38,219.86 372.36,224.85 374.85,237.33 372.36,249.81 362.38,254.8 352.4,252.3 344.91,244.81 339.92,234.83Z"/>
<filter id="f31" x="0" y="0" width="1" height="1" color-interpolation-filters="sRGB">
<feTurbulence type="fractalNoise" baseFrequency="0.08" numOctaves="2" seed="65" result="t1_0"/>
<feColorMatrix in="t1_0" type="matrix" values="0 0 0 0 0.600 0 0 0 0 0.835 0 0 0 0 0.639 60 0 0 0 -32.70" result="l0"/>
<feTurbulence type="fractalNoise" baseFrequency="0.1" numOctaves="2" seed="78" result="t2_0"/>
<feColorMatrix in="t2_0" type="matrix" values="0 0 0 0 0.933 0 0 0 0 0.937 0 0 0 0 0.698 60 0 0 0 -41.12" result="l1"/>
<feTurbulence type="fractalNoise" baseFrequency="0.15" numOctaves="2" seed="91" result="t3_0"/>
<feColorMatrix in="t3_0" type="matrix" values="0 0 0 0 1.000 0 0 0 0 1.000 0 0 0 0 1.000 60 0 0 0 -40.09" result="l2"/>
<feMerge><feMergeNode in="SourceGraphic"/><feMergeNode in="l0"/><feMergeNode in="l1"/><feMergeNode in="l2"/></feMerge>
<feComposite in2="SourceAlpha" operator="in"/></filter>
<path fill="#33b581" filter="url(#f31)" d="M341.17,224.85 349.9,221.11 362.38,219.86 372.36,224.85 374.85,237.33 372.36,249.81 362.38,254.8 352.4,252.3 344.91,244.81 339.92,234.83Z"/>
<filter id="f32" x="0" y="0" width="1" height="1" color-interpolation-filters="sRGB">
<feTurbulence type="fractalNoise" baseFrequency="0.08" numOctaves="2" seed="67" result="t1_0"/>
<feColorMatrix in="t1_0" type="matrix" values="0 0 0 0 0.200 0 0 0 0 0.710 0 0 0 0 0.506 60 0 0 0 -31.42" result="l0"/>
<feColorMatrix in="t1_0" type="matrix" values="0 0 0 0 0.933 0 0 0 0 0.937 0 0 0 0 0.698 0 60 0 0 -34.08" result="l1"/>
<feTurbulence type="fractalNoise" baseFrequency="0.15" numOctaves="2" seed="80" result="t2_0"/>
<feColorMatrix in="t2_0" type="matrix" values="0 0 0 0 1.000 0 0 0 0 1.000 0 0 0 0 1.000 60 0 0 0 -40.61" result="l2"/>
<feMerge><feMergeNode in="SourceGraphic"/><feMergeNode in="l0"/><feMergeNode in="l1"/><feMergeNode in="l2"/></feMerge>
<feComposite in2="SourceAlpha" operator="in"/></filter>
<path fill="#99d5a3" filter="url(#f32)" d="M347.41,177.45 362.38,174.95 372.36,176.2 381.09,182.44 383.59,194.91 379.84,203.65 369.86,204.89 357.39,202.4 348.65,194.91Z"/>
<filter id="f33" x="0" y="0" width="1" height="1" color-interpolation-filters="sRGB">
<feTurbulence type="fractalNoise" baseFrequency="0.09" numOctaves="2" seed="70" result="t1_0"/>
<feColorMatrix in="t1_0" type="matrix" values="0 0 0 0 0.600 0 0 0 0 0.835 0 0 0 0 0.639 60 0 0 0 -33.66" result="l0"/>
<feTurbulence type="fractalNoise" baseFrequency="0.15" numOctaves="2" seed="83" result="t2_0"/>
<feColorMatrix in="t2_0" type="matrix" values="0 0 0 0 1.000 0 0 0 0 1.000 0 0 0 0 1.000 60 0 0 0 -40.09" result="l1"/>
<feMerge><feMergeNode in="SourceGraphic"/><feMergeNode in="l0"/><feMergeNode in="l1"/></feMerge>
<feComposite in2="SourceAlpha" operator="in"/></filter>
<path fill="#eeefb2" filter="url(#f33)" d="M307.49,249.81 314.97,242.32 327.45,241.07 337.43,247.31 334.93,257.29 324.95,262.28 312.48,261.03Z"/>
<path fill="#f9b1b5" d="M351.15,204.89 357.89,203.65 359.38,211.13 352.4,211.88Z"/>
<path fill="#ffffff" d="M371.11,208.64 378.6,206.14 381.09,214.87 373.61,218.62Z"/>
<path fill="#eeefb2" d="M314.97,218.62 324.95,216.12 327.45,224.85 318.71,227.35Z"/>
<path fill="#ffffff" d="M318.71,221.11 324.95,220.61 324.95,225.6 319.46,226.1Z"/>
<filter id="f34" x="0" y="0" width="1" height="1" color-interpolation-filters="sRGB">
<feTurbulence type="fractalNoise" baseFrequency="0.09" numOctaves="2" seed="69" result="t1_0"/>
<feColorMatrix in="t1_0" type="matrix" values="0 0 0 0 0.933 0 0 0 0 0.937 0 0 0 0 0.698 60 0 0 0 -32.70" result="l0"/>
<feColorMatrix in="t1_0" type="matrix" values="0 0 0 0 0.600 0 0 0 0 0.835 0 0 0 0 0.639 0 60 0 0 -35.76" result="l1"/>
<feMerge><feMergeNode in="SourceGraphic"/><feMergeNode in="l0"/><feMergeNode in="l1"/></feMerge>
<feComposite in2="SourceAlpha" operator="in"/></filter>
<path fill="#f9b1b5" filter="url(#f34)" d="M363.63,269.27 381.09,267.27 382.84,278.5 365.37,280.25Z"/>
<path fill="#33b581" d="M300,159.98 314.97,157.49 324.95,169.96 323.7,187.43 317.47,199.9 304.99,199.9 295.01,187.43Z"/>
<filter id="f35" x="0" y="0" width="1" height="1" color-interpolation-filters="sRGB">
<feTurbulence type="fractalNoise" baseFrequency="0.09" numOctaves="2" seed="66" result="t1_0"/>
<feColorMatrix in="t1_0" type="matrix" values="0 0 0 0 0.600 0 0 0 0 0.835 0 0 0 0 0.639 60 0 0 0 -34.71" result="l0"/>
<feTurbulence type="fractalNoise" baseFrequency="0.15" numOctaves="2" seed="79" result="t2_0"/>
<feColorMatrix in="t2_0" type="matrix" values="0 0 0 0 1.000 0 0 0 0 1.000 0 0 0 0 1.000 60 0 0 0 -38.40" result="l1"/>
<feMerge><feMergeNode in="SourceGraphic"/><feMergeNode in="l0"/><feMergeNode in="l1"/></feMerge>
<feComposite in2="SourceAlpha" operator="in"/></filter>
<path fill="#33b581" filter="url(#f35)" d="M300,159.98 314.97,157.49 324.95,169.96 323.7,187.43 317.47,199.9 304.99,199.9 295.01,187.43Z"/>
<path fill="#f8604f" d="M297.5,147.5 314.97,147.5 314.47,156.99 304.99,158.73 297.5,157.49Z"/>
<path fill="#f8604f" d="M321.21,147.5 334.93,147.5 334.43,154.49 321.96,154.99Z"/>
<path fill="#f8604f" d="M326.2,155.49 336.18,154.99 336.43,165.72 331.19,166.22Z"/>
<path fill="#f8604f" d="M319.96,185.43 323.7,184.93 323.95,189.92 320.46,189.92Z"/>
<path fill="#99d5a3" d="M337.43,305.95 344.91,299.71 354.89,299.21 359.88,302.2 356.14,309.69 351.15,314.68 343.66,316.67 338.67,311.68Z"/>
<path fill="#eeefb2" d="M346.16,303.45 353.65,302.2 353.65,309.69 348.65,312.18Z"/>
<path fill="#33b581" d="M339.92,307.69 344.91,305.95 345.41,312.18 341.17,312.68Z"/>
</g>
<use href="#prov" clip-path="url(#cn)"/>
<use href="#coastfuzz"/>
<use href="#cnline"/>
</g></g>
<g transform="translate(406.5,394.4)">
<clipPath id="icd"><rect x="445.5" y="231.9" width="71.79999999999995" height="91.70000000000002"/></clipPath>
<g clip-path="url(#icd)"><use href="#md" transform="translate(283.3,106.8) scale(0.5)"/></g>
<path d="M506.49,232.6L506.49,236.79M505.09,244.49L503.27,247.99M499.49,256.39L497.67,261.28M497.25,268.98L497.67,273.18M499.49,285.08L497.67,289.27M488.85,302.57L486.06,306.07M475.28,319.64L471.08,321.04M452.47,308.45L453.59,312.65M460.59,287.88L461.42,291.65M456.67,272.48L459.19,275.98M441.27,252.89L441.69,261.98M438.89,276.68L434.69,285.08M428.4,300.47L424.9,308.87M423.64,324.26L424.2,326.36" stroke="#2a2a2a" stroke-width="1.1" fill="none"/>
<path d="M482.53,250.09a0.45,0.45 0 1,0 0.9,0a0.45,0.45 0 1,0 -0.9,0M485.33,251.07a0.45,0.45 0 1,0 0.9,0a0.45,0.45 0 1,0 -0.9,0M470.63,257.79a0.45,0.45 0 1,0 0.9,0a0.45,0.45 0 1,0 -0.9,0M474.13,258.49a0.45,0.45 0 1,0 0.9,0a0.45,0.45 0 1,0 -0.9,0M465.03,268.98a0.45,0.45 0 1,0 0.9,0a0.45,0.45 0 1,0 -0.9,0M467.13,271.08a0.45,0.45 0 1,0 0.9,0a0.45,0.45 0 1,0 -0.9,0M469.23,269.26a0.45,0.45 0 1,0 0.9,0a0.45,0.45 0 1,0 -0.9,0M470.21,272.48a0.45,0.45 0 1,0 0.9,0a0.45,0.45 0 1,0 -0.9,0M465.73,273.18a0.45,0.45 0 1,0 0.9,0a0.45,0.45 0 1,0 -0.9,0M476.23,272.48a0.45,0.45 0 1,0 0.9,0a0.45,0.45 0 1,0 -0.9,0M478.33,271.50a0.45,0.45 0 1,0 0.9,0a0.45,0.45 0 1,0 -0.9,0M479.73,273.18a0.45,0.45 0 1,0 0.9,0a0.45,0.45 0 1,0 -0.9,0M487.43,269.26a0.45,0.45 0 1,0 0.9,0a0.45,0.45 0 1,0 -0.9,0M492.04,273.46a0.45,0.45 0 1,0 0.9,0a0.45,0.45 0 1,0 -0.9,0M482.25,279.48a0.45,0.45 0 1,0 0.9,0a0.45,0.45 0 1,0 -0.9,0M479.73,289.97a0.45,0.45 0 1,0 0.9,0a0.45,0.45 0 1,0 -0.9,0M481.13,292.07a0.45,0.45 0 1,0 0.9,0a0.45,0.45 0 1,0 -0.9,0M479.03,294.17a0.45,0.45 0 1,0 0.9,0a0.45,0.45 0 1,0 -0.9,0M480.43,296.27a0.45,0.45 0 1,0 0.9,0a0.45,0.45 0 1,0 -0.9,0M481.83,298.37a0.45,0.45 0 1,0 0.9,0a0.45,0.45 0 1,0 -0.9,0M478.33,298.37a0.45,0.45 0 1,0 0.9,0a0.45,0.45 0 1,0 -0.9,0M488.13,287.88a0.45,0.45 0 1,0 0.9,0a0.45,0.45 0 1,0 -0.9,0M490.22,289.27a0.45,0.45 0 1,0 0.9,0a0.45,0.45 0 1,0 -0.9,0M491.62,291.37a0.45,0.45 0 1,0 0.9,0a0.45,0.45 0 1,0 -0.9,0M489.52,292.77a0.45,0.45 0 1,0 0.9,0a0.45,0.45 0 1,0 -0.9,0M487.43,294.17a0.45,0.45 0 1,0 0.9,0a0.45,0.45 0 1,0 -0.9,0M488.82,296.27a0.45,0.45 0 1,0 0.9,0a0.45,0.45 0 1,0 -0.9,0M486.03,296.97a0.45,0.45 0 1,0 0.9,0a0.45,0.45 0 1,0 -0.9,0M492.32,292.77a0.45,0.45 0 1,0 0.9,0a0.45,0.45 0 1,0 -0.9,0M490.92,287.18a0.45,0.45 0 1,0 0.9,0a0.45,0.45 0 1,0 -0.9,0M472.73,298.37a0.45,0.45 0 1,0 0.9,0a0.45,0.45 0 1,0 -0.9,0M470.63,300.47a0.45,0.45 0 1,0 0.9,0a0.45,0.45 0 1,0 -0.9,0M468.53,302.57a0.45,0.45 0 1,0 0.9,0a0.45,0.45 0 1,0 -0.9,0M467.83,304.67a0.45,0.45 0 1,0 0.9,0a0.45,0.45 0 1,0 -0.9,0M474.83,302.57a0.45,0.45 0 1,0 0.9,0a0.45,0.45 0 1,0 -0.9,0M476.93,303.97a0.45,0.45 0 1,0 0.9,0a0.45,0.45 0 1,0 -0.9,0M479.03,304.67a0.45,0.45 0 1,0 0.9,0a0.45,0.45 0 1,0 -0.9,0M481.13,303.69a0.45,0.45 0 1,0 0.9,0a0.45,0.45 0 1,0 -0.9,0M483.23,302.57a0.45,0.45 0 1,0 0.9,0a0.45,0.45 0 1,0 -0.9,0M484.63,301.17a0.45,0.45 0 1,0 0.9,0a0.45,0.45 0 1,0 -0.9,0M461.53,305.37a0.45,0.45 0 1,0 0.9,0a0.45,0.45 0 1,0 -0.9,0M459.44,306.49a0.45,0.45 0 1,0 0.9,0a0.45,0.45 0 1,0 -0.9,0M458.04,307.47a0.45,0.45 0 1,0 0.9,0a0.45,0.45 0 1,0 -0.9,0M472.73,312.37a0.45,0.45 0 1,0 0.9,0a0.45,0.45 0 1,0 -0.9,0M473.43,314.47a0.45,0.45 0 1,0 0.9,0a0.45,0.45 0 1,0 -0.9,0M474.83,315.17a0.45,0.45 0 1,0 0.9,0a0.45,0.45 0 1,0 -0.9,0M476.23,309.57a0.45,0.45 0 1,0 0.9,0a0.45,0.45 0 1,0 -0.9,0M471.33,320.06a0.45,0.45 0 1,0 0.9,0a0.45,0.45 0 1,0 -0.9,0M434.94,246.59a0.45,0.45 0 1,0 0.9,0a0.45,0.45 0 1,0 -0.9,0M420.25,265.48a0.45,0.45 0 1,0 0.9,0a0.45,0.45 0 1,0 -0.9,0M435.64,274.58a0.45,0.45 0 1,0 0.9,0a0.45,0.45 0 1,0 -0.9,0M420.67,238.19a0.45,0.45 0 1,0 0.9,0a0.45,0.45 0 1,0 -0.9,0M394.36,288.48a0.45,0.45 0 1,0 0.9,0a0.45,0.45 0 1,0 -0.9,0M400.60,290.97a0.45,0.45 0 1,0 0.9,0a0.45,0.45 0 1,0 -0.9,0M373.16,303.45a0.45,0.45 0 1,0 0.9,0a0.45,0.45 0 1,0 -0.9,0M379.39,305.20a0.45,0.45 0 1,0 0.9,0a0.45,0.45 0 1,0 -0.9,0M361.93,323.41a0.45,0.45 0 1,0 0.9,0a0.45,0.45 0 1,0 -0.9,0M364.92,324.66a0.45,0.45 0 1,0 0.9,0a0.45,0.45 0 1,0 -0.9,0M368.17,324.16a0.45,0.45 0 1,0 0.9,0a0.45,0.45 0 1,0 -0.9,0M371.91,325.16a0.45,0.45 0 1,0 0.9,0a0.45,0.45 0 1,0 -0.9,0M404.35,324.66a0.45,0.45 0 1,0 0.9,0a0.45,0.45 0 1,0 -0.9,0M435.53,246.06a0.45,0.45 0 1,0 0.9,0a0.45,0.45 0 1,0 -0.9,0M418.82,266.02a0.45,0.45 0 1,0 0.9,0a0.45,0.45 0 1,0 -0.9,0M436.28,272.76a0.45,0.45 0 1,0 0.9,0a0.45,0.45 0 1,0 -0.9,0" fill="none" stroke="#555" stroke-width="0.45"/>
<rect x="445.5" y="231.9" width="71.79999999999995" height="91.70000000000002" fill="none" stroke="#1c1c1c" stroke-width="1.1"/>
</g>
<text class="ttl" x="116.8" y="40">a 2000</text>
<text class="ttl" x="544" y="40.3">b 2015</text>
<text class="ttl" x="122.8" y="432">a 2000</text>
<text class="ttl" x="543.6" y="432">b 2015</text>
<text class="lt" x="98.8" y="256.6">Agricultural production function</text>
<rect x="99.2" y="263.4" width="30.6" height="14.6" fill="#33b581"/>
<text class="lg" x="135.3" y="275.7">I</text>
<rect x="175.8" y="263.4" width="30.6" height="14.6" fill="#f8aab3"/>
<text class="lg" x="211.2" y="275.7">IV</text>
<rect x="99.2" y="283.9" width="30.6" height="14.6" fill="#c7e9b4"/>
<text class="lg" x="135.3" y="296.2">II</text>
<rect x="175.8" y="283.9" width="30.6" height="14.6" fill="#f8604f"/>
<text class="lg" x="211.2" y="296.2">V</text>
<rect x="99.2" y="304.4" width="30.6" height="14.6" fill="#f4cfd1"/>
<text class="lg" x="135.3" y="316.7">III</text>
<rect x="176.20000000000002" y="304.79999999999995" width="29.8" height="13.799999999999999" fill="#fff" stroke="#6e6e6e" stroke-width="0.8"/>
<text class="lg" x="210.2" y="316.7">No data</text>
<text class="lt" x="98.4" y="650.6">Economic development function</text>
<rect x="102" y="661" width="30" height="14.6" fill="#33b581"/>
<text class="lg" x="138" y="673.3000000000001">I</text>
<rect x="176" y="661" width="30" height="14.6" fill="#f9b1b5"/>
<text class="lg" x="211.5" y="673.3000000000001">IV</text>
<rect x="102" y="681.2" width="30" height="14.6" fill="#99d5a3"/>
<text class="lg" x="138" y="693.5000000000001">II</text>
<rect x="176" y="681.2" width="30" height="14.6" fill="#f8604f"/>
<text class="lg" x="211.5" y="693.5000000000001">V</text>
<rect x="102" y="701.6" width="30" height="14.6" fill="#eeefb2"/>
<text class="lg" x="138" y="713.9000000000001">III</text>
<rect x="176.4" y="702.0" width="29.2" height="13.799999999999999" fill="#fff" stroke="#6e6e6e" stroke-width="0.8"/>
<text class="lg" x="210.5" y="713.9000000000001">No data</text>
<text class="sb" x="539.8000000000001" y="308.2">0</text>
<text class="sb" x="571.4" y="308.2">500 km</text>
<path d="M542.6,313.2 V318.8 H579.4 V313.2" fill="none" stroke="#222" stroke-width="1"/>
<text class="sb" x="548.6" y="700">0</text>
<text class="sb" x="580" y="700">500 km</text>
<path d="M551.4,704.7 V710.3 H588 V704.7" fill="none" stroke="#222" stroke-width="1"/>
<text class="cap" x="209.3" y="359.8"><tspan font-weight="bold">Fig. 3.</tspan></text>
<text class="cap" x="261.2" y="359.8" textLength="548.5" lengthAdjust="spacing">Distribution of China’s agricultural production function index from 2000 to 2015.</text>
<text class="cap" x="209.3" y="752.5"><tspan font-weight="bold">Fig. 4.</tspan></text>
<text class="cap" x="262.3" y="752.5" textLength="546" lengthAdjust="spacing">Distribution of China’s economic development function index from 2000 to 2015.</text>
</svg></body></html>
